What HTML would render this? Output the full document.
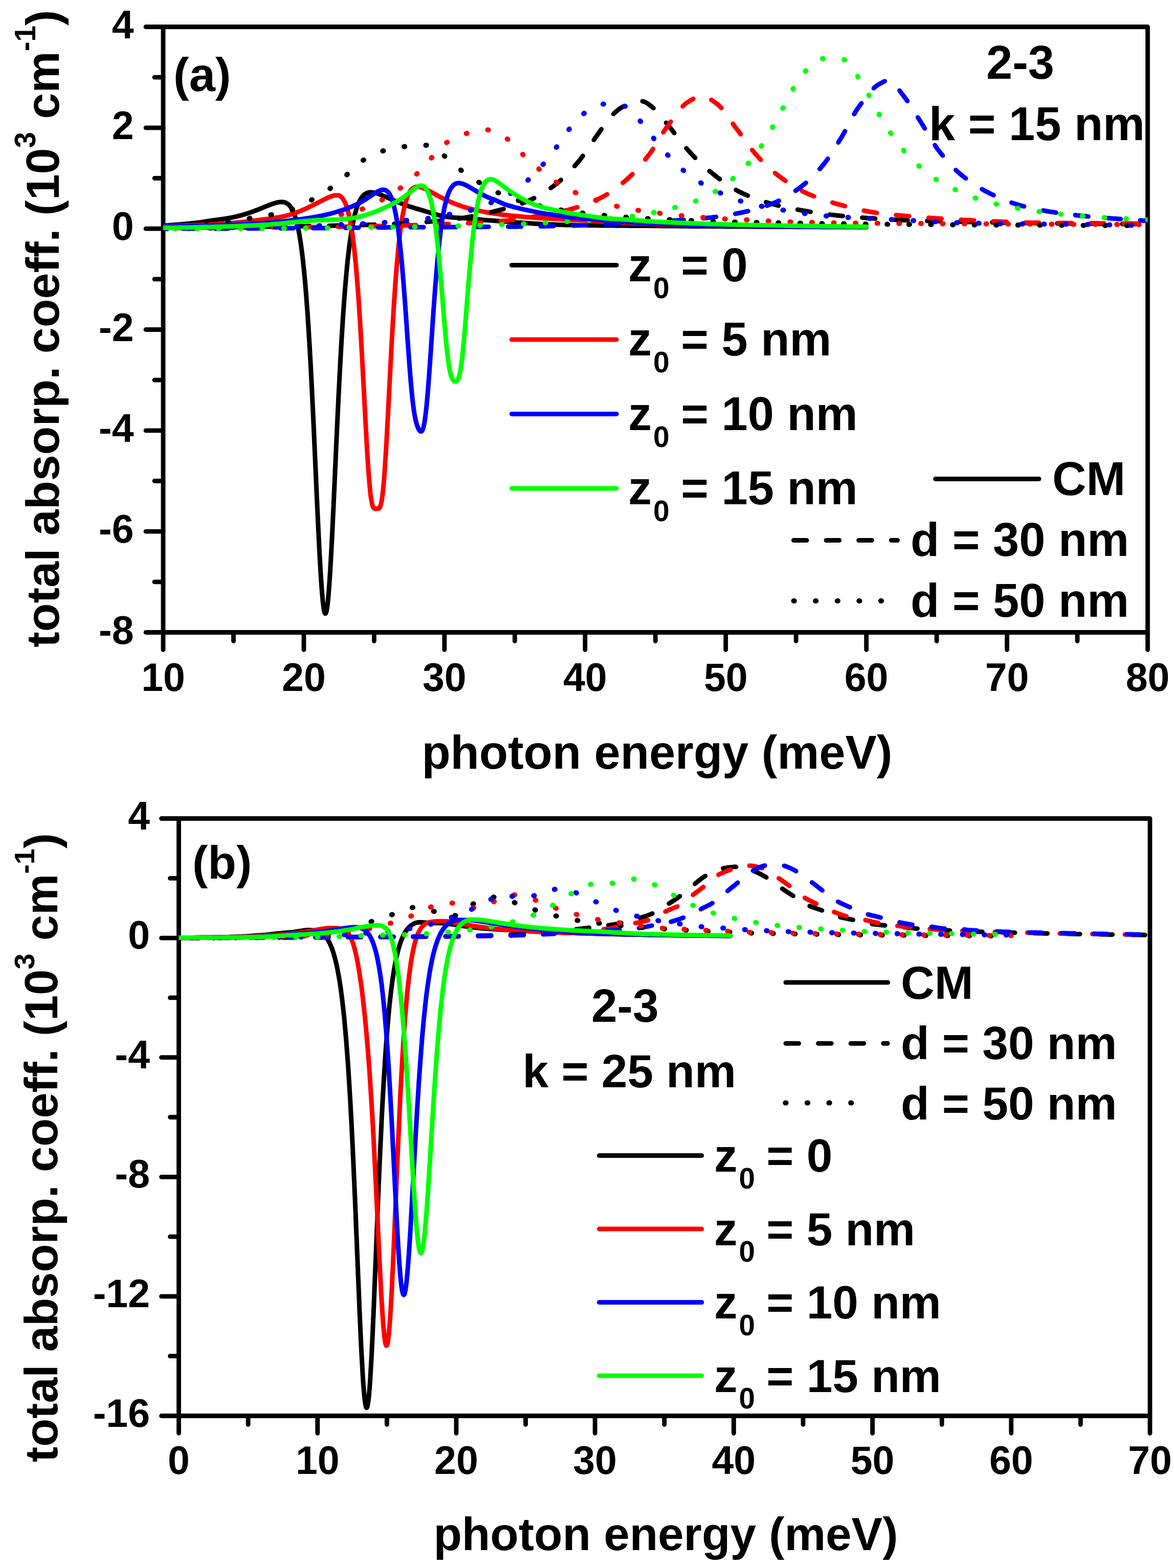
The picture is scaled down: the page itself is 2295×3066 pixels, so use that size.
<!DOCTYPE html><html><head><meta charset="utf-8"><title>absorption</title><style>html,body{margin:0;padding:0;background:#fff;}svg{display:block;}</style></head><body><svg width="2295" height="3066" viewBox="0 0 2295 3066" font-family="'Liberation Sans', Arial, sans-serif" font-weight="bold">
<rect width="2295" height="3066" fill="#fff"/>
<path d="M319.0,1236.5 L319.0,52.5 L2243.5,52.5 L2243.5,1236.5 Z" fill="none" stroke="#000" stroke-width="8.8" stroke-linejoin="round"/>
<path d="M319.0,52.50 L285.0,52.50 M319.0,249.83 L285.0,249.83 M319.0,447.17 L285.0,447.17 M319.0,644.50 L285.0,644.50 M319.0,841.83 L285.0,841.83 M319.0,1039.17 L285.0,1039.17 M319.0,1236.50 L285.0,1236.50 M319.0,151.17 L302.0,151.17 M319.0,348.50 L302.0,348.50 M319.0,545.83 L302.0,545.83 M319.0,743.17 L302.0,743.17 M319.0,940.50 L302.0,940.50 M319.0,1137.83 L302.0,1137.83 M319.00,1236.5 L319.00,1270.5 M593.93,1236.5 L593.93,1270.5 M868.86,1236.5 L868.86,1270.5 M1143.79,1236.5 L1143.79,1270.5 M1418.71,1236.5 L1418.71,1270.5 M1693.64,1236.5 L1693.64,1270.5 M1968.57,1236.5 L1968.57,1270.5 M2243.50,1236.5 L2243.50,1270.5 M456.46,1236.5 L456.46,1253.5 M731.39,1236.5 L731.39,1253.5 M1006.32,1236.5 L1006.32,1253.5 M1281.25,1236.5 L1281.25,1253.5 M1556.18,1236.5 L1556.18,1253.5 M1831.11,1236.5 L1831.11,1253.5 M2106.04,1236.5 L2106.04,1253.5" fill="none" stroke="#000" stroke-width="8.8" stroke-linecap="round"/>
<text x="261.5" y="74.50" font-size="77" text-anchor="end">4</text>
<text x="261.5" y="271.83" font-size="77" text-anchor="end">2</text>
<text x="261.5" y="469.17" font-size="77" text-anchor="end">0</text>
<text x="261.5" y="666.50" font-size="77" text-anchor="end">-2</text>
<text x="261.5" y="863.83" font-size="77" text-anchor="end">-4</text>
<text x="261.5" y="1061.17" font-size="77" text-anchor="end">-6</text>
<text x="261.5" y="1258.50" font-size="77" text-anchor="end">-8</text>
<text x="319.00" y="1350.90" font-size="77" text-anchor="middle">10</text>
<text x="593.93" y="1350.90" font-size="77" text-anchor="middle">20</text>
<text x="868.86" y="1350.90" font-size="77" text-anchor="middle">30</text>
<text x="1143.79" y="1350.90" font-size="77" text-anchor="middle">40</text>
<text x="1418.71" y="1350.90" font-size="77" text-anchor="middle">50</text>
<text x="1693.64" y="1350.90" font-size="77" text-anchor="middle">60</text>
<text x="1968.57" y="1350.90" font-size="77" text-anchor="middle">70</text>
<text x="2243.50" y="1350.90" font-size="77" text-anchor="middle">80</text>
<clipPath id="clipa"><rect x="319.0" y="52.5" width="1924.5" height="1184.0"/></clipPath>
<g clip-path="url(#clipa)">
<path d="M319.0,441.0 L325.9,440.7 L332.7,440.3 L339.6,439.8 L346.5,439.3 L353.4,438.7 L360.2,438.1 L367.1,437.5 L374.0,436.8 L380.9,436.0 L387.7,435.1 L394.6,434.1 L401.5,433.1 L408.4,432.0 L415.2,431.0 L422.1,430.1 L429.0,429.1 L435.8,428.2 L442.7,427.2 L449.6,426.0 L456.5,424.7 L463.3,423.1 L470.2,421.3 L477.1,419.4 L484.0,417.3 L490.8,414.9 L497.7,412.4 L504.6,409.8 L511.4,407.0 L518.3,404.2 L525.2,401.5 L525.7,401.3 L526.8,400.9 L527.9,400.4 L529.0,400.0 L530.1,399.6 L531.2,399.2 L532.1,398.8 L532.3,398.8 L533.4,398.4 L534.5,398.0 L535.6,397.7 L536.7,397.3 L537.8,397.0 L538.9,396.7 L538.9,396.6 L540.0,396.4 L541.1,396.1 L542.2,395.8 L543.3,395.6 L544.4,395.4 L545.5,395.2 L545.8,395.2 L546.6,395.1 L547.7,395.0 L548.8,394.9 L549.9,394.9 L551.0,394.9 L552.1,395.0 L552.7,395.0 L553.2,395.1 L554.3,395.2 L555.4,395.4 L556.5,395.7 L557.6,396.1 L558.7,396.5 L559.6,397.0 L559.8,397.1 L560.9,397.7 L562.0,398.4 L563.1,399.2 L564.2,400.1 L565.3,401.2 L566.4,402.4 L566.4,402.5 L567.5,403.8 L568.6,405.3 L569.7,407.0 L570.8,408.8 L571.9,410.9 L573.0,413.2 L573.3,414.0 L574.1,415.7 L575.2,418.5 L576.3,421.5 L577.4,424.9 L578.5,428.5 L579.5,432.4 L580.2,434.9 L580.6,436.7 L581.7,441.4 L582.8,446.4 L583.9,451.9 L585.0,457.8 L586.1,464.2 L587.1,469.9 L587.2,471.0 L588.3,478.4 L589.4,486.4 L590.5,494.9 L591.6,504.0 L592.7,513.7 L593.8,524.2 L593.9,525.1 L594.9,535.3 L596.0,547.1 L597.1,559.7 L598.2,573.0 L599.3,587.2 L600.4,602.1 L600.8,607.3 L601.5,617.9 L602.6,634.4 L603.7,651.9 L604.8,670.1 L605.9,689.2 L607.0,709.1 L607.7,721.1 L608.1,729.8 L609.2,751.2 L610.3,773.4 L611.4,796.2 L612.5,819.5 L613.6,843.3 L614.5,863.5 L614.7,867.6 L615.8,892.1 L616.9,916.7 L618.0,941.4 L619.1,966.0 L620.2,990.2 L621.3,1014.0 L621.4,1016.0 L622.4,1037.2 L623.5,1059.5 L624.6,1080.8 L625.7,1100.9 L626.8,1119.6 L627.9,1136.8 L628.3,1142.1 L629.0,1152.1 L630.1,1165.6 L631.2,1177.0 L632.3,1186.2 L633.4,1193.1 L634.5,1197.7 L635.2,1199.2 L635.6,1199.8 L636.7,1199.5 L637.8,1196.8 L638.9,1191.7 L640.0,1184.3 L641.1,1174.7 L642.0,1165.0 L642.2,1162.9 L643.3,1149.1 L644.4,1133.5 L645.5,1116.1 L646.6,1097.3 L647.7,1077.1 L648.8,1055.8 L648.9,1054.0 L649.9,1033.5 L651.0,1010.4 L652.1,986.7 L653.2,962.6 L654.3,938.2 L655.4,913.7 L655.8,905.6 L656.5,889.3 L657.6,865.0 L658.7,841.0 L659.8,817.4 L660.9,794.2 L662.0,771.6 L662.7,758.7 L663.1,749.6 L664.2,728.3 L665.3,707.7 L666.4,687.8 L667.5,668.7 L668.6,650.4 L669.5,635.8 L669.7,632.9 L670.8,616.2 L671.9,600.2 L673.0,585.1 L674.1,570.7 L675.2,557.1 L676.3,544.2 L676.4,543.2 L677.4,532.1 L678.5,520.6 L679.6,509.8 L680.7,499.7 L681.8,490.2 L682.9,481.2 L683.3,478.4 L684.0,472.8 L685.1,465.0 L686.2,457.7 L687.3,450.8 L688.4,444.4 L689.5,438.5 L690.2,435.2 L690.6,432.9 L691.7,427.8 L692.8,423.0 L693.9,418.6 L695.0,414.5 L696.1,410.7 L697.0,407.7 L697.2,407.2 L698.3,403.9 L699.4,401.0 L700.5,398.2 L701.6,395.7 L702.7,393.4 L703.8,391.3 L703.9,391.1 L704.9,389.4 L706.0,387.6 L707.1,386.0 L708.2,384.6 L709.3,383.3 L710.4,382.1 L710.8,381.8 L711.5,381.1 L712.6,380.2 L713.7,379.4 L714.8,378.7 L715.9,378.1 L717.0,377.6 L717.6,377.3 L718.1,377.1 L719.2,376.8 L720.3,376.5 L721.4,376.3 L722.5,376.2 L723.6,376.1 L724.5,376.0 L724.7,376.0 L725.8,376.1 L726.9,376.1 L728.0,376.2 L729.1,376.4 L730.2,376.5 L731.3,376.7 L731.4,376.8 L732.4,377.0 L733.5,377.2 L734.6,377.5 L735.7,377.8 L736.8,378.1 L737.9,378.5 L738.3,378.6 L739.0,378.9 L740.1,379.2 L741.2,379.6 L742.3,380.0 L743.4,380.5 L744.5,380.9 L745.1,381.1 L752.0,384.0 L758.9,387.0 L765.8,390.0 L772.6,393.0 L779.5,395.9 L786.4,398.6 L793.3,401.1 L800.1,403.6 L807.0,405.8 L813.9,407.9 L820.7,409.9 L827.6,411.9 L834.5,414.0 L841.4,416.1 L848.2,418.2 L855.1,420.1 L862.0,421.8 L868.9,423.2 L875.7,424.2 L882.6,424.9 L889.5,425.5 L896.4,425.9 L903.2,426.3 L910.1,426.8 L917.0,427.4 L923.8,428.1 L930.7,428.7 L937.6,429.3 L944.5,429.9 L951.3,430.5 L958.2,431.0 L965.1,431.5 L972.0,432.1 L978.8,432.6 L985.7,433.1 L992.6,433.7 L999.4,434.2 L1006.3,434.7 L1013.2,435.2 L1020.1,435.6 L1026.9,436.1 L1033.8,436.5 L1040.7,437.0 L1047.6,437.4 L1054.4,437.8 L1061.3,438.2 L1068.2,438.5 L1075.1,438.8 L1081.9,439.1 L1088.8,439.3 L1095.7,439.5 L1102.5,439.7 L1109.4,439.9 L1116.3,440.1 L1123.2,440.2 L1130.0,440.4 L1136.9,440.5 L1143.8,440.6 L1150.7,440.7 L1157.5,440.8 L1164.4,440.8 L1171.3,440.9 L1178.2,441.0 L1185.0,441.0 L1191.9,441.1 L1198.8,441.1 L1205.6,441.2 L1212.5,441.2 L1219.4,441.3 L1226.3,441.3 L1233.1,441.4 L1240.0,441.4 L1246.9,441.5 L1253.8,441.5 L1260.6,441.6 L1267.5,441.6 L1274.4,441.7 L1281.2,441.7 L1288.1,441.8 L1295.0,441.9 L1301.9,441.9 L1308.7,442.0 L1315.6,442.1 L1322.5,442.1 L1329.4,442.2 L1336.2,442.3 L1343.1,442.3 L1350.0,442.4 L1356.9,442.4 L1363.7,442.5 L1370.6,442.5 L1377.5,442.6 L1384.3,442.6 L1391.2,442.7 L1398.1,442.7 L1405.0,442.8 L1411.8,442.8 L1418.7,442.9 L1425.6,442.9 L1432.5,443.0 L1439.3,443.0 L1446.2,443.1 L1453.1,443.1 L1460.0,443.1 L1466.8,443.2 L1473.7,443.2 L1480.6,443.3 L1487.4,443.3 L1494.3,443.3 L1501.2,443.4 L1508.1,443.4 L1514.9,443.4 L1521.8,443.5 L1528.7,443.5 L1535.6,443.6 L1542.4,443.6 L1549.3,443.6 L1556.2,443.7 L1563.1,443.7 L1569.9,443.7 L1576.8,443.7 L1583.7,443.8 L1590.5,443.8 L1597.4,443.8 L1604.3,443.9 L1611.2,443.9 L1618.0,443.9 L1624.9,444.0 L1631.8,444.0 L1638.7,444.0 L1645.5,444.0 L1652.4,444.1 L1659.3,444.1 L1666.2,444.1 L1673.0,444.1 L1679.9,444.2 L1686.8,444.2 L1693.6,444.2" fill="none" stroke="#000000" stroke-width="9.0" stroke-linejoin="round" stroke-linecap="round" />
<path d="M319.0,442.2 L325.9,442.1 L332.7,441.9 L339.6,441.7 L346.5,441.5 L353.4,441.3 L360.2,441.1 L367.1,440.8 L374.0,440.6 L380.9,440.3 L387.7,440.0 L394.6,439.7 L401.5,439.4 L408.4,439.1 L415.2,438.7 L422.1,438.3 L429.0,437.9 L435.8,437.4 L442.7,436.9 L449.6,436.4 L456.5,435.8 L463.3,435.1 L470.2,434.5 L477.1,433.8 L484.0,433.0 L490.8,432.2 L497.7,431.4 L504.6,430.5 L511.4,429.5 L518.3,428.6 L525.2,427.7 L532.1,426.8 L538.9,425.8 L545.8,424.7 L552.7,423.4 L559.6,421.8 L566.4,419.9 L573.3,417.7 L580.2,415.2 L587.1,412.6 L593.9,409.7 L600.8,406.6 L607.7,403.3 L614.5,399.9 L621.4,396.4 L626.1,394.0 L627.2,393.4 L628.3,392.9 L628.3,392.9 L629.4,392.3 L630.5,391.7 L631.6,391.2 L632.7,390.6 L633.8,390.0 L634.9,389.5 L635.2,389.4 L636.0,388.9 L637.1,388.4 L638.2,387.9 L639.3,387.3 L640.4,386.8 L641.5,386.3 L642.0,386.1 L642.6,385.8 L643.7,385.4 L644.8,384.9 L645.9,384.5 L647.0,384.1 L648.1,383.7 L648.9,383.4 L649.2,383.3 L650.3,383.0 L651.4,382.7 L652.5,382.4 L653.6,382.2 L654.7,382.0 L655.8,381.9 L655.8,381.9 L656.9,381.9 L658.0,381.9 L659.1,381.9 L660.2,382.1 L661.3,382.0 L662.4,382.1 L662.7,382.2 L663.5,382.6 L664.6,383.2 L665.7,383.9 L666.8,384.8 L667.9,385.8 L669.0,387.1 L669.5,387.7 L670.1,388.5 L671.2,390.1 L672.3,391.9 L673.4,394.0 L674.5,396.3 L675.6,398.8 L676.4,400.9 L676.7,401.6 L677.8,404.8 L678.9,408.2 L680.0,412.0 L681.1,416.2 L682.2,420.7 L683.3,425.7 L683.3,425.7 L684.4,431.1 L685.5,436.9 L686.6,443.3 L687.7,450.2 L688.8,457.6 L689.9,465.7 L690.2,467.8 L691.0,474.3 L692.1,483.6 L693.2,493.6 L694.3,504.3 L695.4,515.7 L696.5,527.9 L697.0,534.3 L697.6,540.8 L698.7,554.6 L699.8,569.1 L700.9,584.5 L702.0,600.7 L703.1,617.6 L703.9,630.9 L704.2,635.3 L705.3,653.7 L706.4,672.8 L707.5,692.5 L708.6,712.6 L709.7,733.2 L710.8,754.1 L710.8,754.1 L711.9,775.1 L713.0,796.0 L714.1,816.8 L715.2,837.2 L716.3,857.1 L717.4,876.1 L717.6,880.8 L718.5,894.2 L719.6,911.0 L720.7,926.5 L721.8,940.5 L722.9,952.8 L724.0,963.4 L724.5,968.0 L725.1,972.2 L726.2,979.3 L727.3,984.8 L728.4,988.8 L729.5,991.6 L730.6,993.3 L731.4,994.1 L731.7,994.3 L732.8,994.7 L733.9,994.8 L735.0,994.8 L736.1,994.8 L737.2,994.8 L738.3,994.8 L738.3,994.8 L739.4,994.7 L740.5,994.3 L741.6,993.3 L742.7,991.7 L743.8,989.0 L744.9,985.1 L745.1,983.9 L746.0,979.7 L747.1,972.7 L748.2,964.0 L749.3,953.5 L750.4,941.3 L751.5,927.4 L752.0,919.8 L752.6,911.9 L753.7,895.0 L754.8,876.9 L755.9,857.6 L757.0,837.5 L758.1,816.8 L758.9,800.9 L759.2,795.6 L760.3,774.2 L761.4,752.7 L762.5,731.3 L763.6,710.2 L764.7,689.4 L765.8,669.1 L765.8,669.0 L766.9,649.4 L768.0,630.3 L769.1,612.0 L770.2,594.4 L771.3,577.7 L772.4,561.7 L772.6,557.8 L773.5,546.6 L774.6,532.2 L775.7,518.7 L776.8,506.1 L777.9,494.1 L779.0,483.0 L779.5,477.6 L780.1,472.6 L781.2,462.8 L782.3,453.8 L783.4,445.4 L784.5,437.6 L785.6,430.5 L786.4,425.4 L786.7,423.8 L787.8,417.7 L788.9,412.1 L790.0,406.9 L791.1,402.2 L792.2,397.9 L793.3,393.9 L793.3,393.9 L794.4,390.4 L795.5,387.1 L796.6,384.2 L797.7,381.5 L798.8,379.2 L799.9,377.0 L800.1,376.5 L800.9,375.1 L802.0,373.4 L803.1,372.0 L804.2,370.7 L805.3,369.5 L806.4,368.6 L807.0,368.1 L807.5,367.7 L808.6,367.0 L809.7,366.5 L810.8,366.0 L811.9,365.7 L813.0,365.4 L813.9,365.3 L814.1,365.2 L815.2,365.2 L816.3,365.1 L817.4,365.2 L818.5,365.3 L819.6,365.5 L820.7,365.7 L820.7,365.7 L821.8,366.0 L822.9,366.3 L824.0,366.6 L825.1,367.0 L826.2,367.4 L827.3,367.8 L827.6,367.9 L828.4,368.3 L829.5,368.8 L830.6,369.2 L831.7,369.8 L832.8,370.3 L833.9,370.8 L834.5,371.1 L835.0,371.4 L836.1,372.0 L837.2,372.5 L838.3,373.1 L839.4,373.7 L840.5,374.3 L841.4,374.8 L841.6,374.9 L842.7,375.5 L843.8,376.1 L844.9,376.7 L848.2,378.5 L855.1,382.3 L862.0,385.9 L868.9,389.3 L875.7,392.6 L882.6,395.7 L889.5,398.5 L896.4,401.1 L903.2,403.4 L910.1,405.6 L917.0,407.6 L923.8,409.3 L930.7,410.9 L937.6,412.4 L944.5,413.8 L951.3,415.1 L958.2,416.2 L965.1,417.3 L972.0,418.4 L978.8,419.3 L985.7,420.2 L992.6,421.0 L999.4,421.7 L1006.3,422.3 L1013.2,423.0 L1020.1,423.6 L1026.9,424.2 L1033.8,424.7 L1040.7,425.3 L1047.6,425.8 L1054.4,426.3 L1061.3,426.7 L1068.2,427.1 L1075.1,427.4 L1081.9,427.7 L1088.8,428.1 L1095.7,428.5 L1102.5,428.9 L1109.4,429.3 L1116.3,429.7 L1123.2,430.1 L1130.0,430.5 L1136.9,430.9 L1143.8,431.3 L1150.7,431.8 L1157.5,432.2 L1164.4,432.6 L1171.3,433.0 L1178.2,433.4 L1185.0,433.8 L1191.9,434.2 L1198.8,434.6 L1205.6,435.0 L1212.5,435.3 L1219.4,435.7 L1226.3,436.0 L1233.1,436.4 L1240.0,436.7 L1246.9,437.0 L1253.8,437.3 L1260.6,437.6 L1267.5,437.8 L1274.4,438.1 L1281.2,438.3 L1288.1,438.5 L1295.0,438.7 L1301.9,438.9 L1308.7,439.1 L1315.6,439.3 L1322.5,439.5 L1329.4,439.6 L1336.2,439.8 L1343.1,440.0 L1350.0,440.1 L1356.9,440.3 L1363.7,440.4 L1370.6,440.6 L1377.5,440.7 L1384.3,440.9 L1391.2,441.0 L1398.1,441.1 L1405.0,441.3 L1411.8,441.4 L1418.7,441.5 L1425.6,441.6 L1432.5,441.7 L1439.3,441.8 L1446.2,441.9 L1453.1,442.0 L1460.0,442.1 L1466.8,442.2 L1473.7,442.2 L1480.6,442.3 L1487.4,442.4 L1494.3,442.4 L1501.2,442.5 L1508.1,442.5 L1514.9,442.6 L1521.8,442.7 L1528.7,442.7 L1535.6,442.8 L1542.4,442.8 L1549.3,442.9 L1556.2,442.9 L1563.1,443.0 L1569.9,443.0 L1576.8,443.1 L1583.7,443.1 L1590.5,443.2 L1597.4,443.2 L1604.3,443.2 L1611.2,443.3 L1618.0,443.3 L1624.9,443.4 L1631.8,443.4 L1638.7,443.4 L1645.5,443.5 L1652.4,443.5 L1659.3,443.6 L1666.2,443.6 L1673.0,443.6 L1679.9,443.7 L1686.8,443.7 L1693.6,443.7" fill="none" stroke="#FF0000" stroke-width="9.0" stroke-linejoin="round" stroke-linecap="round" />
<path d="M319.0,445.2 L321.7,445.2 L324.5,445.2 L327.2,445.2 L330.0,445.2 L332.7,445.1 L335.5,445.1 L338.2,445.1 L341.0,445.1 L343.7,445.1 L346.5,445.1 L349.2,445.1 L352.0,445.0 L354.7,445.0 L357.5,445.0 L360.2,445.0 L363.0,445.0 L365.7,444.9 L368.5,444.9 L371.2,444.9 L374.0,444.9 L376.7,444.9 L379.5,444.8 L382.2,444.8 L385.0,444.8 L387.7,444.8 L390.5,444.8 L393.2,444.7 L396.0,444.7 L398.7,444.7 L401.5,444.7 L404.2,444.6 L407.0,444.6 L409.7,444.6 L412.5,444.6 L415.2,444.5 L418.0,444.5 L420.7,444.5 L423.5,444.5 L426.2,444.4 L429.0,444.4 L431.7,444.4 L434.5,444.3 L437.2,444.3 L440.0,444.3 L442.7,444.3 L445.5,444.2 L448.2,444.2 L451.0,444.2 L453.7,444.1 L456.5,444.1 L459.2,444.1 L462.0,444.0 L464.7,444.0 L467.5,444.0 L470.2,443.9 L473.0,443.9 L475.7,443.9 L478.5,443.8 L481.2,443.8 L484.0,443.8 L486.7,443.7 L489.5,443.7 L492.2,443.7 L495.0,443.6 L497.7,443.6 L500.5,443.6 L503.2,443.5 L506.0,443.5 L508.7,443.4 L511.4,443.4 L514.2,443.4 L516.9,443.3 L519.7,443.3 L522.4,443.3 L525.2,443.2 L527.9,443.2 L530.7,443.2 L533.4,443.1 L536.2,443.1 L538.9,443.0 L541.7,443.0 L544.4,443.0 L547.2,442.9 L549.9,442.9 L552.7,442.8 L555.4,442.8 L558.2,442.8 L560.9,442.7 L563.7,442.7 L566.4,442.6 L569.2,442.6 L571.9,442.6 L574.7,442.5 L577.4,442.5 L580.2,442.4 L582.9,442.4 L585.7,442.4 L588.4,442.3 L591.2,442.3 L593.9,442.2 L596.7,442.2 L599.4,442.2 L602.2,442.1 L604.9,442.1 L607.7,442.0 L610.4,442.0 L613.2,441.9 L615.9,441.9 L618.7,441.8 L621.4,441.8 L624.2,441.7 L626.9,441.7 L629.7,441.7 L632.4,441.6 L635.2,441.6 L637.9,441.5 L640.7,441.5 L643.4,441.4 L646.2,441.4 L648.9,441.3 L651.7,441.2 L654.4,441.2 L657.2,441.1 L659.9,441.1 L662.7,441.0 L665.4,441.0 L668.2,440.9 L670.9,440.9 L673.7,440.8 L676.4,440.7 L679.2,440.7 L681.9,440.6 L684.7,440.5 L687.4,440.5 L690.2,440.4 L692.9,440.3 L695.7,440.3 L698.4,440.2 L701.2,440.1 L703.9,440.1 L706.6,440.0 L709.4,439.9 L712.1,439.8 L714.9,439.8 L717.6,439.7 L720.4,439.6 L723.1,439.5 L725.9,439.4 L728.6,439.4 L731.4,439.3 L734.1,439.2 L736.9,439.1 L739.6,439.0 L742.4,438.9 L745.1,438.8 L747.9,438.7 L750.6,438.6 L753.4,438.5 L756.1,438.4 L758.9,438.3 L761.6,438.1 L764.4,438.0 L767.1,437.9 L769.9,437.8 L772.6,437.6 L775.4,437.5 L778.1,437.4 L780.9,437.2 L783.6,437.1 L786.4,436.9 L789.1,436.8 L791.9,436.6 L794.6,436.5 L797.4,436.3 L800.1,436.2 L802.9,436.0 L805.6,435.8 L808.4,435.7 L811.1,435.5 L813.9,435.3 L816.6,435.1 L819.4,435.0 L822.1,434.8 L824.9,434.6 L827.6,434.4 L830.4,434.2 L833.1,434.0 L835.9,433.7 L838.6,433.5 L841.4,433.3 L844.1,433.1 L846.9,432.8 L849.6,432.6 L852.4,432.3 L855.1,432.1 L857.9,431.8 L860.6,431.5 L863.4,431.3 L866.1,431.0 L868.9,430.7 L871.6,430.4 L874.4,430.1 L877.1,429.8 L879.9,429.5 L882.6,429.2 L885.4,428.8 L888.1,428.5 L890.9,428.1 L893.6,427.8 L896.4,427.4 L899.1,427.1 L901.8,426.7 L904.6,426.3 L907.3,425.8 L910.1,425.4 L912.8,424.9 L915.6,424.4 L918.3,423.9 L921.1,423.4 L923.8,422.9 L926.6,422.3 L929.3,421.8 L932.1,421.2 L934.8,420.6 L937.6,420.0 L940.3,419.4 L943.1,418.8 L945.8,418.2 L948.6,417.5 L951.3,416.9 L954.1,416.2 L956.8,415.6 L959.6,414.9 L962.3,414.3 L965.1,413.6 L967.8,412.9 L970.6,412.2 L973.3,411.6 L976.1,410.9 L978.8,410.2 L981.6,409.5 L984.3,408.8 L987.1,408.0 L989.8,407.3 L992.6,406.5 L995.3,405.8 L998.1,405.0 L1000.8,404.2 L1003.6,403.3 L1006.3,402.5 L1009.1,401.6 L1011.8,400.7 L1014.6,399.8 L1017.3,398.8 L1020.1,397.9 L1022.8,396.8 L1025.6,395.8 L1028.3,394.7 L1031.1,393.6 L1033.8,392.5 L1036.6,391.2 L1039.3,389.9 L1042.1,388.6 L1044.8,387.2 L1047.6,385.8 L1050.3,384.3 L1053.1,382.7 L1055.8,381.1 L1058.6,379.5 L1061.3,377.8 L1064.1,376.1 L1066.8,374.3 L1069.6,372.5 L1072.3,370.6 L1075.1,368.7 L1077.8,366.8 L1080.6,364.8 L1083.3,362.8 L1086.1,360.7 L1088.8,358.6 L1091.5,356.3 L1094.3,354.0 L1097.0,351.5 L1099.8,349.0 L1102.5,346.4 L1105.3,343.8 L1108.0,341.0 L1110.8,338.2 L1113.5,335.3 L1116.3,332.4 L1119.0,329.4 L1121.8,326.4 L1124.5,323.3 L1127.3,320.2 L1130.0,317.0 L1132.8,313.6 L1135.5,310.0 L1138.3,306.3 L1141.0,302.5 L1143.8,298.5 L1146.5,294.5 L1149.3,290.5 L1152.0,286.4 L1154.8,282.4 L1157.5,278.3 L1160.3,274.3 L1163.0,270.4 L1165.8,266.6 L1168.5,262.8 L1171.3,258.9 L1174.0,254.9 L1176.8,250.9 L1179.5,246.9 L1182.3,243.0 L1185.0,239.2 L1187.8,235.6 L1190.5,232.1 L1193.3,228.9 L1196.0,226.0 L1198.8,223.3 L1201.5,220.7 L1204.3,218.2 L1207.0,215.9 L1209.8,213.7 L1212.5,211.7 L1215.3,210.0 L1218.0,208.6 L1220.8,207.3 L1223.5,206.1 L1226.3,204.9 L1229.0,203.7 L1231.8,202.6 L1234.5,201.6 L1237.3,200.7 L1240.0,199.8 L1242.8,199.1 L1245.5,198.5 L1248.3,198.1 L1251.0,197.8 L1253.8,197.7 L1256.5,198.0 L1259.3,198.8 L1262.0,200.1 L1264.8,201.6 L1267.5,203.5 L1270.3,205.6 L1273.0,207.7 L1275.8,210.0 L1278.5,212.1 L1281.2,214.5 L1284.0,217.2 L1286.7,220.2 L1289.5,223.4 L1292.2,226.8 L1295.0,230.4 L1297.7,234.0 L1300.5,237.7 L1303.2,241.3 L1306.0,244.8 L1308.7,248.2 L1311.5,251.6 L1314.2,255.1 L1317.0,258.6 L1319.7,262.2 L1322.5,265.7 L1325.2,269.3 L1328.0,272.9 L1330.7,276.4 L1333.5,279.9 L1336.2,283.3 L1339.0,286.7 L1341.7,289.9 L1344.5,293.1 L1347.2,296.1 L1350.0,299.1 L1352.7,302.0 L1355.5,304.9 L1358.2,307.8 L1361.0,310.6 L1363.7,313.4 L1366.5,316.1 L1369.2,318.8 L1372.0,321.4 L1374.7,324.0 L1377.5,326.5 L1380.2,329.0 L1383.0,331.4 L1385.7,333.7 L1388.5,335.9 L1391.2,338.1 L1394.0,340.3 L1396.7,342.4 L1399.5,344.6 L1402.2,346.7 L1405.0,348.8 L1407.7,350.8 L1410.5,352.9 L1413.2,354.9 L1416.0,356.8 L1418.7,358.8 L1421.5,360.6 L1424.2,362.5 L1427.0,364.3 L1429.7,366.0 L1432.5,367.7 L1435.2,369.3 L1438.0,370.9 L1440.7,372.5 L1443.5,374.0 L1446.2,375.4 L1449.0,376.7 L1451.7,378.0 L1454.5,379.3 L1457.2,380.5 L1460.0,381.7 L1462.7,382.9 L1465.5,384.0 L1468.2,385.1 L1471.0,386.2 L1473.7,387.3 L1476.4,388.3 L1479.2,389.3 L1481.9,390.3 L1484.7,391.3 L1487.4,392.2 L1490.2,393.1 L1492.9,394.0 L1495.7,394.8 L1498.4,395.7 L1501.2,396.5 L1503.9,397.3 L1506.7,398.0 L1509.4,398.8 L1512.2,399.5 L1514.9,400.2 L1517.7,400.9 L1520.4,401.6 L1523.2,402.3 L1525.9,402.9 L1528.7,403.6 L1531.4,404.2 L1534.2,404.8 L1536.9,405.4 L1539.7,406.0 L1542.4,406.6 L1545.2,407.1 L1547.9,407.7 L1550.7,408.2 L1553.4,408.8 L1556.2,409.3 L1558.9,409.8 L1561.7,410.3 L1564.4,410.8 L1567.2,411.3 L1569.9,411.8 L1572.7,412.2 L1575.4,412.7 L1578.2,413.1 L1580.9,413.6 L1583.7,414.1 L1586.4,414.5 L1589.2,414.9 L1591.9,415.4 L1594.7,415.8 L1597.4,416.2 L1600.2,416.6 L1602.9,417.0 L1605.7,417.4 L1608.4,417.8 L1611.2,418.2 L1613.9,418.5 L1616.7,418.9 L1619.4,419.2 L1622.2,419.6 L1624.9,419.9 L1627.7,420.3 L1630.4,420.6 L1633.2,420.9 L1635.9,421.2 L1638.7,421.5 L1641.4,421.8 L1644.2,422.0 L1646.9,422.3 L1649.7,422.6 L1652.4,422.8 L1655.2,423.1 L1657.9,423.3 L1660.7,423.6 L1663.4,423.8 L1666.2,424.0 L1668.9,424.3 L1671.6,424.5 L1674.4,424.7 L1677.1,424.9 L1679.9,425.1 L1682.6,425.3 L1685.4,425.5 L1688.1,425.8 L1690.9,426.0 L1693.6,426.2 L1696.4,426.4 L1699.1,426.6 L1701.9,426.8 L1704.6,426.9 L1707.4,427.1 L1710.1,427.3 L1712.9,427.5 L1715.6,427.7 L1718.4,427.9 L1721.1,428.1 L1723.9,428.3 L1726.6,428.5 L1729.4,428.7 L1732.1,428.8 L1734.9,429.0 L1737.6,429.2 L1740.4,429.3 L1743.1,429.5 L1745.9,429.6 L1748.6,429.8 L1751.4,429.9 L1754.1,430.0 L1756.9,430.2 L1759.6,430.3 L1762.4,430.4 L1765.1,430.5 L1767.9,430.6 L1770.6,430.7 L1773.4,430.8 L1776.1,430.9 L1778.9,431.0 L1781.6,431.1 L1784.4,431.2 L1787.1,431.2 L1789.9,431.3 L1792.6,431.4 L1795.4,431.5 L1798.1,431.5 L1800.9,431.6 L1803.6,431.7 L1806.4,431.8 L1809.1,431.8 L1811.9,431.9 L1814.6,432.0 L1817.4,432.0 L1820.1,432.1 L1822.9,432.2 L1825.6,432.2 L1828.4,432.3 L1831.1,432.4 L1833.9,432.4 L1836.6,432.5 L1839.4,432.6 L1842.1,432.6 L1844.9,432.7 L1847.6,432.8 L1850.4,432.8 L1853.1,432.9 L1855.9,433.0 L1858.6,433.0 L1861.3,433.1 L1864.1,433.2 L1866.8,433.2 L1869.6,433.3 L1872.3,433.4 L1875.1,433.4 L1877.8,433.5 L1880.6,433.6 L1883.3,433.6 L1886.1,433.7 L1888.8,433.7 L1891.6,433.8 L1894.3,433.9 L1897.1,433.9 L1899.8,434.0 L1902.6,434.0 L1905.3,434.1 L1908.1,434.2 L1910.8,434.2 L1913.6,434.3 L1916.3,434.3 L1919.1,434.4 L1921.8,434.4 L1924.6,434.5 L1927.3,434.6 L1930.1,434.6 L1932.8,434.7 L1935.6,434.7 L1938.3,434.8 L1941.1,434.8 L1943.8,434.9 L1946.6,434.9 L1949.3,435.0 L1952.1,435.0 L1954.8,435.1 L1957.6,435.1 L1960.3,435.2 L1963.1,435.2 L1965.8,435.3 L1968.6,435.3 L1971.3,435.4 L1974.1,435.4 L1976.8,435.5 L1979.6,435.5 L1982.3,435.6 L1985.1,435.6 L1987.8,435.7 L1990.6,435.7 L1993.3,435.8 L1996.1,435.8 L1998.8,435.8 L2001.6,435.9 L2004.3,435.9 L2007.1,436.0 L2009.8,436.0 L2012.6,436.1 L2015.3,436.1 L2018.1,436.1 L2020.8,436.2 L2023.6,436.2 L2026.3,436.3 L2029.1,436.3 L2031.8,436.4 L2034.6,436.4 L2037.3,436.4 L2040.1,436.5 L2042.8,436.5 L2045.6,436.6 L2048.3,436.6 L2051.1,436.6 L2053.8,436.7 L2056.5,436.7 L2059.3,436.8 L2062.0,436.8 L2064.8,436.8 L2067.5,436.9 L2070.3,436.9 L2073.0,436.9 L2075.8,437.0 L2078.5,437.0 L2081.3,437.0 L2084.0,437.1 L2086.8,437.1 L2089.5,437.1 L2092.3,437.2 L2095.0,437.2 L2097.8,437.2 L2100.5,437.3 L2103.3,437.3 L2106.0,437.3 L2108.8,437.3 L2111.5,437.3 L2114.3,437.4 L2117.0,437.4 L2119.8,437.4 L2122.5,437.5 L2125.3,437.5 L2128.0,437.5 L2130.8,437.5 L2133.5,437.6 L2136.3,437.6 L2139.0,437.6 L2141.8,437.6 L2144.5,437.7 L2147.3,437.7 L2150.0,437.7 L2152.8,437.7 L2155.5,437.7 L2158.3,437.8 L2161.0,437.8 L2163.8,437.8 L2166.5,437.8 L2169.3,437.9 L2172.0,437.9 L2174.8,437.9 L2177.5,437.9 L2180.3,437.9 L2183.0,438.0 L2185.8,438.0 L2188.5,438.0 L2191.3,438.0 L2194.0,438.0 L2196.8,438.0 L2199.5,438.1 L2202.3,438.1 L2205.0,438.1 L2207.8,438.1 L2210.5,438.1 L2213.3,438.1 L2216.0,438.2 L2218.8,438.2 L2221.5,438.2 L2224.3,438.2 L2227.0,438.2 L2229.8,438.2 L2232.5,438.2 L2235.3,438.3 L2238.0,438.3 L2240.8,438.3 L2243.5,438.3" fill="none" stroke="#000000" stroke-width="9.0" stroke-linejoin="round" stroke-linecap="round" stroke-dasharray="25.5 38.1" stroke-dashoffset="57.1"/>
<path d="M319.0,446.2 L321.7,446.2 L324.5,446.2 L327.2,446.2 L330.0,446.2 L332.7,446.1 L335.5,446.1 L338.2,446.1 L341.0,446.1 L343.7,446.1 L346.5,446.1 L349.2,446.1 L352.0,446.1 L354.7,446.1 L357.5,446.1 L360.2,446.0 L363.0,446.0 L365.7,446.0 L368.5,446.0 L371.2,446.0 L374.0,446.0 L376.7,446.0 L379.5,446.0 L382.2,445.9 L385.0,445.9 L387.7,445.9 L390.5,445.9 L393.2,445.9 L396.0,445.9 L398.7,445.8 L401.5,445.8 L404.2,445.8 L407.0,445.8 L409.7,445.8 L412.5,445.8 L415.2,445.7 L418.0,445.7 L420.7,445.7 L423.5,445.7 L426.2,445.7 L429.0,445.7 L431.7,445.6 L434.5,445.6 L437.2,445.6 L440.0,445.6 L442.7,445.6 L445.5,445.5 L448.2,445.5 L451.0,445.5 L453.7,445.5 L456.5,445.4 L459.2,445.4 L462.0,445.4 L464.7,445.4 L467.5,445.4 L470.2,445.3 L473.0,445.3 L475.7,445.3 L478.5,445.3 L481.2,445.3 L484.0,445.2 L486.7,445.2 L489.5,445.2 L492.2,445.2 L495.0,445.1 L497.7,445.1 L500.5,445.1 L503.2,445.1 L506.0,445.0 L508.7,445.0 L511.4,445.0 L514.2,445.0 L516.9,444.9 L519.7,444.9 L522.4,444.9 L525.2,444.9 L527.9,444.8 L530.7,444.8 L533.4,444.8 L536.2,444.8 L538.9,444.7 L541.7,444.7 L544.4,444.7 L547.2,444.7 L549.9,444.6 L552.7,444.6 L555.4,444.6 L558.2,444.6 L560.9,444.5 L563.7,444.5 L566.4,444.5 L569.2,444.5 L571.9,444.4 L574.7,444.4 L577.4,444.4 L580.2,444.3 L582.9,444.3 L585.7,444.3 L588.4,444.3 L591.2,444.2 L593.9,444.2 L596.7,444.2 L599.4,444.1 L602.2,444.1 L604.9,444.1 L607.7,444.1 L610.4,444.0 L613.2,444.0 L615.9,444.0 L618.7,443.9 L621.4,443.9 L624.2,443.9 L626.9,443.8 L629.7,443.8 L632.4,443.8 L635.2,443.7 L637.9,443.7 L640.7,443.7 L643.4,443.6 L646.2,443.6 L648.9,443.6 L651.7,443.5 L654.4,443.5 L657.2,443.5 L659.9,443.4 L662.7,443.4 L665.4,443.3 L668.2,443.3 L670.9,443.3 L673.7,443.2 L676.4,443.2 L679.2,443.1 L681.9,443.1 L684.7,443.1 L687.4,443.0 L690.2,443.0 L692.9,442.9 L695.7,442.9 L698.4,442.8 L701.2,442.8 L703.9,442.7 L706.6,442.7 L709.4,442.6 L712.1,442.6 L714.9,442.5 L717.6,442.5 L720.4,442.4 L723.1,442.4 L725.9,442.3 L728.6,442.3 L731.4,442.2 L734.1,442.2 L736.9,442.1 L739.6,442.1 L742.4,442.0 L745.1,442.0 L747.9,441.9 L750.6,441.8 L753.4,441.8 L756.1,441.7 L758.9,441.7 L761.6,441.6 L764.4,441.5 L767.1,441.5 L769.9,441.4 L772.6,441.3 L775.4,441.3 L778.1,441.2 L780.9,441.1 L783.6,441.0 L786.4,441.0 L789.1,440.9 L791.9,440.8 L794.6,440.7 L797.4,440.7 L800.1,440.6 L802.9,440.5 L805.6,440.4 L808.4,440.3 L811.1,440.3 L813.9,440.2 L816.6,440.1 L819.4,440.0 L822.1,439.9 L824.9,439.8 L827.6,439.7 L830.4,439.6 L833.1,439.6 L835.9,439.5 L838.6,439.4 L841.4,439.3 L844.1,439.2 L846.9,439.1 L849.6,439.0 L852.4,438.9 L855.1,438.8 L857.9,438.7 L860.6,438.6 L863.4,438.5 L866.1,438.4 L868.9,438.3 L871.6,438.2 L874.4,438.1 L877.1,438.0 L879.9,437.9 L882.6,437.8 L885.4,437.6 L888.1,437.5 L890.9,437.4 L893.6,437.3 L896.4,437.2 L899.1,437.1 L901.8,437.0 L904.6,436.8 L907.3,436.7 L910.1,436.6 L912.8,436.5 L915.6,436.3 L918.3,436.2 L921.1,436.0 L923.8,435.9 L926.6,435.8 L929.3,435.6 L932.1,435.5 L934.8,435.3 L937.6,435.2 L940.3,435.0 L943.1,434.8 L945.8,434.7 L948.6,434.5 L951.3,434.3 L954.1,434.2 L956.8,434.0 L959.6,433.8 L962.3,433.6 L965.1,433.4 L967.8,433.2 L970.6,433.0 L973.3,432.8 L976.1,432.6 L978.8,432.4 L981.6,432.1 L984.3,431.9 L987.1,431.6 L989.8,431.4 L992.6,431.1 L995.3,430.7 L998.1,430.4 L1000.8,430.1 L1003.6,429.7 L1006.3,429.4 L1009.1,429.0 L1011.8,428.6 L1014.6,428.2 L1017.3,427.8 L1020.1,427.4 L1022.8,427.0 L1025.6,426.6 L1028.3,426.1 L1031.1,425.7 L1033.8,425.2 L1036.6,424.8 L1039.3,424.3 L1042.1,423.8 L1044.8,423.4 L1047.6,422.9 L1050.3,422.4 L1053.1,422.0 L1055.8,421.5 L1058.6,421.0 L1061.3,420.5 L1064.1,420.0 L1066.8,419.6 L1069.6,419.1 L1072.3,418.6 L1075.1,418.1 L1077.8,417.5 L1080.6,417.0 L1083.3,416.5 L1086.1,415.9 L1088.8,415.4 L1091.5,414.8 L1094.3,414.2 L1097.0,413.6 L1099.8,413.0 L1102.5,412.3 L1105.3,411.7 L1108.0,411.0 L1110.8,410.3 L1113.5,409.6 L1116.3,408.9 L1119.0,408.1 L1121.8,407.3 L1124.5,406.5 L1127.3,405.6 L1130.0,404.8 L1132.8,403.9 L1135.5,403.0 L1138.3,402.0 L1141.0,401.0 L1143.8,400.0 L1146.5,399.0 L1149.3,397.9 L1152.0,396.8 L1154.8,395.7 L1157.5,394.6 L1160.3,393.4 L1163.0,392.2 L1165.8,390.9 L1168.5,389.6 L1171.3,388.3 L1174.0,387.0 L1176.8,385.6 L1179.5,384.1 L1182.3,382.6 L1185.0,381.0 L1187.8,379.3 L1190.5,377.5 L1193.3,375.7 L1196.0,373.9 L1198.8,372.0 L1201.5,370.0 L1204.3,368.0 L1207.0,365.9 L1209.8,363.7 L1212.5,361.6 L1215.3,359.4 L1218.0,357.1 L1220.8,354.8 L1223.5,352.4 L1226.3,350.0 L1229.0,347.5 L1231.8,344.9 L1234.5,342.3 L1237.3,339.5 L1240.0,336.6 L1242.8,333.7 L1245.5,330.7 L1248.3,327.6 L1251.0,324.4 L1253.8,321.2 L1256.5,317.9 L1259.3,314.5 L1262.0,311.1 L1264.8,307.6 L1267.5,304.1 L1270.3,300.4 L1273.0,296.5 L1275.8,292.3 L1278.5,288.0 L1281.2,283.6 L1284.0,279.0 L1286.7,274.5 L1289.5,270.0 L1292.2,265.5 L1295.0,261.1 L1297.7,256.9 L1300.5,252.9 L1303.2,249.1 L1306.0,245.3 L1308.7,241.5 L1311.5,237.6 L1314.2,233.7 L1317.0,229.9 L1319.7,226.1 L1322.5,222.4 L1325.2,218.9 L1328.0,215.4 L1330.7,212.2 L1333.5,209.2 L1336.2,206.4 L1339.0,203.8 L1341.7,201.6 L1344.5,199.7 L1347.2,198.0 L1350.0,196.3 L1352.7,194.6 L1355.5,193.0 L1358.2,191.6 L1361.0,190.3 L1363.7,189.2 L1366.5,188.4 L1369.2,187.9 L1372.0,187.7 L1374.7,187.9 L1377.5,188.5 L1380.2,189.4 L1383.0,190.6 L1385.7,192.1 L1388.5,193.8 L1391.2,195.6 L1394.0,197.5 L1396.7,199.5 L1399.5,201.5 L1402.2,203.5 L1405.0,205.9 L1407.7,208.6 L1410.5,211.6 L1413.2,214.9 L1416.0,218.3 L1418.7,222.0 L1421.5,225.8 L1424.2,229.8 L1427.0,233.7 L1429.7,237.7 L1432.5,241.7 L1435.2,245.5 L1438.0,249.3 L1440.7,252.9 L1443.5,256.5 L1446.2,260.2 L1449.0,264.0 L1451.7,267.8 L1454.5,271.6 L1457.2,275.5 L1460.0,279.3 L1462.7,283.1 L1465.5,286.8 L1468.2,290.4 L1471.0,293.9 L1473.7,297.3 L1476.4,300.6 L1479.2,303.7 L1481.9,306.7 L1484.7,309.7 L1487.4,312.7 L1490.2,315.5 L1492.9,318.4 L1495.7,321.1 L1498.4,323.8 L1501.2,326.4 L1503.9,329.0 L1506.7,331.4 L1509.4,333.8 L1512.2,336.1 L1514.9,338.3 L1517.7,340.4 L1520.4,342.6 L1523.2,344.7 L1525.9,346.7 L1528.7,348.8 L1531.4,350.7 L1534.2,352.7 L1536.9,354.6 L1539.7,356.5 L1542.4,358.4 L1545.2,360.2 L1547.9,362.0 L1550.7,363.7 L1553.4,365.4 L1556.2,367.0 L1558.9,368.6 L1561.7,370.1 L1564.4,371.6 L1567.2,373.1 L1569.9,374.5 L1572.7,375.8 L1575.4,377.1 L1578.2,378.4 L1580.9,379.6 L1583.7,380.8 L1586.4,381.9 L1589.2,383.0 L1591.9,384.1 L1594.7,385.2 L1597.4,386.2 L1600.2,387.3 L1602.9,388.3 L1605.7,389.2 L1608.4,390.2 L1611.2,391.1 L1613.9,392.0 L1616.7,392.9 L1619.4,393.7 L1622.2,394.6 L1624.9,395.4 L1627.7,396.2 L1630.4,397.0 L1633.2,397.8 L1635.9,398.6 L1638.7,399.4 L1641.4,400.2 L1644.2,400.9 L1646.9,401.7 L1649.7,402.4 L1652.4,403.2 L1655.2,403.9 L1657.9,404.6 L1660.7,405.3 L1663.4,406.0 L1666.2,406.7 L1668.9,407.4 L1671.6,408.0 L1674.4,408.7 L1677.1,409.3 L1679.9,409.9 L1682.6,410.5 L1685.4,411.1 L1688.1,411.7 L1690.9,412.2 L1693.6,412.8 L1696.4,413.3 L1699.1,413.8 L1701.9,414.3 L1704.6,414.7 L1707.4,415.2 L1710.1,415.6 L1712.9,416.0 L1715.6,416.4 L1718.4,416.7 L1721.1,417.1 L1723.9,417.5 L1726.6,417.8 L1729.4,418.1 L1732.1,418.4 L1734.9,418.8 L1737.6,419.1 L1740.4,419.3 L1743.1,419.6 L1745.9,419.9 L1748.6,420.2 L1751.4,420.5 L1754.1,420.7 L1756.9,421.0 L1759.6,421.2 L1762.4,421.5 L1765.1,421.8 L1767.9,422.0 L1770.6,422.3 L1773.4,422.5 L1776.1,422.7 L1778.9,423.0 L1781.6,423.2 L1784.4,423.5 L1787.1,423.7 L1789.9,423.9 L1792.6,424.1 L1795.4,424.4 L1798.1,424.6 L1800.9,424.8 L1803.6,425.0 L1806.4,425.2 L1809.1,425.4 L1811.9,425.6 L1814.6,425.8 L1817.4,426.0 L1820.1,426.2 L1822.9,426.4 L1825.6,426.6 L1828.4,426.8 L1831.1,426.9 L1833.9,427.1 L1836.6,427.3 L1839.4,427.5 L1842.1,427.7 L1844.9,427.8 L1847.6,428.0 L1850.4,428.2 L1853.1,428.3 L1855.9,428.5 L1858.6,428.6 L1861.3,428.8 L1864.1,429.0 L1866.8,429.1 L1869.6,429.3 L1872.3,429.4 L1875.1,429.6 L1877.8,429.7 L1880.6,429.9 L1883.3,430.0 L1886.1,430.2 L1888.8,430.3 L1891.6,430.5 L1894.3,430.6 L1897.1,430.7 L1899.8,430.9 L1902.6,431.0 L1905.3,431.1 L1908.1,431.3 L1910.8,431.4 L1913.6,431.5 L1916.3,431.7 L1919.1,431.8 L1921.8,431.9 L1924.6,432.1 L1927.3,432.2 L1930.1,432.3 L1932.8,432.4 L1935.6,432.6 L1938.3,432.7 L1941.1,432.8 L1943.8,432.9 L1946.6,433.0 L1949.3,433.1 L1952.1,433.2 L1954.8,433.3 L1957.6,433.5 L1960.3,433.6 L1963.1,433.6 L1965.8,433.8 L1968.6,433.9 L1971.3,434.0 L1974.1,434.1 L1976.8,434.2 L1979.6,434.3 L1982.3,434.4 L1985.1,434.5 L1987.8,434.6 L1990.6,434.7 L1993.3,434.8 L1996.1,434.8 L1998.8,434.9 L2001.6,435.0 L2004.3,435.1 L2007.1,435.2 L2009.8,435.2 L2012.6,435.3 L2015.3,435.4 L2018.1,435.4 L2020.8,435.5 L2023.6,435.5 L2026.3,435.6 L2029.1,435.6 L2031.8,435.6 L2034.6,435.7 L2037.3,435.7 L2040.1,435.7 L2042.8,435.8 L2045.6,435.8 L2048.3,435.8 L2051.1,435.9 L2053.8,435.9 L2056.5,435.9 L2059.3,435.9 L2062.0,436.0 L2064.8,436.0 L2067.5,436.0 L2070.3,436.0 L2073.0,436.1 L2075.8,436.1 L2078.5,436.1 L2081.3,436.1 L2084.0,436.1 L2086.8,436.2 L2089.5,436.2 L2092.3,436.2 L2095.0,436.2 L2097.8,436.2 L2100.5,436.3 L2103.3,436.3 L2106.0,436.3 L2108.8,436.3 L2111.5,436.4 L2114.3,436.4 L2117.0,436.4 L2119.8,436.4 L2122.5,436.5 L2125.3,436.5 L2128.0,436.5 L2130.8,436.5 L2133.5,436.5 L2136.3,436.6 L2139.0,436.6 L2141.8,436.6 L2144.5,436.6 L2147.3,436.6 L2150.0,436.7 L2152.8,436.7 L2155.5,436.7 L2158.3,436.7 L2161.0,436.7 L2163.8,436.8 L2166.5,436.8 L2169.3,436.8 L2172.0,436.8 L2174.8,436.9 L2177.5,436.9 L2180.3,436.9 L2183.0,436.9 L2185.8,436.9 L2188.5,437.0 L2191.3,437.0 L2194.0,437.0 L2196.8,437.0 L2199.5,437.0 L2202.3,437.0 L2205.0,437.1 L2207.8,437.1 L2210.5,437.1 L2213.3,437.1 L2216.0,437.1 L2218.8,437.2 L2221.5,437.2 L2224.3,437.2 L2227.0,437.2 L2229.8,437.2 L2232.5,437.2 L2235.3,437.3 L2238.0,437.3 L2240.8,437.3 L2243.5,437.3" fill="none" stroke="#FF0000" stroke-width="9.0" stroke-linejoin="round" stroke-linecap="round" stroke-dasharray="25.5 38.1" stroke-dashoffset="39.8"/>
<path d="M319.0,447.2 L321.7,447.2 L324.5,447.2 L327.2,447.2 L330.0,447.2 L332.7,447.2 L335.5,447.2 L338.2,447.2 L341.0,447.2 L343.7,447.1 L346.5,447.1 L349.2,447.1 L352.0,447.1 L354.7,447.1 L357.5,447.1 L360.2,447.1 L363.0,447.1 L365.7,447.1 L368.5,447.1 L371.2,447.1 L374.0,447.1 L376.7,447.1 L379.5,447.1 L382.2,447.1 L385.0,447.1 L387.7,447.1 L390.5,447.1 L393.2,447.1 L396.0,447.0 L398.7,447.0 L401.5,447.0 L404.2,447.0 L407.0,447.0 L409.7,447.0 L412.5,447.0 L415.2,447.0 L418.0,447.0 L420.7,447.0 L423.5,447.0 L426.2,447.0 L429.0,446.9 L431.7,446.9 L434.5,446.9 L437.2,446.9 L440.0,446.9 L442.7,446.9 L445.5,446.9 L448.2,446.9 L451.0,446.9 L453.7,446.9 L456.5,446.9 L459.2,446.8 L462.0,446.8 L464.7,446.8 L467.5,446.8 L470.2,446.8 L473.0,446.8 L475.7,446.8 L478.5,446.8 L481.2,446.7 L484.0,446.7 L486.7,446.7 L489.5,446.7 L492.2,446.7 L495.0,446.7 L497.7,446.7 L500.5,446.7 L503.2,446.6 L506.0,446.6 L508.7,446.6 L511.4,446.6 L514.2,446.6 L516.9,446.6 L519.7,446.6 L522.4,446.5 L525.2,446.5 L527.9,446.5 L530.7,446.5 L533.4,446.5 L536.2,446.5 L538.9,446.5 L541.7,446.5 L544.4,446.4 L547.2,446.4 L549.9,446.4 L552.7,446.4 L555.4,446.4 L558.2,446.4 L560.9,446.4 L563.7,446.3 L566.4,446.3 L569.2,446.3 L571.9,446.3 L574.7,446.3 L577.4,446.3 L580.2,446.2 L582.9,446.2 L585.7,446.2 L588.4,446.2 L591.2,446.2 L593.9,446.2 L596.7,446.2 L599.4,446.2 L602.2,446.1 L604.9,446.1 L607.7,446.1 L610.4,446.1 L613.2,446.1 L615.9,446.0 L618.7,446.0 L621.4,446.0 L624.2,446.0 L626.9,446.0 L629.7,445.9 L632.4,445.9 L635.2,445.9 L637.9,445.9 L640.7,445.8 L643.4,445.8 L646.2,445.8 L648.9,445.8 L651.7,445.7 L654.4,445.7 L657.2,445.7 L659.9,445.6 L662.7,445.6 L665.4,445.6 L668.2,445.6 L670.9,445.5 L673.7,445.5 L676.4,445.5 L679.2,445.4 L681.9,445.4 L684.7,445.4 L687.4,445.4 L690.2,445.3 L692.9,445.3 L695.7,445.3 L698.4,445.2 L701.2,445.2 L703.9,445.2 L706.6,445.2 L709.4,445.1 L712.1,445.1 L714.9,445.1 L717.6,445.0 L720.4,445.0 L723.1,445.0 L725.9,444.9 L728.6,444.9 L731.4,444.9 L734.1,444.9 L736.9,444.8 L739.6,444.8 L742.4,444.8 L745.1,444.7 L747.9,444.7 L750.6,444.7 L753.4,444.7 L756.1,444.7 L758.9,444.6 L761.6,444.6 L764.4,444.6 L767.1,444.6 L769.9,444.5 L772.6,444.5 L775.4,444.5 L778.1,444.5 L780.9,444.4 L783.6,444.4 L786.4,444.4 L789.1,444.4 L791.9,444.4 L794.6,444.3 L797.4,444.3 L800.1,444.3 L802.9,444.3 L805.6,444.3 L808.4,444.3 L811.1,444.2 L813.9,444.2 L816.6,444.2 L819.4,444.2 L822.1,444.2 L824.9,444.2 L827.6,444.2 L830.4,444.1 L833.1,444.1 L835.9,444.1 L838.6,444.1 L841.4,444.1 L844.1,444.1 L846.9,444.1 L849.6,444.1 L852.4,444.0 L855.1,444.0 L857.9,444.0 L860.6,444.0 L863.4,444.0 L866.1,444.0 L868.9,444.0 L871.6,444.0 L874.4,444.0 L877.1,444.0 L879.9,443.9 L882.6,443.9 L885.4,443.9 L888.1,443.9 L890.9,443.9 L893.6,443.9 L896.4,443.9 L899.1,443.9 L901.8,443.8 L904.6,443.8 L907.3,443.8 L910.1,443.8 L912.8,443.8 L915.6,443.8 L918.3,443.8 L921.1,443.8 L923.8,443.8 L926.6,443.7 L929.3,443.7 L932.1,443.7 L934.8,443.7 L937.6,443.7 L940.3,443.7 L943.1,443.7 L945.8,443.6 L948.6,443.6 L951.3,443.6 L954.1,443.6 L956.8,443.6 L959.6,443.6 L962.3,443.5 L965.1,443.5 L967.8,443.5 L970.6,443.5 L973.3,443.5 L976.1,443.5 L978.8,443.4 L981.6,443.4 L984.3,443.4 L987.1,443.4 L989.8,443.4 L992.6,443.3 L995.3,443.3 L998.1,443.3 L1000.8,443.3 L1003.6,443.2 L1006.3,443.2 L1009.1,443.2 L1011.8,443.2 L1014.6,443.1 L1017.3,443.1 L1020.1,443.1 L1022.8,443.0 L1025.6,443.0 L1028.3,443.0 L1031.1,442.9 L1033.8,442.9 L1036.6,442.9 L1039.3,442.8 L1042.1,442.8 L1044.8,442.7 L1047.6,442.7 L1050.3,442.6 L1053.1,442.6 L1055.8,442.5 L1058.6,442.5 L1061.3,442.5 L1064.1,442.4 L1066.8,442.3 L1069.6,442.3 L1072.3,442.2 L1075.1,442.2 L1077.8,442.1 L1080.6,442.1 L1083.3,442.0 L1086.1,441.9 L1088.8,441.9 L1091.5,441.8 L1094.3,441.7 L1097.0,441.7 L1099.8,441.6 L1102.5,441.6 L1105.3,441.5 L1108.0,441.4 L1110.8,441.3 L1113.5,441.3 L1116.3,441.2 L1119.0,441.1 L1121.8,441.1 L1124.5,441.0 L1127.3,440.9 L1130.0,440.8 L1132.8,440.8 L1135.5,440.7 L1138.3,440.6 L1141.0,440.5 L1143.8,440.5 L1146.5,440.4 L1149.3,440.3 L1152.0,440.2 L1154.8,440.1 L1157.5,440.0 L1160.3,439.9 L1163.0,439.8 L1165.8,439.7 L1168.5,439.6 L1171.3,439.5 L1174.0,439.4 L1176.8,439.3 L1179.5,439.1 L1182.3,439.0 L1185.0,438.9 L1187.8,438.8 L1190.5,438.6 L1193.3,438.5 L1196.0,438.4 L1198.8,438.2 L1201.5,438.1 L1204.3,438.0 L1207.0,437.8 L1209.8,437.7 L1212.5,437.6 L1215.3,437.4 L1218.0,437.3 L1220.8,437.1 L1223.5,437.0 L1226.3,436.8 L1229.0,436.7 L1231.8,436.5 L1234.5,436.4 L1237.3,436.2 L1240.0,436.1 L1242.8,435.9 L1245.5,435.8 L1248.3,435.6 L1251.0,435.5 L1253.8,435.3 L1256.5,435.2 L1259.3,435.0 L1262.0,434.9 L1264.8,434.7 L1267.5,434.6 L1270.3,434.4 L1273.0,434.2 L1275.8,434.1 L1278.5,433.9 L1281.2,433.7 L1284.0,433.6 L1286.7,433.4 L1289.5,433.2 L1292.2,433.1 L1295.0,432.9 L1297.7,432.7 L1300.5,432.5 L1303.2,432.3 L1306.0,432.1 L1308.7,432.0 L1311.5,431.8 L1314.2,431.6 L1317.0,431.4 L1319.7,431.2 L1322.5,431.0 L1325.2,430.8 L1328.0,430.6 L1330.7,430.4 L1333.5,430.2 L1336.2,430.0 L1339.0,429.8 L1341.7,429.6 L1344.5,429.4 L1347.2,429.1 L1350.0,428.9 L1352.7,428.7 L1355.5,428.5 L1358.2,428.3 L1361.0,428.0 L1363.7,427.8 L1366.5,427.6 L1369.2,427.3 L1372.0,427.1 L1374.7,426.8 L1377.5,426.5 L1380.2,426.2 L1383.0,426.0 L1385.7,425.7 L1388.5,425.4 L1391.2,425.1 L1394.0,424.7 L1396.7,424.4 L1399.5,424.1 L1402.2,423.7 L1405.0,423.3 L1407.7,423.0 L1410.5,422.6 L1413.2,422.1 L1416.0,421.7 L1418.7,421.3 L1421.5,420.9 L1424.2,420.4 L1427.0,419.9 L1429.7,419.5 L1432.5,419.0 L1435.2,418.5 L1438.0,417.9 L1440.7,417.4 L1443.5,416.9 L1446.2,416.3 L1449.0,415.8 L1451.7,415.2 L1454.5,414.6 L1457.2,414.0 L1460.0,413.4 L1462.7,412.7 L1465.5,412.1 L1468.2,411.4 L1471.0,410.7 L1473.7,410.0 L1476.4,409.2 L1479.2,408.4 L1481.9,407.7 L1484.7,406.8 L1487.4,406.0 L1490.2,405.1 L1492.9,404.2 L1495.7,403.3 L1498.4,402.3 L1501.2,401.4 L1503.9,400.4 L1506.7,399.3 L1509.4,398.3 L1512.2,397.2 L1514.9,396.0 L1517.7,394.9 L1520.4,393.6 L1523.2,392.3 L1525.9,390.9 L1528.7,389.5 L1531.4,388.0 L1534.2,386.4 L1536.9,384.8 L1539.7,383.2 L1542.4,381.5 L1545.2,379.7 L1547.9,377.9 L1550.7,376.1 L1553.4,374.2 L1556.2,372.3 L1558.9,370.3 L1561.7,368.3 L1564.4,366.3 L1567.2,364.2 L1569.9,362.1 L1572.7,359.8 L1575.4,357.5 L1578.2,355.1 L1580.9,352.6 L1583.7,350.0 L1586.4,347.4 L1589.2,344.6 L1591.9,341.8 L1594.7,338.9 L1597.4,335.9 L1600.2,332.9 L1602.9,329.8 L1605.7,326.6 L1608.4,323.3 L1611.2,320.0 L1613.9,316.4 L1616.7,312.7 L1619.4,308.8 L1622.2,304.8 L1624.9,300.7 L1627.7,296.4 L1630.4,292.1 L1633.2,287.7 L1635.9,283.3 L1638.7,278.8 L1641.4,274.3 L1644.2,269.8 L1646.9,265.3 L1649.7,260.5 L1652.4,255.5 L1655.2,250.4 L1657.9,245.1 L1660.7,239.9 L1663.4,234.7 L1666.2,229.5 L1668.9,224.6 L1671.6,219.9 L1674.4,215.5 L1677.1,211.5 L1679.9,207.6 L1682.6,203.7 L1685.4,199.9 L1688.1,196.1 L1690.9,192.4 L1693.6,188.8 L1696.4,185.3 L1699.1,181.9 L1701.9,178.8 L1704.6,175.8 L1707.4,173.0 L1710.1,170.5 L1712.9,168.3 L1715.6,166.3 L1718.4,164.7 L1721.1,163.1 L1723.9,161.6 L1726.6,160.2 L1729.4,158.9 L1732.1,158.0 L1734.9,157.3 L1737.6,157.1 L1740.4,157.6 L1743.1,159.0 L1745.9,161.1 L1748.6,163.9 L1751.4,167.2 L1754.1,170.8 L1756.9,174.7 L1759.6,178.6 L1762.4,182.4 L1765.1,186.0 L1767.9,189.5 L1770.6,193.1 L1773.4,197.0 L1776.1,201.0 L1778.9,205.1 L1781.6,209.4 L1784.4,213.7 L1787.1,218.1 L1789.9,222.5 L1792.6,226.9 L1795.4,231.3 L1798.1,235.7 L1800.9,240.0 L1803.6,244.3 L1806.4,248.8 L1809.1,253.4 L1811.9,258.0 L1814.6,262.6 L1817.4,267.3 L1820.1,271.9 L1822.9,276.4 L1825.6,280.7 L1828.4,285.0 L1831.1,289.0 L1833.9,292.8 L1836.6,296.4 L1839.4,299.9 L1842.1,303.3 L1844.9,306.7 L1847.6,310.0 L1850.4,313.2 L1853.1,316.3 L1855.9,319.4 L1858.6,322.4 L1861.3,325.3 L1864.1,328.1 L1866.8,330.8 L1869.6,333.5 L1872.3,336.0 L1875.1,338.5 L1877.8,340.8 L1880.6,343.1 L1883.3,345.3 L1886.1,347.4 L1888.8,349.5 L1891.6,351.6 L1894.3,353.6 L1897.1,355.5 L1899.8,357.4 L1902.6,359.3 L1905.3,361.1 L1908.1,362.9 L1910.8,364.7 L1913.6,366.3 L1916.3,368.0 L1919.1,369.6 L1921.8,371.2 L1924.6,372.7 L1927.3,374.2 L1930.1,375.6 L1932.8,377.0 L1935.6,378.4 L1938.3,379.7 L1941.1,381.1 L1943.8,382.4 L1946.6,383.6 L1949.3,384.9 L1952.1,386.1 L1954.8,387.3 L1957.6,388.5 L1960.3,389.6 L1963.1,390.8 L1965.8,391.9 L1968.6,392.9 L1971.3,394.0 L1974.1,395.0 L1976.8,396.0 L1979.6,397.0 L1982.3,397.9 L1985.1,398.8 L1987.8,399.7 L1990.6,400.5 L1993.3,401.3 L1996.1,402.1 L1998.8,402.8 L2001.6,403.5 L2004.3,404.2 L2007.1,404.9 L2009.8,405.5 L2012.6,406.2 L2015.3,406.8 L2018.1,407.4 L2020.8,408.0 L2023.6,408.5 L2026.3,409.1 L2029.1,409.7 L2031.8,410.2 L2034.6,410.7 L2037.3,411.2 L2040.1,411.7 L2042.8,412.2 L2045.6,412.7 L2048.3,413.2 L2051.1,413.6 L2053.8,414.1 L2056.5,414.5 L2059.3,414.9 L2062.0,415.3 L2064.8,415.8 L2067.5,416.2 L2070.3,416.6 L2073.0,416.9 L2075.8,417.3 L2078.5,417.7 L2081.3,418.1 L2084.0,418.4 L2086.8,418.8 L2089.5,419.1 L2092.3,419.5 L2095.0,419.8 L2097.8,420.1 L2100.5,420.4 L2103.3,420.7 L2106.0,421.1 L2108.8,421.4 L2111.5,421.7 L2114.3,421.9 L2117.0,422.2 L2119.8,422.5 L2122.5,422.8 L2125.3,423.1 L2128.0,423.3 L2130.8,423.6 L2133.5,423.8 L2136.3,424.1 L2139.0,424.3 L2141.8,424.6 L2144.5,424.8 L2147.3,425.0 L2150.0,425.3 L2152.8,425.5 L2155.5,425.7 L2158.3,425.9 L2161.0,426.2 L2163.8,426.4 L2166.5,426.6 L2169.3,426.8 L2172.0,427.0 L2174.8,427.2 L2177.5,427.4 L2180.3,427.6 L2183.0,427.8 L2185.8,428.0 L2188.5,428.2 L2191.3,428.4 L2194.0,428.6 L2196.8,428.8 L2199.5,429.0 L2202.3,429.2 L2205.0,429.4 L2207.8,429.6 L2210.5,429.8 L2213.3,430.0 L2216.0,430.1 L2218.8,430.3 L2221.5,430.5 L2224.3,430.7 L2227.0,430.9 L2229.8,431.0 L2232.5,431.2 L2235.3,431.4 L2238.0,431.5 L2240.8,431.7 L2243.5,431.9" fill="none" stroke="#0000FF" stroke-width="9.0" stroke-linejoin="round" stroke-linecap="round" stroke-dasharray="25.5 38.1" stroke-dashoffset="25.1"/>
<path d="M319.0,444.2 L321.7,444.2 L324.5,444.1 L327.2,444.1 L330.0,444.0 L332.7,444.0 L335.5,443.9 L338.2,443.8 L341.0,443.7 L343.7,443.6 L346.5,443.5 L349.2,443.4 L352.0,443.3 L354.7,443.2 L357.5,443.0 L360.2,442.9 L363.0,442.8 L365.7,442.6 L368.5,442.5 L371.2,442.4 L374.0,442.2 L376.7,442.1 L379.5,441.9 L382.2,441.7 L385.0,441.6 L387.7,441.4 L390.5,441.2 L393.2,440.9 L396.0,440.7 L398.7,440.5 L401.5,440.2 L404.2,440.0 L407.0,439.7 L409.7,439.4 L412.5,439.1 L415.2,438.9 L418.0,438.6 L420.7,438.2 L423.5,437.9 L426.2,437.6 L429.0,437.3 L431.7,437.0 L434.5,436.6 L437.2,436.2 L440.0,435.8 L442.7,435.3 L445.5,434.9 L448.2,434.4 L451.0,433.9 L453.7,433.4 L456.5,432.9 L459.2,432.3 L462.0,431.8 L464.7,431.3 L467.5,430.7 L470.2,430.2 L473.0,429.7 L475.7,429.2 L478.5,428.6 L481.2,428.2 L484.0,427.7 L486.7,427.2 L489.5,426.7 L492.2,426.3 L495.0,425.9 L497.7,425.4 L500.5,425.0 L503.2,424.6 L506.0,424.1 L508.7,423.7 L511.4,423.3 L514.2,422.8 L516.9,422.4 L519.7,421.9 L522.4,421.4 L525.2,420.9 L527.9,420.4 L530.7,419.8 L533.4,419.3 L536.2,418.7 L538.9,418.2 L541.7,417.6 L544.4,417.0 L547.2,416.4 L549.9,415.8 L552.7,415.1 L555.4,414.4 L558.2,413.7 L560.9,413.0 L563.7,412.2 L566.4,411.3 L569.2,410.4 L571.9,409.4 L574.7,408.4 L577.4,407.2 L580.2,406.0 L582.9,404.7 L585.7,403.4 L588.4,402.0 L591.2,400.6 L593.9,399.1 L596.7,397.7 L599.4,396.2 L602.2,394.7 L604.9,393.2 L607.7,391.7 L610.4,390.2 L613.2,388.7 L615.9,387.2 L618.7,385.6 L621.4,384.0 L624.2,382.4 L626.9,380.7 L629.7,379.0 L632.4,377.3 L635.2,375.5 L637.9,373.7 L640.7,371.8 L643.4,369.9 L646.2,367.9 L648.9,365.9 L651.7,363.8 L654.4,361.6 L657.2,359.3 L659.9,357.0 L662.7,354.7 L665.4,352.4 L668.2,350.1 L670.9,347.7 L673.7,345.4 L676.4,343.1 L679.2,340.6 L681.9,338.0 L684.7,335.4 L687.4,332.8 L690.2,330.1 L692.9,327.5 L695.7,324.9 L698.4,322.4 L701.2,320.0 L703.9,317.7 L706.6,315.6 L709.4,313.7 L712.1,312.0 L714.9,310.4 L717.6,308.8 L720.4,307.3 L723.1,305.8 L725.9,304.4 L728.6,303.1 L731.4,301.8 L734.1,300.6 L736.9,299.4 L739.6,298.3 L742.4,297.2 L745.1,296.2 L747.9,295.3 L750.6,294.5 L753.4,293.7 L756.1,293.0 L758.9,292.3 L761.6,291.7 L764.4,291.0 L767.1,290.4 L769.9,289.9 L772.6,289.3 L775.4,288.8 L778.1,288.3 L780.9,287.9 L783.6,287.5 L786.4,287.1 L789.1,286.8 L791.9,286.5 L794.6,286.3 L797.4,286.1 L800.1,285.8 L802.9,285.6 L805.6,285.4 L808.4,285.2 L811.1,285.0 L813.9,284.8 L816.6,284.6 L819.4,284.5 L822.1,284.3 L824.9,284.2 L827.6,284.2 L830.4,284.1 L833.1,284.1 L835.9,284.1 L838.6,284.6 L841.4,285.4 L844.1,286.6 L846.9,288.1 L849.6,289.9 L852.4,291.8 L855.1,294.0 L857.9,296.2 L860.6,298.5 L863.4,300.8 L866.1,303.0 L868.9,305.2 L871.6,307.3 L874.4,309.4 L877.1,311.6 L879.9,314.0 L882.6,316.4 L885.4,318.9 L888.1,321.4 L890.9,323.9 L893.6,326.4 L896.4,328.8 L899.1,331.1 L901.8,333.3 L904.6,335.3 L907.3,337.4 L910.1,339.4 L912.8,341.3 L915.6,343.2 L918.3,345.1 L921.1,347.0 L923.8,348.8 L926.6,350.5 L929.3,352.3 L932.1,354.0 L934.8,355.7 L937.6,357.3 L940.3,358.9 L943.1,360.6 L945.8,362.2 L948.6,363.8 L951.3,365.3 L954.1,366.9 L956.8,368.4 L959.6,369.9 L962.3,371.3 L965.1,372.7 L967.8,374.1 L970.6,375.4 L973.3,376.7 L976.1,377.9 L978.8,379.1 L981.6,380.3 L984.3,381.4 L987.1,382.5 L989.8,383.6 L992.6,384.7 L995.3,385.7 L998.1,386.7 L1000.8,387.7 L1003.6,388.7 L1006.3,389.6 L1009.1,390.5 L1011.8,391.4 L1014.6,392.3 L1017.3,393.1 L1020.1,393.9 L1022.8,394.7 L1025.6,395.4 L1028.3,396.2 L1031.1,396.9 L1033.8,397.6 L1036.6,398.3 L1039.3,399.0 L1042.1,399.7 L1044.8,400.3 L1047.6,401.0 L1050.3,401.6 L1053.1,402.2 L1055.8,402.8 L1058.6,403.4 L1061.3,404.0 L1064.1,404.6 L1066.8,405.1 L1069.6,405.7 L1072.3,406.2 L1075.1,406.7 L1077.8,407.2 L1080.6,407.7 L1083.3,408.2 L1086.1,408.7 L1088.8,409.2 L1091.5,409.7 L1094.3,410.1 L1097.0,410.6 L1099.8,411.0 L1102.5,411.5 L1105.3,411.9 L1108.0,412.3 L1110.8,412.8 L1113.5,413.2 L1116.3,413.6 L1119.0,414.0 L1121.8,414.4 L1124.5,414.8 L1127.3,415.1 L1130.0,415.5 L1132.8,415.9 L1135.5,416.2 L1138.3,416.6 L1141.0,416.9 L1143.8,417.2 L1146.5,417.6 L1149.3,417.9 L1152.0,418.2 L1154.8,418.5 L1157.5,418.8 L1160.3,419.1 L1163.0,419.3 L1165.8,419.6 L1168.5,419.9 L1171.3,420.1 L1174.0,420.4 L1176.8,420.7 L1179.5,420.9 L1182.3,421.2 L1185.0,421.4 L1187.8,421.7 L1190.5,421.9 L1193.3,422.2 L1196.0,422.4 L1198.8,422.6 L1201.5,422.9 L1204.3,423.1 L1207.0,423.3 L1209.8,423.5 L1212.5,423.8 L1215.3,424.0 L1218.0,424.2 L1220.8,424.4 L1223.5,424.6 L1226.3,424.8 L1229.0,425.0 L1231.8,425.2 L1234.5,425.4 L1237.3,425.6 L1240.0,425.8 L1242.8,426.0 L1245.5,426.2 L1248.3,426.4 L1251.0,426.6 L1253.8,426.8 L1256.5,427.0 L1259.3,427.2 L1262.0,427.3 L1264.8,427.5 L1267.5,427.6 L1270.3,427.8 L1273.0,427.9 L1275.8,428.1 L1278.5,428.2 L1281.2,428.3 L1284.0,428.4 L1286.7,428.6 L1289.5,428.7 L1292.2,428.8 L1295.0,428.9 L1297.7,429.0 L1300.5,429.1 L1303.2,429.2 L1306.0,429.3 L1308.7,429.5 L1311.5,429.6 L1314.2,429.7 L1317.0,429.8 L1319.7,429.9 L1322.5,430.0 L1325.2,430.2 L1328.0,430.3 L1330.7,430.4 L1333.5,430.5 L1336.2,430.6 L1339.0,430.7 L1341.7,430.8 L1344.5,430.9 L1347.2,431.1 L1350.0,431.2 L1352.7,431.3 L1355.5,431.4 L1358.2,431.5 L1361.0,431.7 L1363.7,431.8 L1366.5,431.9 L1369.2,432.1 L1372.0,432.2 L1374.7,432.3 L1377.5,432.5 L1380.2,432.6 L1383.0,432.7 L1385.7,432.8 L1388.5,432.9 L1391.2,433.1 L1394.0,433.2 L1396.7,433.2 L1399.5,433.3 L1402.2,433.4 L1405.0,433.5 L1407.7,433.6 L1410.5,433.6 L1413.2,433.7 L1416.0,433.7 L1418.7,433.8 L1421.5,433.9 L1424.2,433.9 L1427.0,434.0 L1429.7,434.0 L1432.5,434.1 L1435.2,434.2 L1438.0,434.2 L1440.7,434.3 L1443.5,434.3 L1446.2,434.4 L1449.0,434.4 L1451.7,434.5 L1454.5,434.5 L1457.2,434.6 L1460.0,434.6 L1462.7,434.7 L1465.5,434.7 L1468.2,434.8 L1471.0,434.8 L1473.7,434.9 L1476.4,434.9 L1479.2,435.0 L1481.9,435.0 L1484.7,435.1 L1487.4,435.1 L1490.2,435.2 L1492.9,435.2 L1495.7,435.3 L1498.4,435.3 L1501.2,435.3 L1503.9,435.4 L1506.7,435.4 L1509.4,435.5 L1512.2,435.5 L1514.9,435.6 L1517.7,435.6 L1520.4,435.7 L1523.2,435.7 L1525.9,435.7 L1528.7,435.8 L1531.4,435.8 L1534.2,435.9 L1536.9,435.9 L1539.7,436.0 L1542.4,436.0 L1545.2,436.1 L1547.9,436.2 L1550.7,436.2 L1553.4,436.3 L1556.2,436.3 L1558.9,436.4 L1561.7,436.4 L1564.4,436.5 L1567.2,436.5 L1569.9,436.6 L1572.7,436.6 L1575.4,436.6 L1578.2,436.7 L1580.9,436.7 L1583.7,436.8 L1586.4,436.8 L1589.2,436.9 L1591.9,436.9 L1594.7,437.0 L1597.4,437.0 L1600.2,437.1 L1602.9,437.1 L1605.7,437.1 L1608.4,437.2 L1611.2,437.2 L1613.9,437.3 L1616.7,437.3 L1619.4,437.3 L1622.2,437.3 L1624.9,437.4 L1627.7,437.4 L1630.4,437.4 L1633.2,437.4 L1635.9,437.5 L1638.7,437.5 L1641.4,437.5 L1644.2,437.5 L1646.9,437.6 L1649.7,437.6 L1652.4,437.6 L1655.2,437.6 L1657.9,437.7 L1660.7,437.7 L1663.4,437.7 L1666.2,437.7 L1668.9,437.8 L1671.6,437.8 L1674.4,437.8 L1677.1,437.9 L1679.9,437.9 L1682.6,437.9 L1685.4,437.9 L1688.1,438.0 L1690.9,438.0 L1693.6,438.0 L1696.4,438.0 L1699.1,438.1 L1701.9,438.1 L1704.6,438.1 L1707.4,438.2 L1710.1,438.2 L1712.9,438.2 L1715.6,438.2 L1718.4,438.3 L1721.1,438.3 L1723.9,438.3 L1726.6,438.4 L1729.4,438.4 L1732.1,438.4 L1734.9,438.4 L1737.6,438.5 L1740.4,438.5 L1743.1,438.5 L1745.9,438.5 L1748.6,438.6 L1751.4,438.6 L1754.1,438.6 L1756.9,438.7 L1759.6,438.7 L1762.4,438.7 L1765.1,438.7 L1767.9,438.8 L1770.6,438.8 L1773.4,438.8 L1776.1,438.8 L1778.9,438.9 L1781.6,438.9 L1784.4,438.9 L1787.1,438.9 L1789.9,439.0 L1792.6,439.0 L1795.4,439.0 L1798.1,439.0 L1800.9,439.0 L1803.6,439.1 L1806.4,439.1 L1809.1,439.1 L1811.9,439.1 L1814.6,439.2 L1817.4,439.2 L1820.1,439.2 L1822.9,439.2 L1825.6,439.2 L1828.4,439.3 L1831.1,439.3 L1833.9,439.3 L1836.6,439.3 L1839.4,439.3 L1842.1,439.3 L1844.9,439.4 L1847.6,439.4 L1850.4,439.4 L1853.1,439.4 L1855.9,439.4 L1858.6,439.4 L1861.3,439.5 L1864.1,439.5 L1866.8,439.5 L1869.6,439.5 L1872.3,439.5 L1875.1,439.5 L1877.8,439.6 L1880.6,439.6 L1883.3,439.6 L1886.1,439.6 L1888.8,439.6 L1891.6,439.6 L1894.3,439.6 L1897.1,439.7 L1899.8,439.7 L1902.6,439.7 L1905.3,439.7 L1908.1,439.7 L1910.8,439.7 L1913.6,439.7 L1916.3,439.8 L1919.1,439.8 L1921.8,439.8 L1924.6,439.8 L1927.3,439.8 L1930.1,439.8 L1932.8,439.8 L1935.6,439.9 L1938.3,439.9 L1941.1,439.9 L1943.8,439.9 L1946.6,439.9 L1949.3,439.9 L1952.1,439.9 L1954.8,439.9 L1957.6,440.0 L1960.3,440.0 L1963.1,440.0 L1965.8,440.0 L1968.6,440.0 L1971.3,440.0 L1974.1,440.0 L1976.8,440.0 L1979.6,440.1 L1982.3,440.1 L1985.1,440.1 L1987.8,440.1 L1990.6,440.1 L1993.3,440.1 L1996.1,440.1 L1998.8,440.1 L2001.6,440.2 L2004.3,440.2 L2007.1,440.2 L2009.8,440.2 L2012.6,440.2 L2015.3,440.2 L2018.1,440.2 L2020.8,440.3 L2023.6,440.3 L2026.3,440.3 L2029.1,440.3 L2031.8,440.3 L2034.6,440.3 L2037.3,440.3 L2040.1,440.3 L2042.8,440.3 L2045.6,440.4 L2048.3,440.4 L2051.1,440.4 L2053.8,440.4 L2056.5,440.4 L2059.3,440.4 L2062.0,440.4 L2064.8,440.5 L2067.5,440.5 L2070.3,440.5 L2073.0,440.5 L2075.8,440.5 L2078.5,440.5 L2081.3,440.5 L2084.0,440.5 L2086.8,440.6 L2089.5,440.6 L2092.3,440.6 L2095.0,440.6 L2097.8,440.6 L2100.5,440.6 L2103.3,440.6 L2106.0,440.6 L2108.8,440.7 L2111.5,440.7 L2114.3,440.7 L2117.0,440.7 L2119.8,440.7 L2122.5,440.7 L2125.3,440.7 L2128.0,440.7 L2130.8,440.8 L2133.5,440.8 L2136.3,440.8 L2139.0,440.8 L2141.8,440.8 L2144.5,440.8 L2147.3,440.8 L2150.0,440.8 L2152.8,440.9 L2155.5,440.9 L2158.3,440.9 L2161.0,440.9 L2163.8,440.9 L2166.5,440.9 L2169.3,440.9 L2172.0,440.9 L2174.8,441.0 L2177.5,441.0 L2180.3,441.0 L2183.0,441.0 L2185.8,441.0 L2188.5,441.0 L2191.3,441.0 L2194.0,441.0 L2196.8,441.0 L2199.5,441.1 L2202.3,441.1 L2205.0,441.1 L2207.8,441.1 L2210.5,441.1 L2213.3,441.1 L2216.0,441.1 L2218.8,441.1 L2221.5,441.2 L2224.3,441.2 L2227.0,441.2 L2229.8,441.2 L2232.5,441.2 L2235.3,441.2 L2238.0,441.2 L2240.8,441.2 L2243.5,441.2" fill="none" stroke="#000000" stroke-width="10" stroke-linejoin="round" stroke-linecap="round" stroke-dasharray="1.2 41.4" stroke-dashoffset="0.8"/>
<path d="M319.0,445.2 L321.7,445.1 L324.5,445.1 L327.2,445.0 L330.0,445.0 L332.7,444.9 L335.5,444.9 L338.2,444.8 L341.0,444.7 L343.7,444.7 L346.5,444.6 L349.2,444.6 L352.0,444.5 L354.7,444.4 L357.5,444.4 L360.2,444.3 L363.0,444.2 L365.7,444.1 L368.5,444.1 L371.2,444.0 L374.0,443.9 L376.7,443.9 L379.5,443.8 L382.2,443.7 L385.0,443.6 L387.7,443.5 L390.5,443.5 L393.2,443.4 L396.0,443.3 L398.7,443.2 L401.5,443.1 L404.2,443.0 L407.0,443.0 L409.7,442.9 L412.5,442.8 L415.2,442.7 L418.0,442.6 L420.7,442.5 L423.5,442.4 L426.2,442.3 L429.0,442.2 L431.7,442.1 L434.5,442.0 L437.2,442.0 L440.0,441.9 L442.7,441.8 L445.5,441.7 L448.2,441.6 L451.0,441.5 L453.7,441.4 L456.5,441.3 L459.2,441.2 L462.0,441.1 L464.7,441.0 L467.5,440.9 L470.2,440.8 L473.0,440.7 L475.7,440.6 L478.5,440.4 L481.2,440.3 L484.0,440.2 L486.7,440.1 L489.5,440.0 L492.2,439.9 L495.0,439.7 L497.7,439.6 L500.5,439.5 L503.2,439.3 L506.0,439.2 L508.7,439.1 L511.4,438.9 L514.2,438.8 L516.9,438.6 L519.7,438.5 L522.4,438.3 L525.2,438.2 L527.9,438.0 L530.7,437.8 L533.4,437.7 L536.2,437.5 L538.9,437.3 L541.7,437.1 L544.4,436.9 L547.2,436.7 L549.9,436.5 L552.7,436.2 L555.4,436.0 L558.2,435.7 L560.9,435.4 L563.7,435.1 L566.4,434.9 L569.2,434.5 L571.9,434.2 L574.7,433.9 L577.4,433.6 L580.2,433.2 L582.9,432.9 L585.7,432.5 L588.4,432.2 L591.2,431.8 L593.9,431.4 L596.7,431.1 L599.4,430.7 L602.2,430.3 L604.9,429.9 L607.7,429.5 L610.4,429.1 L613.2,428.7 L615.9,428.3 L618.7,427.8 L621.4,427.4 L624.2,427.0 L626.9,426.6 L629.7,426.2 L632.4,425.7 L635.2,425.3 L637.9,424.8 L640.7,424.3 L643.4,423.9 L646.2,423.4 L648.9,422.9 L651.7,422.4 L654.4,421.9 L657.2,421.4 L659.9,420.8 L662.7,420.3 L665.4,419.7 L668.2,419.1 L670.9,418.5 L673.7,417.9 L676.4,417.3 L679.2,416.7 L681.9,416.0 L684.7,415.4 L687.4,414.7 L690.2,414.0 L692.9,413.2 L695.7,412.5 L698.4,411.7 L701.2,411.0 L703.9,410.1 L706.6,409.3 L709.4,408.3 L712.1,407.3 L714.9,406.2 L717.6,405.1 L720.4,404.0 L723.1,402.7 L725.9,401.5 L728.6,400.2 L731.4,398.9 L734.1,397.5 L736.9,396.2 L739.6,394.8 L742.4,393.4 L745.1,391.9 L747.9,390.4 L750.6,388.9 L753.4,387.3 L756.1,385.6 L758.9,383.9 L761.6,382.2 L764.4,380.4 L767.1,378.6 L769.9,376.8 L772.6,374.9 L775.4,373.0 L778.1,371.1 L780.9,369.1 L783.6,367.1 L786.4,365.0 L789.1,362.9 L791.9,360.7 L794.6,358.4 L797.4,356.2 L800.1,353.8 L802.9,351.4 L805.6,349.0 L808.4,346.5 L811.1,343.9 L813.9,341.1 L816.6,338.3 L819.4,335.4 L822.1,332.4 L824.9,329.4 L827.6,326.4 L830.4,323.4 L833.1,320.3 L835.9,317.3 L838.6,314.3 L841.4,311.2 L844.1,307.9 L846.9,304.6 L849.6,301.2 L852.4,297.9 L855.1,294.6 L857.9,291.5 L860.6,288.6 L863.4,286.0 L866.1,283.6 L868.9,281.6 L871.6,279.8 L874.4,278.0 L877.1,276.3 L879.9,274.6 L882.6,273.0 L885.4,271.5 L888.1,270.0 L890.9,268.7 L893.6,267.4 L896.4,266.2 L899.1,265.0 L901.8,264.0 L904.6,263.0 L907.3,262.2 L910.1,261.4 L912.8,260.7 L915.6,260.0 L918.3,259.3 L921.1,258.7 L923.8,258.0 L926.6,257.4 L929.3,256.8 L932.1,256.2 L934.8,255.7 L937.6,255.3 L940.3,254.9 L943.1,254.6 L945.8,254.3 L948.6,254.1 L951.3,254.0 L954.1,254.0 L956.8,254.2 L959.6,254.7 L962.3,255.5 L965.1,256.5 L967.8,257.6 L970.6,258.9 L973.3,260.4 L976.1,261.9 L978.8,263.5 L981.6,265.2 L984.3,266.8 L987.1,268.5 L989.8,270.3 L992.6,272.4 L995.3,274.8 L998.1,277.5 L1000.8,280.3 L1003.6,283.2 L1006.3,286.1 L1009.1,289.1 L1011.8,292.0 L1014.6,294.8 L1017.3,297.5 L1020.1,300.1 L1022.8,302.7 L1025.6,305.3 L1028.3,307.9 L1031.1,310.4 L1033.8,313.0 L1036.6,315.5 L1039.3,318.1 L1042.1,320.5 L1044.8,323.0 L1047.6,325.4 L1050.3,327.7 L1053.1,330.1 L1055.8,332.4 L1058.6,334.7 L1061.3,337.0 L1064.1,339.3 L1066.8,341.5 L1069.6,343.7 L1072.3,345.9 L1075.1,348.0 L1077.8,350.0 L1080.6,351.9 L1083.3,353.7 L1086.1,355.5 L1088.8,357.3 L1091.5,359.0 L1094.3,360.7 L1097.0,362.3 L1099.8,363.9 L1102.5,365.5 L1105.3,367.0 L1108.0,368.5 L1110.8,370.0 L1113.5,371.4 L1116.3,372.7 L1119.0,374.0 L1121.8,375.2 L1124.5,376.4 L1127.3,377.6 L1130.0,378.7 L1132.8,379.9 L1135.5,381.0 L1138.3,382.1 L1141.0,383.1 L1143.8,384.2 L1146.5,385.2 L1149.3,386.2 L1152.0,387.2 L1154.8,388.2 L1157.5,389.2 L1160.3,390.1 L1163.0,391.1 L1165.8,392.0 L1168.5,392.9 L1171.3,393.8 L1174.0,394.6 L1176.8,395.5 L1179.5,396.3 L1182.3,397.1 L1185.0,397.9 L1187.8,398.7 L1190.5,399.4 L1193.3,400.2 L1196.0,400.9 L1198.8,401.6 L1201.5,402.3 L1204.3,403.0 L1207.0,403.6 L1209.8,404.2 L1212.5,404.9 L1215.3,405.5 L1218.0,406.1 L1220.8,406.6 L1223.5,407.2 L1226.3,407.7 L1229.0,408.2 L1231.8,408.7 L1234.5,409.2 L1237.3,409.7 L1240.0,410.2 L1242.8,410.7 L1245.5,411.1 L1248.3,411.5 L1251.0,412.0 L1253.8,412.4 L1256.5,412.8 L1259.3,413.2 L1262.0,413.5 L1264.8,413.9 L1267.5,414.3 L1270.3,414.6 L1273.0,415.0 L1275.8,415.3 L1278.5,415.7 L1281.2,416.0 L1284.0,416.3 L1286.7,416.7 L1289.5,417.0 L1292.2,417.3 L1295.0,417.7 L1297.7,418.0 L1300.5,418.3 L1303.2,418.6 L1306.0,419.0 L1308.7,419.3 L1311.5,419.6 L1314.2,419.9 L1317.0,420.2 L1319.7,420.5 L1322.5,420.8 L1325.2,421.1 L1328.0,421.3 L1330.7,421.6 L1333.5,421.9 L1336.2,422.1 L1339.0,422.4 L1341.7,422.6 L1344.5,422.9 L1347.2,423.1 L1350.0,423.3 L1352.7,423.6 L1355.5,423.8 L1358.2,424.0 L1361.0,424.2 L1363.7,424.4 L1366.5,424.6 L1369.2,424.8 L1372.0,425.1 L1374.7,425.3 L1377.5,425.5 L1380.2,425.7 L1383.0,425.9 L1385.7,426.1 L1388.5,426.3 L1391.2,426.5 L1394.0,426.7 L1396.7,426.9 L1399.5,427.1 L1402.2,427.2 L1405.0,427.4 L1407.7,427.6 L1410.5,427.7 L1413.2,427.9 L1416.0,428.1 L1418.7,428.2 L1421.5,428.3 L1424.2,428.4 L1427.0,428.5 L1429.7,428.7 L1432.5,428.8 L1435.2,428.9 L1438.0,429.0 L1440.7,429.1 L1443.5,429.2 L1446.2,429.3 L1449.0,429.4 L1451.7,429.5 L1454.5,429.6 L1457.2,429.7 L1460.0,429.8 L1462.7,429.9 L1465.5,430.1 L1468.2,430.2 L1471.0,430.4 L1473.7,430.5 L1476.4,430.7 L1479.2,430.9 L1481.9,431.0 L1484.7,431.2 L1487.4,431.4 L1490.2,431.5 L1492.9,431.7 L1495.7,431.8 L1498.4,432.0 L1501.2,432.1 L1503.9,432.2 L1506.7,432.4 L1509.4,432.5 L1512.2,432.6 L1514.9,432.8 L1517.7,432.9 L1520.4,433.0 L1523.2,433.1 L1525.9,433.3 L1528.7,433.4 L1531.4,433.5 L1534.2,433.6 L1536.9,433.7 L1539.7,433.8 L1542.4,433.9 L1545.2,434.0 L1547.9,434.1 L1550.7,434.2 L1553.4,434.2 L1556.2,434.3 L1558.9,434.4 L1561.7,434.5 L1564.4,434.5 L1567.2,434.6 L1569.9,434.7 L1572.7,434.7 L1575.4,434.8 L1578.2,434.9 L1580.9,434.9 L1583.7,435.0 L1586.4,435.0 L1589.2,435.1 L1591.9,435.1 L1594.7,435.2 L1597.4,435.2 L1600.2,435.3 L1602.9,435.3 L1605.7,435.4 L1608.4,435.4 L1611.2,435.5 L1613.9,435.5 L1616.7,435.5 L1619.4,435.6 L1622.2,435.6 L1624.9,435.7 L1627.7,435.7 L1630.4,435.7 L1633.2,435.8 L1635.9,435.8 L1638.7,435.8 L1641.4,435.9 L1644.2,435.9 L1646.9,435.9 L1649.7,436.0 L1652.4,436.0 L1655.2,436.0 L1657.9,436.1 L1660.7,436.1 L1663.4,436.1 L1666.2,436.2 L1668.9,436.2 L1671.6,436.2 L1674.4,436.2 L1677.1,436.3 L1679.9,436.3 L1682.6,436.3 L1685.4,436.3 L1688.1,436.4 L1690.9,436.4 L1693.6,436.4 L1696.4,436.4 L1699.1,436.5 L1701.9,436.5 L1704.6,436.5 L1707.4,436.5 L1710.1,436.5 L1712.9,436.6 L1715.6,436.6 L1718.4,436.6 L1721.1,436.6 L1723.9,436.6 L1726.6,436.7 L1729.4,436.7 L1732.1,436.7 L1734.9,436.7 L1737.6,436.7 L1740.4,436.8 L1743.1,436.8 L1745.9,436.8 L1748.6,436.8 L1751.4,436.8 L1754.1,436.8 L1756.9,436.9 L1759.6,436.9 L1762.4,436.9 L1765.1,436.9 L1767.9,436.9 L1770.6,436.9 L1773.4,437.0 L1776.1,437.0 L1778.9,437.0 L1781.6,437.0 L1784.4,437.0 L1787.1,437.0 L1789.9,437.1 L1792.6,437.1 L1795.4,437.1 L1798.1,437.1 L1800.9,437.1 L1803.6,437.1 L1806.4,437.2 L1809.1,437.2 L1811.9,437.2 L1814.6,437.2 L1817.4,437.2 L1820.1,437.2 L1822.9,437.3 L1825.6,437.3 L1828.4,437.3 L1831.1,437.3 L1833.9,437.3 L1836.6,437.3 L1839.4,437.3 L1842.1,437.4 L1844.9,437.4 L1847.6,437.4 L1850.4,437.4 L1853.1,437.4 L1855.9,437.4 L1858.6,437.5 L1861.3,437.5 L1864.1,437.5 L1866.8,437.5 L1869.6,437.5 L1872.3,437.5 L1875.1,437.5 L1877.8,437.6 L1880.6,437.6 L1883.3,437.6 L1886.1,437.6 L1888.8,437.6 L1891.6,437.6 L1894.3,437.6 L1897.1,437.7 L1899.8,437.7 L1902.6,437.7 L1905.3,437.7 L1908.1,437.7 L1910.8,437.7 L1913.6,437.8 L1916.3,437.8 L1919.1,437.8 L1921.8,437.8 L1924.6,437.8 L1927.3,437.8 L1930.1,437.8 L1932.8,437.8 L1935.6,437.9 L1938.3,437.9 L1941.1,437.9 L1943.8,437.9 L1946.6,437.9 L1949.3,437.9 L1952.1,437.9 L1954.8,438.0 L1957.6,438.0 L1960.3,438.0 L1963.1,438.0 L1965.8,438.0 L1968.6,438.0 L1971.3,438.0 L1974.1,438.0 L1976.8,438.1 L1979.6,438.1 L1982.3,438.1 L1985.1,438.1 L1987.8,438.1 L1990.6,438.1 L1993.3,438.1 L1996.1,438.2 L1998.8,438.2 L2001.6,438.2 L2004.3,438.2 L2007.1,438.2 L2009.8,438.2 L2012.6,438.2 L2015.3,438.2 L2018.1,438.3 L2020.8,438.3 L2023.6,438.3 L2026.3,438.3 L2029.1,438.3 L2031.8,438.3 L2034.6,438.3 L2037.3,438.4 L2040.1,438.4 L2042.8,438.4 L2045.6,438.4 L2048.3,438.4 L2051.1,438.4 L2053.8,438.4 L2056.5,438.4 L2059.3,438.5 L2062.0,438.5 L2064.8,438.5 L2067.5,438.5 L2070.3,438.5 L2073.0,438.5 L2075.8,438.5 L2078.5,438.5 L2081.3,438.6 L2084.0,438.6 L2086.8,438.6 L2089.5,438.6 L2092.3,438.6 L2095.0,438.6 L2097.8,438.6 L2100.5,438.7 L2103.3,438.7 L2106.0,438.7 L2108.8,438.7 L2111.5,438.7 L2114.3,438.7 L2117.0,438.7 L2119.8,438.7 L2122.5,438.8 L2125.3,438.8 L2128.0,438.8 L2130.8,438.8 L2133.5,438.8 L2136.3,438.8 L2139.0,438.8 L2141.8,438.8 L2144.5,438.8 L2147.3,438.9 L2150.0,438.9 L2152.8,438.9 L2155.5,438.9 L2158.3,438.9 L2161.0,438.9 L2163.8,438.9 L2166.5,438.9 L2169.3,439.0 L2172.0,439.0 L2174.8,439.0 L2177.5,439.0 L2180.3,439.0 L2183.0,439.0 L2185.8,439.0 L2188.5,439.0 L2191.3,439.1 L2194.0,439.1 L2196.8,439.1 L2199.5,439.1 L2202.3,439.1 L2205.0,439.1 L2207.8,439.1 L2210.5,439.1 L2213.3,439.1 L2216.0,439.2 L2218.8,439.2 L2221.5,439.2 L2224.3,439.2 L2227.0,439.2 L2229.8,439.2 L2232.5,439.2 L2235.3,439.2 L2238.0,439.3 L2240.8,439.3 L2243.5,439.3" fill="none" stroke="#FF0000" stroke-width="10" stroke-linejoin="round" stroke-linecap="round" stroke-dasharray="1.2 41.4" stroke-dashoffset="34.3"/>
<path d="M319.0,447.2 L321.7,447.1 L324.5,447.1 L327.2,447.1 L330.0,447.0 L332.7,447.0 L335.5,447.0 L338.2,446.9 L341.0,446.9 L343.7,446.9 L346.5,446.9 L349.2,446.8 L352.0,446.8 L354.7,446.7 L357.5,446.7 L360.2,446.7 L363.0,446.6 L365.7,446.6 L368.5,446.6 L371.2,446.5 L374.0,446.5 L376.7,446.4 L379.5,446.4 L382.2,446.4 L385.0,446.3 L387.7,446.3 L390.5,446.2 L393.2,446.2 L396.0,446.2 L398.7,446.1 L401.5,446.1 L404.2,446.0 L407.0,446.0 L409.7,446.0 L412.5,445.9 L415.2,445.9 L418.0,445.8 L420.7,445.8 L423.5,445.7 L426.2,445.7 L429.0,445.7 L431.7,445.6 L434.5,445.6 L437.2,445.5 L440.0,445.5 L442.7,445.4 L445.5,445.4 L448.2,445.3 L451.0,445.3 L453.7,445.2 L456.5,445.2 L459.2,445.1 L462.0,445.1 L464.7,445.1 L467.5,445.0 L470.2,445.0 L473.0,444.9 L475.7,444.9 L478.5,444.8 L481.2,444.8 L484.0,444.7 L486.7,444.7 L489.5,444.6 L492.2,444.6 L495.0,444.5 L497.7,444.5 L500.5,444.4 L503.2,444.4 L506.0,444.3 L508.7,444.2 L511.4,444.2 L514.2,444.1 L516.9,444.1 L519.7,444.0 L522.4,444.0 L525.2,443.9 L527.9,443.9 L530.7,443.8 L533.4,443.7 L536.2,443.7 L538.9,443.6 L541.7,443.6 L544.4,443.5 L547.2,443.4 L549.9,443.4 L552.7,443.3 L555.4,443.2 L558.2,443.2 L560.9,443.1 L563.7,443.0 L566.4,443.0 L569.2,442.9 L571.9,442.8 L574.7,442.8 L577.4,442.7 L580.2,442.6 L582.9,442.5 L585.7,442.5 L588.4,442.4 L591.2,442.3 L593.9,442.2 L596.7,442.2 L599.4,442.1 L602.2,442.0 L604.9,441.9 L607.7,441.8 L610.4,441.7 L613.2,441.6 L615.9,441.5 L618.7,441.4 L621.4,441.3 L624.2,441.2 L626.9,441.1 L629.7,441.0 L632.4,440.9 L635.2,440.8 L637.9,440.6 L640.7,440.5 L643.4,440.4 L646.2,440.3 L648.9,440.2 L651.7,440.0 L654.4,439.9 L657.2,439.8 L659.9,439.7 L662.7,439.5 L665.4,439.4 L668.2,439.3 L670.9,439.2 L673.7,439.0 L676.4,438.9 L679.2,438.8 L681.9,438.7 L684.7,438.5 L687.4,438.4 L690.2,438.3 L692.9,438.1 L695.7,438.0 L698.4,437.9 L701.2,437.8 L703.9,437.6 L706.6,437.5 L709.4,437.4 L712.1,437.3 L714.9,437.2 L717.6,437.0 L720.4,436.9 L723.1,436.8 L725.9,436.6 L728.6,436.5 L731.4,436.4 L734.1,436.2 L736.9,436.1 L739.6,435.9 L742.4,435.8 L745.1,435.6 L747.9,435.4 L750.6,435.2 L753.4,434.9 L756.1,434.7 L758.9,434.4 L761.6,434.2 L764.4,433.9 L767.1,433.6 L769.9,433.3 L772.6,433.0 L775.4,432.7 L778.1,432.4 L780.9,432.1 L783.6,431.9 L786.4,431.6 L789.1,431.4 L791.9,431.2 L794.6,430.9 L797.4,430.7 L800.1,430.5 L802.9,430.3 L805.6,430.1 L808.4,429.9 L811.1,429.7 L813.9,429.5 L816.6,429.3 L819.4,429.0 L822.1,428.8 L824.9,428.5 L827.6,428.2 L830.4,427.9 L833.1,427.6 L835.9,427.2 L838.6,426.8 L841.4,426.3 L844.1,425.8 L846.9,425.3 L849.6,424.8 L852.4,424.3 L855.1,423.7 L857.9,423.2 L860.6,422.6 L863.4,422.0 L866.1,421.5 L868.9,421.0 L871.6,420.4 L874.4,419.9 L877.1,419.5 L879.9,419.0 L882.6,418.5 L885.4,418.1 L888.1,417.6 L890.9,417.2 L893.6,416.7 L896.4,416.2 L899.1,415.8 L901.8,415.3 L904.6,414.7 L907.3,414.2 L910.1,413.6 L912.8,413.0 L915.6,412.4 L918.3,411.7 L921.1,410.9 L923.8,410.1 L926.6,409.2 L929.3,408.2 L932.1,407.3 L934.8,406.2 L937.6,405.2 L940.3,404.1 L943.1,403.0 L945.8,401.9 L948.6,400.8 L951.3,399.7 L954.1,398.6 L956.8,397.5 L959.6,396.4 L962.3,395.3 L965.1,394.2 L967.8,393.1 L970.6,392.0 L973.3,390.8 L976.1,389.6 L978.8,388.4 L981.6,387.1 L984.3,385.8 L987.1,384.5 L989.8,383.0 L992.6,381.6 L995.3,380.0 L998.1,378.3 L1000.8,376.6 L1003.6,374.8 L1006.3,372.9 L1009.1,370.9 L1011.8,368.9 L1014.6,366.8 L1017.3,364.6 L1020.1,362.4 L1022.8,360.2 L1025.6,357.9 L1028.3,355.6 L1031.1,353.1 L1033.8,350.6 L1036.6,348.0 L1039.3,345.3 L1042.1,342.5 L1044.8,339.7 L1047.6,336.8 L1050.3,333.9 L1053.1,330.9 L1055.8,327.9 L1058.6,324.9 L1061.3,321.7 L1064.1,318.5 L1066.8,315.1 L1069.6,311.7 L1072.3,308.3 L1075.1,304.7 L1077.8,301.2 L1080.6,297.6 L1083.3,293.9 L1086.1,290.3 L1088.8,286.5 L1091.5,282.6 L1094.3,278.6 L1097.0,274.5 L1099.8,270.4 L1102.5,266.3 L1105.3,262.4 L1108.0,258.6 L1110.8,255.1 L1113.5,251.6 L1116.3,248.1 L1119.0,244.6 L1121.8,241.2 L1124.5,237.8 L1127.3,234.6 L1130.0,231.6 L1132.8,228.9 L1135.5,226.4 L1138.3,224.2 L1141.0,222.2 L1143.8,220.3 L1146.5,218.4 L1149.3,216.5 L1152.0,214.7 L1154.8,212.9 L1157.5,211.3 L1160.3,209.7 L1163.0,208.3 L1165.8,207.0 L1168.5,205.9 L1171.3,204.9 L1174.0,204.2 L1176.8,203.7 L1179.5,203.5 L1182.3,203.5 L1185.0,203.5 L1187.8,203.6 L1190.5,203.7 L1193.3,203.9 L1196.0,204.1 L1198.8,204.3 L1201.5,204.6 L1204.3,204.9 L1207.0,205.3 L1209.8,205.7 L1212.5,206.1 L1215.3,206.5 L1218.0,207.0 L1220.8,207.5 L1223.5,208.3 L1226.3,209.8 L1229.0,211.7 L1231.8,214.0 L1234.5,216.7 L1237.3,219.7 L1240.0,222.9 L1242.8,226.2 L1245.5,229.5 L1248.3,232.9 L1251.0,236.1 L1253.8,239.1 L1256.5,242.4 L1259.3,245.8 L1262.0,249.4 L1264.8,253.0 L1267.5,256.7 L1270.3,260.5 L1273.0,264.2 L1275.8,267.9 L1278.5,271.4 L1281.2,274.8 L1284.0,278.2 L1286.7,281.5 L1289.5,284.9 L1292.2,288.2 L1295.0,291.4 L1297.7,294.7 L1300.5,297.8 L1303.2,300.9 L1306.0,303.9 L1308.7,306.9 L1311.5,309.8 L1314.2,312.6 L1317.0,315.4 L1319.7,318.2 L1322.5,320.9 L1325.2,323.5 L1328.0,326.1 L1330.7,328.6 L1333.5,331.1 L1336.2,333.4 L1339.0,335.7 L1341.7,337.9 L1344.5,340.0 L1347.2,342.1 L1350.0,344.1 L1352.7,346.2 L1355.5,348.1 L1358.2,350.0 L1361.0,351.9 L1363.7,353.7 L1366.5,355.5 L1369.2,357.2 L1372.0,358.9 L1374.7,360.5 L1377.5,362.1 L1380.2,363.6 L1383.0,365.1 L1385.7,366.5 L1388.5,368.0 L1391.2,369.4 L1394.0,370.7 L1396.7,372.0 L1399.5,373.3 L1402.2,374.6 L1405.0,375.9 L1407.7,377.1 L1410.5,378.3 L1413.2,379.5 L1416.0,380.6 L1418.7,381.8 L1421.5,382.9 L1424.2,384.0 L1427.0,385.1 L1429.7,386.3 L1432.5,387.4 L1435.2,388.5 L1438.0,389.5 L1440.7,390.6 L1443.5,391.6 L1446.2,392.6 L1449.0,393.5 L1451.7,394.4 L1454.5,395.2 L1457.2,396.0 L1460.0,396.8 L1462.7,397.5 L1465.5,398.2 L1468.2,398.9 L1471.0,399.5 L1473.7,400.2 L1476.4,400.8 L1479.2,401.4 L1481.9,402.0 L1484.7,402.5 L1487.4,403.1 L1490.2,403.6 L1492.9,404.2 L1495.7,404.7 L1498.4,405.2 L1501.2,405.7 L1503.9,406.2 L1506.7,406.7 L1509.4,407.2 L1512.2,407.7 L1514.9,408.1 L1517.7,408.6 L1520.4,409.1 L1523.2,409.5 L1525.9,409.9 L1528.7,410.4 L1531.4,410.8 L1534.2,411.3 L1536.9,411.7 L1539.7,412.2 L1542.4,412.6 L1545.2,413.0 L1547.9,413.5 L1550.7,413.9 L1553.4,414.4 L1556.2,414.8 L1558.9,415.2 L1561.7,415.7 L1564.4,416.1 L1567.2,416.5 L1569.9,416.9 L1572.7,417.3 L1575.4,417.7 L1578.2,418.1 L1580.9,418.4 L1583.7,418.8 L1586.4,419.1 L1589.2,419.4 L1591.9,419.8 L1594.7,420.1 L1597.4,420.4 L1600.2,420.7 L1602.9,421.0 L1605.7,421.3 L1608.4,421.5 L1611.2,421.8 L1613.9,422.1 L1616.7,422.3 L1619.4,422.6 L1622.2,422.8 L1624.9,423.1 L1627.7,423.3 L1630.4,423.5 L1633.2,423.7 L1635.9,423.9 L1638.7,424.0 L1641.4,424.2 L1644.2,424.4 L1646.9,424.5 L1649.7,424.7 L1652.4,424.8 L1655.2,425.0 L1657.9,425.1 L1660.7,425.3 L1663.4,425.4 L1666.2,425.5 L1668.9,425.7 L1671.6,425.8 L1674.4,426.0 L1677.1,426.1 L1679.9,426.2 L1682.6,426.3 L1685.4,426.4 L1688.1,426.6 L1690.9,426.7 L1693.6,426.8 L1696.4,426.9 L1699.1,427.0 L1701.9,427.1 L1704.6,427.2 L1707.4,427.4 L1710.1,427.5 L1712.9,427.6 L1715.6,427.7 L1718.4,427.9 L1721.1,428.0 L1723.9,428.2 L1726.6,428.3 L1729.4,428.5 L1732.1,428.6 L1734.9,428.8 L1737.6,428.9 L1740.4,429.1 L1743.1,429.2 L1745.9,429.4 L1748.6,429.6 L1751.4,429.7 L1754.1,429.9 L1756.9,430.0 L1759.6,430.1 L1762.4,430.3 L1765.1,430.4 L1767.9,430.5 L1770.6,430.7 L1773.4,430.8 L1776.1,430.9 L1778.9,431.0 L1781.6,431.2 L1784.4,431.3 L1787.1,431.4 L1789.9,431.5 L1792.6,431.7 L1795.4,431.8 L1798.1,431.9 L1800.9,432.0 L1803.6,432.2 L1806.4,432.3 L1809.1,432.5 L1811.9,432.6 L1814.6,432.8 L1817.4,432.9 L1820.1,433.1 L1822.9,433.2 L1825.6,433.4 L1828.4,433.5 L1831.1,433.7 L1833.9,433.8 L1836.6,434.0 L1839.4,434.1 L1842.1,434.2 L1844.9,434.4 L1847.6,434.5 L1850.4,434.6 L1853.1,434.7 L1855.9,434.8 L1858.6,434.9 L1861.3,435.1 L1864.1,435.2 L1866.8,435.3 L1869.6,435.4 L1872.3,435.5 L1875.1,435.6 L1877.8,435.6 L1880.6,435.7 L1883.3,435.8 L1886.1,435.9 L1888.8,436.0 L1891.6,436.0 L1894.3,436.1 L1897.1,436.2 L1899.8,436.3 L1902.6,436.3 L1905.3,436.4 L1908.1,436.5 L1910.8,436.6 L1913.6,436.6 L1916.3,436.7 L1919.1,436.7 L1921.8,436.8 L1924.6,436.9 L1927.3,436.9 L1930.1,437.0 L1932.8,437.1 L1935.6,437.1 L1938.3,437.2 L1941.1,437.2 L1943.8,437.3 L1946.6,437.3 L1949.3,437.4 L1952.1,437.4 L1954.8,437.5 L1957.6,437.5 L1960.3,437.5 L1963.1,437.6 L1965.8,437.6 L1968.6,437.7 L1971.3,437.7 L1974.1,437.7 L1976.8,437.7 L1979.6,437.8 L1982.3,437.8 L1985.1,437.8 L1987.8,437.8 L1990.6,437.9 L1993.3,437.9 L1996.1,437.9 L1998.8,437.9 L2001.6,437.9 L2004.3,438.0 L2007.1,438.0 L2009.8,438.0 L2012.6,438.0 L2015.3,438.0 L2018.1,438.0 L2020.8,438.0 L2023.6,438.1 L2026.3,438.1 L2029.1,438.1 L2031.8,438.1 L2034.6,438.1 L2037.3,438.1 L2040.1,438.2 L2042.8,438.2 L2045.6,438.2 L2048.3,438.2 L2051.1,438.2 L2053.8,438.3 L2056.5,438.3 L2059.3,438.3 L2062.0,438.3 L2064.8,438.4 L2067.5,438.4 L2070.3,438.4 L2073.0,438.4 L2075.8,438.5 L2078.5,438.5 L2081.3,438.5 L2084.0,438.5 L2086.8,438.6 L2089.5,438.6 L2092.3,438.6 L2095.0,438.7 L2097.8,438.7 L2100.5,438.7 L2103.3,438.8 L2106.0,438.8 L2108.8,438.8 L2111.5,438.9 L2114.3,438.9 L2117.0,438.9 L2119.8,439.0 L2122.5,439.0 L2125.3,439.0 L2128.0,439.1 L2130.8,439.1 L2133.5,439.1 L2136.3,439.2 L2139.0,439.2 L2141.8,439.3 L2144.5,439.3 L2147.3,439.3 L2150.0,439.4 L2152.8,439.4 L2155.5,439.5 L2158.3,439.5 L2161.0,439.6 L2163.8,439.6 L2166.5,439.7 L2169.3,439.7 L2172.0,439.8 L2174.8,439.9 L2177.5,439.9 L2180.3,440.0 L2183.0,440.0 L2185.8,440.1 L2188.5,440.1 L2191.3,440.2 L2194.0,440.3 L2196.8,440.3 L2199.5,440.4 L2202.3,440.4 L2205.0,440.5 L2207.8,440.5 L2210.5,440.6 L2213.3,440.6 L2216.0,440.7 L2218.8,440.7 L2221.5,440.8 L2224.3,440.8 L2227.0,440.9 L2229.8,440.9 L2232.5,440.9 L2235.3,441.0 L2238.0,441.0 L2240.8,441.0 L2243.5,441.0" fill="none" stroke="#0000FF" stroke-width="10" stroke-linejoin="round" stroke-linecap="round" stroke-dasharray="1.2 41.4" stroke-dashoffset="36.0"/>
<path d="M319.0,447.2 L321.7,447.2 L324.5,447.2 L327.2,447.2 L330.0,447.2 L332.7,447.2 L335.5,447.2 L338.2,447.2 L341.0,447.2 L343.7,447.2 L346.5,447.2 L349.2,447.1 L352.0,447.1 L354.7,447.1 L357.5,447.1 L360.2,447.1 L363.0,447.1 L365.7,447.1 L368.5,447.1 L371.2,447.1 L374.0,447.1 L376.7,447.1 L379.5,447.1 L382.2,447.1 L385.0,447.1 L387.7,447.1 L390.5,447.1 L393.2,447.1 L396.0,447.1 L398.7,447.1 L401.5,447.1 L404.2,447.0 L407.0,447.0 L409.7,447.0 L412.5,447.0 L415.2,447.0 L418.0,447.0 L420.7,447.0 L423.5,447.0 L426.2,447.0 L429.0,447.0 L431.7,447.0 L434.5,447.0 L437.2,446.9 L440.0,446.9 L442.7,446.9 L445.5,446.9 L448.2,446.9 L451.0,446.9 L453.7,446.9 L456.5,446.9 L459.2,446.9 L462.0,446.9 L464.7,446.9 L467.5,446.8 L470.2,446.8 L473.0,446.8 L475.7,446.8 L478.5,446.8 L481.2,446.8 L484.0,446.8 L486.7,446.8 L489.5,446.7 L492.2,446.7 L495.0,446.7 L497.7,446.7 L500.5,446.7 L503.2,446.7 L506.0,446.7 L508.7,446.7 L511.4,446.6 L514.2,446.6 L516.9,446.6 L519.7,446.6 L522.4,446.6 L525.2,446.6 L527.9,446.6 L530.7,446.5 L533.4,446.5 L536.2,446.5 L538.9,446.5 L541.7,446.5 L544.4,446.5 L547.2,446.5 L549.9,446.4 L552.7,446.4 L555.4,446.4 L558.2,446.4 L560.9,446.4 L563.7,446.4 L566.4,446.3 L569.2,446.3 L571.9,446.3 L574.7,446.3 L577.4,446.3 L580.2,446.3 L582.9,446.2 L585.7,446.2 L588.4,446.2 L591.2,446.2 L593.9,446.2 L596.7,446.2 L599.4,446.1 L602.2,446.1 L604.9,446.1 L607.7,446.1 L610.4,446.0 L613.2,446.0 L615.9,446.0 L618.7,446.0 L621.4,445.9 L624.2,445.9 L626.9,445.9 L629.7,445.8 L632.4,445.8 L635.2,445.7 L637.9,445.7 L640.7,445.7 L643.4,445.6 L646.2,445.6 L648.9,445.5 L651.7,445.5 L654.4,445.4 L657.2,445.4 L659.9,445.4 L662.7,445.3 L665.4,445.3 L668.2,445.2 L670.9,445.2 L673.7,445.1 L676.4,445.1 L679.2,445.0 L681.9,445.0 L684.7,445.0 L687.4,444.9 L690.2,444.9 L692.9,444.8 L695.7,444.8 L698.4,444.7 L701.2,444.7 L703.9,444.7 L706.6,444.6 L709.4,444.6 L712.1,444.5 L714.9,444.5 L717.6,444.5 L720.4,444.4 L723.1,444.4 L725.9,444.4 L728.6,444.3 L731.4,444.3 L734.1,444.3 L736.9,444.2 L739.6,444.2 L742.4,444.2 L745.1,444.1 L747.9,444.1 L750.6,444.1 L753.4,444.0 L756.1,444.0 L758.9,444.0 L761.6,444.0 L764.4,443.9 L767.1,443.9 L769.9,443.9 L772.6,443.9 L775.4,443.8 L778.1,443.8 L780.9,443.8 L783.6,443.7 L786.4,443.7 L789.1,443.7 L791.9,443.7 L794.6,443.6 L797.4,443.6 L800.1,443.6 L802.9,443.5 L805.6,443.5 L808.4,443.5 L811.1,443.4 L813.9,443.4 L816.6,443.4 L819.4,443.3 L822.1,443.3 L824.9,443.3 L827.6,443.2 L830.4,443.2 L833.1,443.2 L835.9,443.1 L838.6,443.1 L841.4,443.0 L844.1,443.0 L846.9,443.0 L849.6,442.9 L852.4,442.9 L855.1,442.8 L857.9,442.7 L860.6,442.7 L863.4,442.6 L866.1,442.6 L868.9,442.5 L871.6,442.4 L874.4,442.4 L877.1,442.3 L879.9,442.2 L882.6,442.1 L885.4,442.1 L888.1,442.0 L890.9,441.9 L893.6,441.8 L896.4,441.7 L899.1,441.7 L901.8,441.6 L904.6,441.5 L907.3,441.4 L910.1,441.3 L912.8,441.2 L915.6,441.1 L918.3,441.0 L921.1,441.0 L923.8,440.9 L926.6,440.8 L929.3,440.7 L932.1,440.6 L934.8,440.5 L937.6,440.5 L940.3,440.4 L943.1,440.3 L945.8,440.2 L948.6,440.1 L951.3,440.0 L954.1,440.0 L956.8,439.9 L959.6,439.8 L962.3,439.7 L965.1,439.6 L967.8,439.5 L970.6,439.4 L973.3,439.4 L976.1,439.3 L978.8,439.2 L981.6,439.1 L984.3,439.0 L987.1,438.9 L989.8,438.8 L992.6,438.7 L995.3,438.6 L998.1,438.5 L1000.8,438.4 L1003.6,438.3 L1006.3,438.2 L1009.1,438.1 L1011.8,438.0 L1014.6,437.9 L1017.3,437.8 L1020.1,437.7 L1022.8,437.6 L1025.6,437.5 L1028.3,437.3 L1031.1,437.2 L1033.8,437.1 L1036.6,437.0 L1039.3,436.9 L1042.1,436.7 L1044.8,436.6 L1047.6,436.5 L1050.3,436.3 L1053.1,436.2 L1055.8,436.0 L1058.6,435.9 L1061.3,435.8 L1064.1,435.6 L1066.8,435.5 L1069.6,435.3 L1072.3,435.2 L1075.1,435.0 L1077.8,434.9 L1080.6,434.7 L1083.3,434.6 L1086.1,434.4 L1088.8,434.3 L1091.5,434.1 L1094.3,434.0 L1097.0,433.8 L1099.8,433.7 L1102.5,433.5 L1105.3,433.4 L1108.0,433.2 L1110.8,433.0 L1113.5,432.9 L1116.3,432.8 L1119.0,432.6 L1121.8,432.5 L1124.5,432.3 L1127.3,432.1 L1130.0,432.0 L1132.8,431.8 L1135.5,431.7 L1138.3,431.5 L1141.0,431.4 L1143.8,431.2 L1146.5,431.0 L1149.3,430.9 L1152.0,430.7 L1154.8,430.5 L1157.5,430.4 L1160.3,430.2 L1163.0,430.0 L1165.8,429.8 L1168.5,429.6 L1171.3,429.4 L1174.0,429.2 L1176.8,429.0 L1179.5,428.8 L1182.3,428.6 L1185.0,428.4 L1187.8,428.1 L1190.5,427.9 L1193.3,427.7 L1196.0,427.4 L1198.8,427.2 L1201.5,426.9 L1204.3,426.7 L1207.0,426.4 L1209.8,426.2 L1212.5,425.9 L1215.3,425.6 L1218.0,425.3 L1220.8,425.0 L1223.5,424.7 L1226.3,424.4 L1229.0,424.0 L1231.8,423.7 L1234.5,423.3 L1237.3,423.0 L1240.0,422.6 L1242.8,422.1 L1245.5,421.7 L1248.3,421.2 L1251.0,420.7 L1253.8,420.2 L1256.5,419.7 L1259.3,419.2 L1262.0,418.6 L1264.8,418.1 L1267.5,417.5 L1270.3,416.9 L1273.0,416.4 L1275.8,415.8 L1278.5,415.3 L1281.2,414.7 L1284.0,414.1 L1286.7,413.5 L1289.5,412.9 L1292.2,412.3 L1295.0,411.7 L1297.7,411.1 L1300.5,410.4 L1303.2,409.8 L1306.0,409.1 L1308.7,408.4 L1311.5,407.8 L1314.2,407.1 L1317.0,406.4 L1319.7,405.6 L1322.5,404.9 L1325.2,404.2 L1328.0,403.4 L1330.7,402.7 L1333.5,401.9 L1336.2,401.1 L1339.0,400.3 L1341.7,399.5 L1344.5,398.6 L1347.2,397.7 L1350.0,396.8 L1352.7,395.9 L1355.5,394.9 L1358.2,393.8 L1361.0,392.8 L1363.7,391.6 L1366.5,390.5 L1369.2,389.3 L1372.0,388.1 L1374.7,386.8 L1377.5,385.5 L1380.2,384.1 L1383.0,382.7 L1385.7,381.3 L1388.5,379.8 L1391.2,378.3 L1394.0,376.8 L1396.7,375.2 L1399.5,373.5 L1402.2,371.8 L1405.0,370.0 L1407.7,368.1 L1410.5,366.2 L1413.2,364.2 L1416.0,362.2 L1418.7,360.2 L1421.5,358.1 L1424.2,355.9 L1427.0,353.8 L1429.7,351.6 L1432.5,349.3 L1435.2,347.0 L1438.0,344.6 L1440.7,342.1 L1443.5,339.6 L1446.2,337.0 L1449.0,334.4 L1451.7,331.6 L1454.5,328.8 L1457.2,325.9 L1460.0,322.9 L1462.7,319.8 L1465.5,316.6 L1468.2,313.3 L1471.0,309.8 L1473.7,306.3 L1476.4,302.7 L1479.2,299.0 L1481.9,295.2 L1484.7,291.3 L1487.4,287.2 L1490.2,283.0 L1492.9,278.5 L1495.7,274.0 L1498.4,269.3 L1501.2,264.5 L1503.9,259.7 L1506.7,254.9 L1509.4,250.1 L1512.2,245.2 L1514.9,240.3 L1517.7,235.2 L1520.4,230.2 L1523.2,225.1 L1525.9,219.9 L1528.7,214.8 L1531.4,209.6 L1534.2,204.2 L1536.9,198.8 L1539.7,193.4 L1542.4,188.1 L1545.2,183.0 L1547.9,178.1 L1550.7,173.3 L1553.4,168.5 L1556.2,163.8 L1558.9,159.2 L1561.7,154.8 L1564.4,150.6 L1567.2,146.9 L1569.9,143.7 L1572.7,140.7 L1575.4,137.7 L1578.2,134.7 L1580.9,131.8 L1583.7,128.9 L1586.4,126.2 L1589.2,123.6 L1591.9,121.3 L1594.7,119.2 L1597.4,117.5 L1600.2,116.1 L1602.9,115.1 L1605.7,114.5 L1608.4,114.4 L1611.2,114.4 L1613.9,114.4 L1616.7,114.4 L1619.4,114.5 L1622.2,114.5 L1624.9,114.6 L1627.7,114.7 L1630.4,114.7 L1633.2,114.8 L1635.9,114.9 L1638.7,115.1 L1641.4,115.2 L1644.2,115.3 L1646.9,115.5 L1649.7,116.3 L1652.4,117.8 L1655.2,120.0 L1657.9,122.9 L1660.7,126.1 L1663.4,129.8 L1666.2,133.7 L1668.9,137.8 L1671.6,141.9 L1674.4,146.0 L1677.1,149.9 L1679.9,153.8 L1682.6,158.0 L1685.4,162.5 L1688.1,167.2 L1690.9,172.1 L1693.6,177.0 L1696.4,182.0 L1699.1,187.0 L1701.9,192.0 L1704.6,197.2 L1707.4,202.6 L1710.1,208.0 L1712.9,213.3 L1715.6,218.6 L1718.4,223.6 L1721.1,228.4 L1723.9,233.1 L1726.6,237.7 L1729.4,242.2 L1732.1,246.6 L1734.9,250.9 L1737.6,255.1 L1740.4,259.2 L1743.1,263.2 L1745.9,267.1 L1748.6,270.9 L1751.4,274.7 L1754.1,278.4 L1756.9,282.1 L1759.6,285.6 L1762.4,289.0 L1765.1,292.3 L1767.9,295.5 L1770.6,298.7 L1773.4,301.7 L1776.1,304.7 L1778.9,307.6 L1781.6,310.5 L1784.4,313.3 L1787.1,316.0 L1789.9,318.6 L1792.6,321.2 L1795.4,323.7 L1798.1,326.2 L1800.9,328.6 L1803.6,330.9 L1806.4,333.2 L1809.1,335.5 L1811.9,337.7 L1814.6,339.9 L1817.4,342.0 L1820.1,344.1 L1822.9,346.1 L1825.6,348.0 L1828.4,349.9 L1831.1,351.7 L1833.9,353.4 L1836.6,355.1 L1839.4,356.6 L1842.1,358.2 L1844.9,359.7 L1847.6,361.1 L1850.4,362.6 L1853.1,364.0 L1855.9,365.3 L1858.6,366.6 L1861.3,367.9 L1864.1,369.2 L1866.8,370.5 L1869.6,371.7 L1872.3,373.0 L1875.1,374.2 L1877.8,375.4 L1880.6,376.7 L1883.3,377.9 L1886.1,379.1 L1888.8,380.3 L1891.6,381.4 L1894.3,382.6 L1897.1,383.7 L1899.8,384.8 L1902.6,385.9 L1905.3,386.9 L1908.1,387.9 L1910.8,388.8 L1913.6,389.7 L1916.3,390.6 L1919.1,391.4 L1921.8,392.2 L1924.6,393.0 L1927.3,393.8 L1930.1,394.6 L1932.8,395.3 L1935.6,396.1 L1938.3,396.8 L1941.1,397.5 L1943.8,398.1 L1946.6,398.8 L1949.3,399.4 L1952.1,400.1 L1954.8,400.7 L1957.6,401.3 L1960.3,401.9 L1963.1,402.4 L1965.8,403.0 L1968.6,403.5 L1971.3,404.0 L1974.1,404.6 L1976.8,405.1 L1979.6,405.6 L1982.3,406.1 L1985.1,406.5 L1987.8,407.0 L1990.6,407.5 L1993.3,407.9 L1996.1,408.4 L1998.8,408.8 L2001.6,409.3 L2004.3,409.7 L2007.1,410.1 L2009.8,410.6 L2012.6,411.0 L2015.3,411.4 L2018.1,411.8 L2020.8,412.2 L2023.6,412.6 L2026.3,413.0 L2029.1,413.4 L2031.8,413.7 L2034.6,414.1 L2037.3,414.5 L2040.1,414.8 L2042.8,415.2 L2045.6,415.5 L2048.3,415.9 L2051.1,416.2 L2053.8,416.6 L2056.5,416.9 L2059.3,417.2 L2062.0,417.5 L2064.8,417.8 L2067.5,418.1 L2070.3,418.4 L2073.0,418.7 L2075.8,419.0 L2078.5,419.3 L2081.3,419.6 L2084.0,419.8 L2086.8,420.1 L2089.5,420.3 L2092.3,420.6 L2095.0,420.8 L2097.8,421.0 L2100.5,421.2 L2103.3,421.5 L2106.0,421.7 L2108.8,421.9 L2111.5,422.1 L2114.3,422.3 L2117.0,422.5 L2119.8,422.7 L2122.5,422.9 L2125.3,423.1 L2128.0,423.3 L2130.8,423.5 L2133.5,423.7 L2136.3,423.9 L2139.0,424.1 L2141.8,424.3 L2144.5,424.5 L2147.3,424.7 L2150.0,424.8 L2152.8,425.0 L2155.5,425.2 L2158.3,425.4 L2161.0,425.5 L2163.8,425.7 L2166.5,425.9 L2169.3,426.0 L2172.0,426.2 L2174.8,426.3 L2177.5,426.5 L2180.3,426.7 L2183.0,426.8 L2185.8,426.9 L2188.5,427.1 L2191.3,427.2 L2194.0,427.4 L2196.8,427.5 L2199.5,427.6 L2202.3,427.8 L2205.0,427.9 L2207.8,428.0 L2210.5,428.1 L2213.3,428.3 L2216.0,428.4 L2218.8,428.5 L2221.5,428.6 L2224.3,428.7 L2227.0,428.8 L2229.8,428.9 L2232.5,429.0 L2235.3,429.1 L2238.0,429.2 L2240.8,429.3 L2243.5,429.4" fill="none" stroke="#00FF00" stroke-width="10" stroke-linejoin="round" stroke-linecap="round" stroke-dasharray="1.2 41.4" stroke-dashoffset="19.9"/>
<path d="M319.0,443.2 L325.9,443.1 L332.7,443.0 L339.6,442.8 L346.5,442.7 L353.4,442.5 L360.2,442.4 L367.1,442.2 L374.0,442.0 L380.9,441.9 L387.7,441.7 L394.6,441.5 L401.5,441.3 L408.4,441.1 L415.2,440.8 L422.1,440.6 L429.0,440.4 L435.8,440.1 L442.7,439.9 L449.6,439.6 L456.5,439.3 L463.3,439.0 L470.2,438.7 L477.1,438.3 L484.0,438.0 L490.8,437.6 L497.7,437.2 L504.6,436.8 L511.4,436.4 L518.3,435.9 L525.2,435.4 L532.1,434.8 L538.9,434.2 L545.8,433.6 L552.7,432.9 L559.6,432.1 L566.4,431.3 L573.3,430.5 L580.2,429.7 L587.1,428.7 L593.9,427.8 L600.8,426.7 L607.7,425.6 L614.5,424.5 L621.4,423.2 L628.3,421.9 L635.2,420.4 L642.0,418.8 L648.9,417.0 L655.8,415.0 L662.7,412.9 L669.5,410.7 L676.4,408.3 L683.3,405.7 L690.2,402.9 L697.0,399.7 L703.9,396.2 L708.4,393.6 L709.5,393.0 L710.6,392.3 L710.8,392.2 L711.7,391.6 L712.8,391.0 L713.9,390.3 L715.0,389.6 L716.1,388.9 L717.2,388.2 L717.6,387.9 L718.3,387.5 L719.4,386.7 L720.5,386.0 L721.6,385.3 L722.7,384.5 L723.8,383.8 L724.5,383.3 L724.9,383.0 L726.0,382.3 L727.1,381.5 L728.2,380.8 L729.3,380.0 L730.4,379.3 L731.4,378.7 L731.5,378.6 L732.6,377.9 L733.7,377.2 L734.8,376.5 L735.9,375.9 L737.0,375.2 L738.1,374.6 L738.3,374.5 L739.2,374.0 L740.3,373.5 L741.4,373.0 L742.5,372.5 L743.6,372.1 L744.7,371.8 L745.1,371.7 L745.8,371.5 L746.9,371.3 L748.0,371.1 L749.1,371.1 L750.2,371.1 L751.3,371.3 L752.0,371.4 L752.4,371.5 L753.5,371.9 L754.6,372.4 L755.7,373.0 L756.8,373.9 L757.9,374.9 L758.9,375.9 L759.0,376.1 L760.1,377.5 L761.2,379.1 L762.3,381.0 L763.4,383.1 L764.5,385.5 L765.6,388.2 L765.8,388.6 L766.7,391.2 L767.8,394.6 L768.9,398.3 L770.0,402.4 L771.1,406.9 L772.2,411.9 L772.6,414.0 L773.3,417.3 L774.4,423.1 L775.5,429.5 L776.6,436.4 L777.7,443.9 L778.8,451.9 L779.5,457.5 L779.9,460.6 L781.0,469.8 L782.1,479.7 L783.2,490.1 L784.3,501.3 L785.4,513.0 L786.4,524.1 L786.5,525.4 L787.6,538.3 L788.7,551.9 L789.8,566.0 L790.9,580.5 L792.0,595.5 L793.1,610.8 L793.3,613.1 L794.2,626.4 L795.3,642.2 L796.4,657.9 L797.5,673.6 L798.6,689.0 L799.7,704.1 L800.1,709.9 L800.8,718.6 L801.9,732.6 L803.0,745.8 L804.1,758.2 L805.2,769.7 L806.3,780.2 L807.0,786.5 L807.4,789.7 L808.5,798.2 L809.6,805.8 L810.7,812.4 L811.8,818.1 L812.9,823.0 L813.9,826.8 L814.0,827.2 L815.1,830.9 L816.2,834.0 L817.3,836.7 L818.4,839.0 L819.5,840.9 L820.6,842.4 L820.7,842.6 L821.7,843.4 L822.8,843.8 L823.9,843.6 L825.0,842.5 L826.1,840.6 L827.2,837.6 L827.6,836.1 L828.3,833.5 L829.4,828.1 L830.5,821.5 L831.6,813.6 L832.7,804.4 L833.8,794.1 L834.5,786.7 L834.9,782.5 L836.0,770.0 L837.1,756.5 L838.2,742.2 L839.3,727.2 L840.4,711.7 L841.4,697.4 L841.5,695.8 L842.6,679.6 L843.7,663.3 L844.8,646.9 L845.9,630.7 L847.0,614.7 L848.1,599.0 L848.2,596.7 L849.2,583.7 L850.3,568.9 L851.4,554.7 L852.5,540.9 L853.6,527.8 L854.7,515.3 L855.1,510.4 L855.8,503.3 L856.9,492.0 L858.0,481.3 L859.1,471.2 L860.2,461.7 L861.3,452.8 L862.0,447.3 L862.4,444.5 L863.5,436.7 L864.6,429.4 L865.7,422.6 L866.8,416.4 L867.9,410.5 L868.9,405.7 L869.0,405.1 L870.1,400.2 L871.2,395.6 L872.3,391.4 L873.4,387.5 L874.5,384.0 L875.6,380.8 L875.7,380.3 L876.7,377.9 L877.8,375.2 L878.9,372.8 L880.0,370.7 L881.1,368.7 L882.2,367.0 L882.6,366.3 L883.3,365.4 L884.4,364.1 L885.5,362.9 L886.6,361.9 L887.7,361.0 L888.8,360.2 L889.5,359.8 L889.9,359.6 L891.0,359.1 L892.1,358.7 L893.2,358.4 L894.3,358.2 L895.4,358.1 L896.4,358.0 L896.5,358.0 L897.6,358.1 L898.7,358.1 L899.8,358.3 L900.9,358.5 L902.0,358.8 L903.1,359.1 L903.2,359.1 L904.2,359.4 L905.3,359.8 L906.4,360.2 L907.5,360.7 L908.6,361.1 L909.7,361.6 L910.1,361.8 L910.8,362.2 L911.9,362.7 L913.0,363.3 L914.1,363.9 L915.2,364.4 L916.3,365.0 L917.0,365.4 L917.4,365.7 L918.5,366.3 L919.6,366.9 L920.7,367.6 L921.8,368.2 L922.9,368.8 L923.8,369.4 L924.0,369.5 L925.1,370.1 L926.2,370.8 L927.3,371.5 L930.7,373.5 L937.6,377.5 L944.5,381.2 L951.3,384.7 L958.2,387.4 L965.1,389.9 L972.0,392.9 L978.8,396.2 L985.7,399.2 L992.6,401.5 L999.4,403.4 L1006.3,405.3 L1013.2,407.0 L1020.1,408.7 L1026.9,410.2 L1033.8,411.6 L1040.7,412.9 L1047.6,414.4 L1054.4,415.8 L1061.3,417.0 L1068.2,418.1 L1075.1,419.0 L1081.9,420.0 L1088.8,421.1 L1095.7,422.1 L1102.5,423.3 L1109.4,424.4 L1116.3,425.2 L1123.2,425.8 L1130.0,426.4 L1136.9,427.0 L1143.8,427.7 L1150.7,428.2 L1157.5,428.8 L1164.4,429.4 L1171.3,430.0 L1178.2,430.6 L1185.0,431.1 L1191.9,431.7 L1198.8,432.2 L1205.6,432.7 L1212.5,433.2 L1219.4,433.7 L1226.3,434.2 L1233.1,434.7 L1240.0,435.1 L1246.9,435.6 L1253.8,436.0 L1260.6,436.3 L1267.5,436.7 L1274.4,437.0 L1281.2,437.3 L1288.1,437.6 L1295.0,437.8 L1301.9,438.1 L1308.7,438.3 L1315.6,438.6 L1322.5,438.8 L1329.4,439.0 L1336.2,439.2 L1343.1,439.4 L1350.0,439.6 L1356.9,439.8 L1363.7,440.0 L1370.6,440.2 L1377.5,440.4 L1384.3,440.6 L1391.2,440.7 L1398.1,440.9 L1405.0,441.0 L1411.8,441.2 L1418.7,441.3 L1425.6,441.5 L1432.5,441.6 L1439.3,441.7 L1446.2,441.8 L1453.1,441.9 L1460.0,442.0 L1466.8,442.1 L1473.7,442.2 L1480.6,442.3 L1487.4,442.4 L1494.3,442.5 L1501.2,442.6 L1508.1,442.7 L1514.9,442.7 L1521.8,442.8 L1528.7,442.9 L1535.6,442.9 L1542.4,443.0 L1549.3,443.1 L1556.2,443.1 L1563.1,443.2 L1569.9,443.2 L1576.8,443.3 L1583.7,443.3 L1590.5,443.4 L1597.4,443.4 L1604.3,443.5 L1611.2,443.5 L1618.0,443.5 L1624.9,443.6 L1631.8,443.6 L1638.7,443.6 L1645.5,443.6 L1652.4,443.7 L1659.3,443.7 L1666.2,443.7 L1673.0,443.7 L1679.9,443.7 L1686.8,443.7 L1693.6,443.7" fill="none" stroke="#0000FF" stroke-width="9.0" stroke-linejoin="round" stroke-linecap="round" />
<path d="M319.0,445.5 L325.9,445.4 L332.7,445.4 L339.6,445.3 L346.5,445.2 L353.4,445.1 L360.2,445.0 L367.1,444.9 L374.0,444.7 L380.9,444.6 L387.7,444.5 L394.6,444.3 L401.5,444.1 L408.4,444.0 L415.2,443.8 L422.1,443.6 L429.0,443.3 L435.8,443.1 L442.7,442.9 L449.6,442.7 L456.5,442.4 L463.3,442.1 L470.2,441.9 L477.1,441.6 L484.0,441.3 L490.8,441.0 L497.7,440.7 L504.6,440.3 L511.4,440.0 L518.3,439.6 L525.2,439.2 L532.1,438.6 L538.9,438.0 L545.8,437.4 L552.7,436.7 L559.6,436.0 L566.4,435.3 L573.3,434.6 L580.2,433.9 L587.1,433.3 L593.9,432.6 L600.8,432.0 L607.7,431.5 L614.5,431.0 L621.4,430.6 L628.3,430.4 L635.2,430.2 L642.0,430.0 L648.9,429.8 L655.8,429.5 L662.7,429.2 L669.5,428.7 L676.4,428.1 L683.3,427.4 L690.2,426.3 L697.0,425.0 L703.9,423.5 L710.8,421.6 L717.6,419.6 L724.5,417.3 L731.4,414.9 L738.3,412.2 L745.1,409.2 L752.0,406.0 L758.9,402.8 L765.8,399.5 L772.6,395.8 L778.3,392.5 L779.4,391.8 L779.5,391.8 L780.5,391.2 L781.6,390.5 L782.7,389.7 L783.8,389.0 L784.9,388.3 L786.0,387.5 L786.4,387.2 L787.1,386.8 L788.2,386.0 L789.3,385.2 L790.4,384.4 L791.5,383.6 L792.6,382.8 L793.3,382.2 L793.7,381.9 L794.8,381.1 L795.9,380.2 L797.0,379.3 L798.1,378.5 L799.2,377.6 L800.1,376.8 L800.3,376.7 L801.4,375.8 L802.5,374.9 L803.6,374.0 L804.7,373.1 L805.8,372.2 L806.9,371.3 L807.0,371.2 L808.0,370.4 L809.1,369.6 L810.2,368.7 L811.3,368.0 L812.4,367.2 L813.5,366.5 L813.9,366.2 L814.6,365.8 L815.7,365.2 L816.8,364.6 L817.9,364.1 L819.0,363.7 L820.1,363.4 L820.7,363.2 L821.2,363.1 L822.3,363.0 L823.4,363.0 L824.5,363.0 L825.6,363.3 L826.7,363.6 L827.6,364.1 L827.8,364.1 L828.9,364.8 L830.0,365.7 L831.1,366.8 L832.2,368.1 L833.3,369.6 L834.4,371.3 L834.5,371.5 L835.5,373.3 L836.6,375.6 L837.7,378.2 L838.8,381.1 L839.9,384.3 L841.0,387.9 L841.4,389.3 L842.1,391.8 L843.2,396.2 L844.3,401.0 L845.4,406.2 L846.5,411.9 L847.6,418.1 L848.2,422.2 L848.6,424.8 L849.7,432.0 L850.8,439.7 L851.9,448.0 L853.0,456.9 L854.1,466.3 L855.1,474.9 L855.2,476.2 L856.3,486.7 L857.4,497.7 L858.5,509.3 L859.6,521.3 L860.7,533.7 L861.8,546.5 L862.0,548.0 L862.9,559.6 L864.0,572.9 L865.1,586.4 L866.2,599.9 L867.3,613.4 L868.4,626.8 L868.9,631.6 L869.5,639.8 L870.6,652.4 L871.7,664.5 L872.8,675.7 L873.9,686.2 L875.0,695.8 L875.7,701.3 L876.1,704.5 L877.2,712.3 L878.3,719.1 L879.4,724.9 L880.5,729.9 L881.6,734.0 L882.6,737.0 L882.7,737.4 L883.8,740.1 L884.9,742.2 L886.0,743.8 L887.1,745.0 L888.2,745.7 L889.3,746.1 L889.5,746.1 L890.4,746.1 L891.5,745.9 L892.6,745.4 L893.7,744.4 L894.8,742.8 L895.9,740.5 L896.4,739.5 L897.0,737.5 L898.1,733.5 L899.2,728.6 L900.3,722.6 L901.4,715.6 L902.5,707.5 L903.2,702.1 L903.6,698.5 L904.7,688.3 L905.8,677.3 L906.9,665.4 L908.0,652.7 L909.1,639.3 L910.1,627.4 L910.2,625.6 L911.3,611.6 L912.4,597.6 L913.5,583.7 L914.6,569.8 L915.7,556.2 L916.8,542.9 L917.0,541.4 L917.9,530.0 L919.0,517.4 L920.1,505.3 L921.2,493.7 L922.3,482.7 L923.4,472.1 L923.8,468.4 L924.5,462.1 L925.6,452.6 L926.7,443.7 L927.8,435.3 L928.9,427.4 L930.0,420.1 L930.7,415.8 L931.1,413.2 L932.2,406.8 L933.3,400.9 L934.4,395.5 L935.5,390.4 L936.6,385.8 L937.6,382.1 L937.7,381.6 L938.8,377.7 L939.9,374.1 L941.0,370.9 L942.1,368.0 L943.2,365.4 L944.3,363.0 L944.5,362.7 L945.4,360.9 L946.5,359.0 L947.6,357.4 L948.7,356.0 L949.8,354.8 L950.9,353.7 L951.3,353.4 L952.0,352.8 L953.1,352.1 L954.2,351.6 L955.3,351.2 L956.4,350.9 L957.5,350.7 L958.2,350.6 L958.6,350.6 L959.7,350.6 L960.8,350.7 L961.9,350.9 L963.0,351.1 L964.1,351.4 L965.1,351.8 L965.2,351.8 L966.3,352.3 L967.4,352.8 L968.5,353.4 L969.6,354.0 L970.7,354.7 L971.8,355.3 L972.0,355.4 L972.9,356.1 L974.0,356.8 L975.1,357.6 L976.2,358.3 L977.3,359.1 L978.4,359.9 L978.8,360.3 L979.5,360.8 L980.6,361.6 L981.7,362.4 L982.8,363.3 L983.9,364.1 L985.0,364.9 L985.7,365.5 L986.1,365.8 L987.2,366.6 L988.3,367.4 L989.4,368.2 L990.5,369.1 L991.6,369.9 L992.6,370.5 L992.7,370.6 L993.8,371.4 L994.9,372.2 L996.0,373.0 L997.1,373.7 L999.4,375.3 L1006.3,379.8 L1013.2,384.0 L1020.1,388.0 L1026.9,391.7 L1033.8,395.2 L1040.7,398.4 L1047.6,401.2 L1054.4,403.5 L1061.3,405.5 L1068.2,407.3 L1075.1,408.9 L1081.9,410.4 L1088.8,411.9 L1095.7,413.3 L1102.5,414.8 L1109.4,416.1 L1116.3,417.3 L1123.2,418.3 L1130.0,419.3 L1136.9,420.3 L1143.8,421.4 L1150.7,422.4 L1157.5,423.4 L1164.4,424.4 L1171.3,425.4 L1178.2,426.3 L1185.0,427.1 L1191.9,427.6 L1198.8,428.0 L1205.6,428.3 L1212.5,428.5 L1219.4,428.9 L1226.3,429.3 L1233.1,429.9 L1240.0,430.4 L1246.9,430.9 L1253.8,431.5 L1260.6,432.0 L1267.5,432.5 L1274.4,432.9 L1281.2,433.4 L1288.1,433.7 L1295.0,434.1 L1301.9,434.4 L1308.7,434.8 L1315.6,435.1 L1322.5,435.4 L1329.4,435.7 L1336.2,436.0 L1343.1,436.3 L1350.0,436.5 L1356.9,436.8 L1363.7,437.0 L1370.6,437.3 L1377.5,437.5 L1384.3,437.7 L1391.2,437.9 L1398.1,438.1 L1405.0,438.3 L1411.8,438.5 L1418.7,438.7 L1425.6,438.9 L1432.5,439.1 L1439.3,439.2 L1446.2,439.4 L1453.1,439.6 L1460.0,439.7 L1466.8,439.9 L1473.7,440.0 L1480.6,440.2 L1487.4,440.3 L1494.3,440.4 L1501.2,440.6 L1508.1,440.7 L1514.9,440.8 L1521.8,441.0 L1528.7,441.1 L1535.6,441.2 L1542.4,441.3 L1549.3,441.4 L1556.2,441.5 L1563.1,441.6 L1569.9,441.7 L1576.8,441.8 L1583.7,441.9 L1590.5,442.0 L1597.4,442.1 L1604.3,442.2 L1611.2,442.3 L1618.0,442.4 L1624.9,442.5 L1631.8,442.6 L1638.7,442.6 L1645.5,442.7 L1652.4,442.8 L1659.3,442.9 L1666.2,442.9 L1673.0,443.0 L1679.9,443.1 L1686.8,443.1 L1693.6,443.2" fill="none" stroke="#00FF00" stroke-width="9.0" stroke-linejoin="round" stroke-linecap="round" />
</g>
<text transform="translate(115,1265.7) rotate(-90)" font-size="91.5" style="white-space:pre">total absorp. coeff. (10<tspan font-size="56.7" dy="-46.3">3</tspan><tspan dy="46.3"> cm</tspan><tspan font-size="56.7" dy="-46.3">-1</tspan><tspan dy="46.3">)</tspan></text>
<text x="1284.4" y="1502.5" font-size="92" text-anchor="middle">photon energy (meV)</text>
<text x="339" y="177.7" font-size="92">(a)</text>
<text x="1928" y="154.4" font-size="92">2-3</text>
<text x="1816" y="273.6" font-size="92" style="white-space:pre">k = 15 nm</text>
<path d="M1000.3,518.4 L1205.2,518.4" fill="none" stroke="#000000" stroke-width="9.0" stroke-linecap="round" />
<text x="1228" y="549.9" font-size="92" style="white-space:pre">z<tspan font-size="57" dx="3" dy="32.6">0</tspan><tspan dx="-3" dy="-32.6"> = 0</tspan></text>
<path d="M1000.3,663.9 L1205.2,663.9" fill="none" stroke="#FF0000" stroke-width="9.0" stroke-linecap="round" />
<text x="1228" y="695.4" font-size="92" style="white-space:pre">z<tspan font-size="57" dx="3" dy="32.6">0</tspan><tspan dx="-3" dy="-32.6"> = 5 nm</tspan></text>
<path d="M1000.3,809.4 L1205.2,809.4" fill="none" stroke="#0000FF" stroke-width="9.0" stroke-linecap="round" />
<text x="1228" y="840.9" font-size="92" style="white-space:pre">z<tspan font-size="57" dx="3" dy="32.6">0</tspan><tspan dx="-3" dy="-32.6"> = 10 nm</tspan></text>
<path d="M1000.3,954.9 L1205.2,954.9" fill="none" stroke="#00FF00" stroke-width="9.0" stroke-linecap="round" />
<text x="1228" y="986.4" font-size="92" style="white-space:pre">z<tspan font-size="57" dx="3" dy="32.6">0</tspan><tspan dx="-3" dy="-32.6"> = 15 nm</tspan></text>
<path d="M1828.7,936.5 L2031,936.5" fill="none" stroke="#000" stroke-width="9.0" stroke-linecap="round" />
<text x="2057" y="968" font-size="92">CM</text>
<path d="M1551.5,1056.5 L1754.4,1056.5" fill="none" stroke="#000" stroke-width="9.0" stroke-linecap="round" stroke-dasharray="25.5 38.1"/>
<text x="1780" y="1086.5" font-size="92" style="white-space:pre">d = 30 nm</text>
<path d="M1551.5,1175 L1723,1175" fill="none" stroke="#000" stroke-width="10" stroke-linecap="round" stroke-dasharray="1.2 41.4"/>
<text x="1780" y="1206.1" font-size="92" style="white-space:pre">d = 50 nm</text>
<path d="M349.5,2768.5 L349.5,1600.5 L2248.0,1600.5 L2248.0,2768.5 Z" fill="none" stroke="#000" stroke-width="8.8" stroke-linejoin="round"/>
<path d="M349.5,1600.50 L315.5,1600.50 M349.5,1834.10 L315.5,1834.10 M349.5,2067.70 L315.5,2067.70 M349.5,2301.30 L315.5,2301.30 M349.5,2534.90 L315.5,2534.90 M349.5,2768.50 L315.5,2768.50 M349.5,1717.30 L332.5,1717.30 M349.5,1950.90 L332.5,1950.90 M349.5,2184.50 L332.5,2184.50 M349.5,2418.10 L332.5,2418.10 M349.5,2651.70 L332.5,2651.70 M349.50,2768.5 L349.50,2802.5 M620.71,2768.5 L620.71,2802.5 M891.93,2768.5 L891.93,2802.5 M1163.14,2768.5 L1163.14,2802.5 M1434.36,2768.5 L1434.36,2802.5 M1705.57,2768.5 L1705.57,2802.5 M1976.79,2768.5 L1976.79,2802.5 M2248.00,2768.5 L2248.00,2802.5 M485.11,2768.5 L485.11,2785.5 M756.32,2768.5 L756.32,2785.5 M1027.54,2768.5 L1027.54,2785.5 M1298.75,2768.5 L1298.75,2785.5 M1569.96,2768.5 L1569.96,2785.5 M1841.18,2768.5 L1841.18,2785.5 M2112.39,2768.5 L2112.39,2785.5" fill="none" stroke="#000" stroke-width="8.8" stroke-linecap="round"/>
<text x="293" y="1621.50" font-size="77" text-anchor="end">4</text>
<text x="293" y="1855.10" font-size="77" text-anchor="end">0</text>
<text x="293" y="2088.70" font-size="77" text-anchor="end">-4</text>
<text x="293" y="2322.30" font-size="77" text-anchor="end">-8</text>
<text x="293" y="2555.90" font-size="77" text-anchor="end">-12</text>
<text x="293" y="2789.50" font-size="77" text-anchor="end">-16</text>
<text x="349.50" y="2881.70" font-size="77" text-anchor="middle">0</text>
<text x="620.71" y="2881.70" font-size="77" text-anchor="middle">10</text>
<text x="891.93" y="2881.70" font-size="77" text-anchor="middle">20</text>
<text x="1163.14" y="2881.70" font-size="77" text-anchor="middle">30</text>
<text x="1434.36" y="2881.70" font-size="77" text-anchor="middle">40</text>
<text x="1705.57" y="2881.70" font-size="77" text-anchor="middle">50</text>
<text x="1976.79" y="2881.70" font-size="77" text-anchor="middle">60</text>
<text x="2248.00" y="2881.70" font-size="77" text-anchor="middle">70</text>
<clipPath id="clipb"><rect x="349.5" y="1600.5" width="1898.5" height="1168.0"/></clipPath>
<g clip-path="url(#clipb)">
<path d="M350.0,1834.0 L356.8,1833.9 L363.6,1833.8 L370.4,1833.7 L377.2,1833.5 L383.9,1833.3 L390.7,1833.2 L397.5,1833.0 L404.3,1832.9 L411.1,1832.9 L417.8,1832.9 L424.6,1832.8 L431.4,1832.7 L438.2,1832.6 L445.0,1832.4 L451.7,1832.1 L458.5,1831.9 L465.3,1831.6 L472.1,1831.3 L478.9,1830.9 L485.6,1830.5 L492.4,1830.1 L499.2,1829.6 L506.0,1829.1 L512.8,1828.6 L519.6,1828.0 L526.3,1827.2 L533.1,1826.4 L539.9,1825.6 L546.7,1825.0 L553.5,1824.3 L560.2,1823.7 L567.0,1823.1 L573.8,1822.4 L580.6,1821.5 L587.4,1820.4 L594.1,1819.3 L600.9,1818.6 L607.7,1818.7 L608.3,1818.7 L609.4,1818.8 L610.4,1818.9 L611.5,1819.0 L612.6,1819.2 L613.7,1819.3 L614.5,1819.4 L614.8,1819.5 L615.9,1819.7 L616.9,1819.9 L618.0,1820.2 L619.1,1820.5 L620.2,1820.8 L621.3,1821.2 L621.3,1821.2 L622.4,1821.6 L623.5,1822.1 L624.5,1822.6 L625.6,1823.1 L626.7,1823.7 L627.8,1824.3 L628.0,1824.5 L628.9,1825.0 L630.0,1825.8 L631.0,1826.6 L632.1,1827.5 L633.2,1828.5 L634.3,1829.5 L634.8,1830.0 L635.4,1830.6 L636.5,1831.8 L637.6,1833.1 L638.6,1834.5 L639.7,1836.0 L640.8,1837.6 L641.6,1838.9 L641.9,1839.4 L643.0,1841.3 L644.1,1843.4 L645.2,1845.7 L646.2,1848.1 L647.3,1850.6 L648.4,1853.3 L648.4,1853.4 L649.5,1856.3 L650.6,1859.4 L651.7,1862.8 L652.7,1866.3 L653.8,1870.1 L654.9,1874.2 L655.2,1875.1 L656.0,1878.4 L657.1,1883.0 L658.2,1887.8 L659.3,1893.0 L660.3,1898.4 L661.4,1904.2 L661.9,1907.1 L662.5,1910.4 L663.6,1916.9 L664.7,1923.8 L665.8,1931.1 L666.8,1938.9 L667.9,1947.1 L668.7,1953.4 L669.0,1955.8 L670.1,1965.1 L671.2,1974.8 L672.3,1985.2 L673.4,1996.1 L674.4,2007.6 L675.5,2019.6 L675.5,2019.8 L676.6,2032.7 L677.7,2046.3 L678.8,2060.6 L679.9,2075.6 L681.0,2091.4 L682.0,2108.1 L682.3,2112.0 L683.1,2125.6 L684.2,2143.9 L685.3,2163.0 L686.4,2183.0 L687.5,2203.9 L688.5,2225.6 L689.1,2236.4 L689.6,2248.1 L690.7,2271.4 L691.8,2295.5 L692.9,2320.2 L694.0,2345.5 L695.1,2371.4 L695.8,2390.6 L696.1,2397.7 L697.2,2424.3 L698.3,2451.1 L699.4,2477.9 L700.5,2504.5 L701.6,2530.9 L702.6,2556.3 L702.6,2556.7 L703.7,2581.9 L704.8,2606.1 L705.9,2629.2 L707.0,2650.9 L708.1,2671.0 L709.2,2689.3 L709.4,2693.3 L710.2,2705.6 L711.3,2719.8 L712.4,2731.6 L713.5,2740.9 L714.6,2747.5 L715.7,2751.5 L716.2,2752.4 L716.8,2752.7 L717.8,2751.2 L718.9,2746.9 L720.0,2739.8 L721.1,2730.2 L722.2,2718.0 L723.0,2707.6 L723.3,2703.4 L724.3,2686.7 L725.4,2667.9 L726.5,2647.3 L727.6,2625.1 L728.7,2601.6 L729.7,2577.3 L729.8,2576.8 L730.9,2551.2 L731.9,2524.8 L733.0,2497.9 L734.1,2470.7 L735.2,2443.3 L736.3,2416.0 L736.5,2409.6 L737.4,2388.8 L738.4,2361.9 L739.5,2335.5 L740.6,2309.6 L741.7,2284.3 L742.8,2259.7 L743.3,2248.2 L743.9,2235.9 L745.0,2212.9 L746.0,2190.7 L747.1,2169.3 L748.2,2148.8 L749.3,2129.2 L750.1,2115.4 L750.4,2110.5 L751.5,2092.6 L752.6,2075.6 L753.6,2059.4 L754.7,2044.0 L755.8,2029.5 L756.9,2015.9 L756.9,2015.6 L758.0,2002.6 L759.1,1990.2 L760.1,1978.5 L761.2,1967.4 L762.3,1957.0 L763.4,1947.2 L763.6,1945.0 L764.5,1937.9 L765.6,1929.2 L766.7,1920.9 L767.7,1913.2 L768.8,1905.9 L769.9,1899.0 L770.4,1895.9 L771.0,1892.6 L772.1,1886.5 L773.2,1880.8 L774.2,1875.5 L775.3,1870.5 L776.4,1865.8 L777.2,1862.5 L777.5,1861.3 L778.6,1857.2 L779.7,1853.3 L780.8,1849.6 L781.8,1846.2 L782.9,1843.0 L784.0,1840.0 L784.0,1840.0 L785.1,1837.2 L786.2,1834.5 L787.3,1832.0 L788.4,1829.7 L789.4,1827.6 L790.5,1825.5 L790.8,1825.1 L791.6,1823.6 L792.7,1821.9 L793.8,1820.2 L794.9,1818.7 L795.9,1817.2 L797.0,1815.9 L797.5,1815.3 L798.1,1814.7 L799.2,1813.5 L800.3,1812.4 L801.4,1811.4 L802.5,1810.5 L803.5,1809.6 L804.3,1809.1 L804.6,1808.8 L805.7,1808.1 L806.8,1807.4 L807.9,1806.8 L809.0,1806.2 L810.0,1805.7 L811.1,1805.3 L811.1,1805.2 L812.2,1804.8 L813.3,1804.5 L814.4,1804.2 L815.5,1803.9 L816.6,1803.7 L817.6,1803.6 L817.9,1803.5 L818.7,1803.5 L819.8,1803.4 L820.9,1803.3 L822.0,1803.3 L823.1,1803.3 L824.2,1803.4 L824.7,1803.4 L825.2,1803.4 L831.4,1804.0 L838.2,1804.7 L845.0,1805.0 L851.8,1805.0 L858.6,1804.8 L865.3,1805.0 L872.1,1805.8 L878.9,1806.8 L885.7,1807.8 L892.5,1808.8 L899.3,1809.8 L906.0,1810.8 L912.8,1811.7 L919.6,1812.6 L926.4,1813.4 L933.2,1814.2 L939.9,1814.9 L946.7,1815.6 L953.5,1816.1 L960.3,1816.6 L967.1,1817.1 L973.8,1817.5 L980.6,1817.9 L987.4,1818.3 L994.2,1818.6 L1001.0,1819.0 L1007.7,1819.3 L1014.5,1819.7 L1021.3,1820.0 L1028.1,1820.4 L1034.9,1820.8 L1041.6,1821.2 L1048.4,1821.5 L1055.2,1821.8 L1062.0,1822.2 L1068.8,1822.5 L1075.5,1822.7 L1082.3,1823.0 L1089.1,1823.3 L1095.9,1823.6 L1102.7,1823.8 L1109.4,1824.0 L1116.2,1824.3 L1123.0,1824.5 L1129.8,1824.7 L1136.6,1824.9 L1143.3,1825.1 L1150.1,1825.3 L1156.9,1825.5 L1163.7,1825.7 L1170.5,1825.9 L1177.2,1826.0 L1184.0,1826.2 L1190.8,1826.4 L1197.6,1826.5 L1204.4,1826.7 L1211.1,1826.8 L1217.9,1826.9 L1224.7,1827.1 L1231.5,1827.2 L1238.3,1827.3 L1245.0,1827.5 L1251.8,1827.6 L1258.6,1827.7 L1265.4,1827.8 L1272.2,1827.9 L1279.0,1828.0 L1285.7,1828.1 L1292.5,1828.3 L1299.3,1828.4 L1306.1,1828.5 L1312.9,1828.6 L1319.6,1828.7 L1326.4,1828.7 L1333.2,1828.8 L1340.0,1828.9 L1346.8,1829.0 L1353.5,1829.1 L1360.3,1829.2 L1367.1,1829.3 L1373.9,1829.3 L1380.7,1829.4 L1387.4,1829.5 L1394.2,1829.6 L1401.0,1829.7 L1407.8,1829.7 L1414.6,1829.8 L1421.3,1829.9 L1428.1,1829.9" fill="none" stroke="#000000" stroke-width="9.0" stroke-linejoin="round" stroke-linecap="round" />
<path d="M350.0,1834.0 L356.8,1833.9 L363.6,1833.8 L370.4,1833.6 L377.2,1833.5 L383.9,1833.3 L390.7,1833.2 L397.5,1833.0 L404.3,1832.9 L411.1,1832.9 L417.8,1832.8 L424.6,1832.7 L431.4,1832.7 L438.2,1832.5 L445.0,1832.4 L451.7,1832.3 L458.5,1832.1 L465.3,1831.9 L472.1,1831.7 L478.9,1831.5 L485.6,1831.3 L492.4,1831.0 L499.2,1830.7 L506.0,1830.4 L512.8,1830.0 L519.6,1829.6 L526.3,1829.2 L533.1,1828.8 L539.9,1828.3 L546.7,1827.7 L553.5,1827.2 L560.2,1826.6 L567.0,1825.9 L573.8,1825.2 L580.6,1824.4 L587.4,1823.5 L594.1,1822.4 L600.9,1821.3 L607.7,1820.1 L614.5,1818.9 L621.3,1817.7 L628.0,1816.5 L634.8,1815.5 L641.6,1814.8 L648.4,1814.5 L648.9,1814.4 L650.0,1814.5 L651.1,1814.5 L652.1,1814.5 L653.2,1814.6 L654.3,1814.7 L655.2,1814.7 L655.4,1814.7 L656.5,1814.8 L657.6,1814.9 L658.7,1815.0 L659.7,1815.1 L660.8,1815.2 L661.9,1815.4 L661.9,1815.4 L663.0,1815.5 L664.1,1815.7 L665.2,1816.0 L666.3,1816.2 L667.3,1816.6 L668.4,1816.9 L668.7,1817.0 L669.5,1817.3 L670.6,1817.8 L671.7,1818.3 L672.8,1819.0 L673.8,1819.6 L674.9,1820.4 L675.5,1820.8 L676.0,1821.3 L677.1,1822.2 L678.2,1823.3 L679.3,1824.4 L680.4,1825.7 L681.4,1827.1 L682.3,1828.2 L682.5,1828.6 L683.6,1830.3 L684.7,1832.1 L685.8,1834.1 L686.9,1836.3 L687.9,1838.8 L689.0,1841.6 L689.1,1841.6 L690.1,1844.7 L691.2,1848.1 L692.3,1851.8 L693.4,1855.8 L694.5,1860.1 L695.5,1864.7 L695.8,1865.9 L696.6,1869.6 L697.7,1874.8 L698.8,1880.3 L699.9,1886.2 L701.0,1892.3 L702.1,1898.8 L702.6,1902.3 L703.1,1905.7 L704.2,1912.9 L705.3,1920.4 L706.4,1928.3 L707.5,1936.6 L708.6,1945.3 L709.4,1952.3 L709.6,1954.5 L710.7,1964.0 L711.8,1973.9 L712.9,1984.4 L714.0,1995.2 L715.1,2006.6 L716.2,2018.4 L716.2,2018.6 L717.2,2030.8 L718.3,2043.7 L719.4,2057.1 L720.5,2071.0 L721.6,2085.6 L722.7,2100.9 L723.0,2105.0 L723.7,2116.8 L724.8,2133.4 L725.9,2150.7 L727.0,2168.7 L728.1,2187.4 L729.2,2206.8 L729.7,2217.0 L730.3,2226.8 L731.3,2247.4 L732.4,2268.6 L733.5,2290.3 L734.6,2312.5 L735.7,2335.1 L736.5,2352.5 L736.8,2357.9 L737.9,2380.8 L738.9,2403.8 L740.0,2426.6 L741.1,2449.2 L742.2,2471.3 L743.3,2492.7 L743.3,2493.0 L744.4,2513.3 L745.4,2532.9 L746.5,2551.3 L747.6,2568.2 L748.7,2583.4 L749.8,2596.9 L750.1,2600.1 L750.9,2608.3 L752.0,2617.6 L753.0,2624.5 L754.1,2629.1 L755.2,2631.2 L756.3,2630.7 L756.9,2629.5 L757.4,2627.6 L758.5,2622.0 L759.5,2613.8 L760.6,2603.1 L761.7,2590.1 L762.8,2574.8 L763.6,2561.8 L763.9,2557.6 L765.0,2538.5 L766.1,2517.8 L767.1,2495.7 L768.2,2472.3 L769.3,2448.0 L770.4,2422.9 L770.4,2422.6 L771.5,2397.3 L772.6,2371.3 L773.7,2345.2 L774.7,2319.1 L775.8,2293.2 L776.9,2267.6 L777.2,2261.0 L778.0,2242.5 L779.1,2218.0 L780.2,2194.1 L781.2,2170.9 L782.3,2148.6 L783.4,2127.1 L784.0,2116.4 L784.5,2106.5 L785.6,2086.7 L786.7,2068.0 L787.8,2050.1 L788.8,2033.1 L789.9,2017.1 L790.8,2005.4 L791.0,2001.9 L792.1,1987.5 L793.2,1974.0 L794.3,1961.3 L795.3,1949.4 L796.4,1938.2 L797.5,1927.7 L797.5,1927.5 L798.6,1917.9 L799.7,1908.7 L800.8,1900.1 L801.9,1892.2 L802.9,1884.7 L804.0,1877.8 L804.3,1876.1 L805.1,1871.4 L806.2,1865.4 L807.3,1859.9 L808.4,1854.8 L809.5,1850.1 L810.5,1845.7 L811.1,1843.6 L811.6,1841.7 L812.7,1837.9 L813.8,1834.5 L814.9,1831.3 L816.0,1828.4 L817.0,1825.8 L817.9,1823.9 L818.1,1823.4 L819.2,1821.1 L820.3,1819.1 L821.4,1817.2 L822.5,1815.6 L823.6,1814.0 L824.6,1812.6 L824.7,1812.6 L825.7,1811.4 L826.8,1810.2 L827.9,1809.2 L829.0,1808.3 L830.1,1807.5 L831.1,1806.7 L831.4,1806.6 L832.2,1806.1 L833.3,1805.5 L834.4,1805.0 L835.5,1804.5 L836.6,1804.2 L837.7,1803.8 L838.2,1803.6 L838.7,1803.5 L839.8,1803.2 L840.9,1803.0 L842.0,1802.8 L843.1,1802.6 L844.2,1802.5 L845.0,1802.4 L845.3,1802.3 L846.3,1802.2 L847.4,1802.1 L848.5,1802.0 L849.6,1801.9 L850.7,1801.8 L851.8,1801.7 L851.8,1801.7 L852.8,1801.6 L853.9,1801.6 L855.0,1801.5 L856.1,1801.4 L857.2,1801.4 L858.3,1801.4 L858.6,1801.4 L859.4,1801.3 L860.4,1801.3 L861.5,1801.3 L862.6,1801.3 L863.7,1801.4 L864.8,1801.4 L865.3,1801.4 L865.9,1801.4 L872.1,1801.5 L878.9,1802.1 L885.7,1803.3 L892.5,1804.6 L899.3,1805.9 L906.0,1807.2 L912.8,1808.4 L919.6,1809.5 L926.4,1810.6 L933.2,1811.7 L939.9,1812.6 L946.7,1813.5 L953.5,1814.4 L960.3,1815.1 L967.1,1815.9 L973.8,1816.6 L980.6,1817.2 L987.4,1817.8 L994.2,1818.4 L1001.0,1818.9 L1007.7,1819.4 L1014.5,1819.8 L1021.3,1820.3 L1028.1,1820.7 L1034.9,1821.0 L1041.6,1821.4 L1048.4,1821.7 L1055.2,1822.1 L1062.0,1822.4 L1068.8,1822.7 L1075.5,1822.9 L1082.3,1823.2 L1089.1,1823.5 L1095.9,1823.7 L1102.7,1823.9 L1109.4,1824.2 L1116.2,1824.4 L1123.0,1824.6 L1129.8,1824.8 L1136.6,1825.0 L1143.3,1825.2 L1150.1,1825.4 L1156.9,1825.5 L1163.7,1825.7 L1170.5,1825.9 L1177.2,1826.0 L1184.0,1826.2 L1190.8,1826.3 L1197.6,1826.5 L1204.4,1826.6 L1211.1,1826.8 L1217.9,1826.9 L1224.7,1827.0 L1231.5,1827.1 L1238.3,1827.3 L1245.0,1827.4 L1251.8,1827.5 L1258.6,1827.6 L1265.4,1827.7 L1272.2,1827.8 L1279.0,1827.9 L1285.7,1828.0 L1292.5,1828.1 L1299.3,1828.2 L1306.1,1828.3 L1312.9,1828.4 L1319.6,1828.5 L1326.4,1828.6 L1333.2,1828.6 L1340.0,1828.7 L1346.8,1828.8 L1353.5,1828.9 L1360.3,1829.0 L1367.1,1829.1 L1373.9,1829.2 L1380.7,1829.3 L1387.4,1829.4 L1394.2,1829.4 L1401.0,1829.5 L1407.8,1829.6 L1414.6,1829.7 L1421.3,1829.8 L1428.1,1829.9" fill="none" stroke="#FF0000" stroke-width="9.0" stroke-linejoin="round" stroke-linecap="round" />
<path d="M349.5,1834.1 L352.2,1834.1 L354.9,1834.1 L357.6,1834.1 L360.3,1834.1 L363.1,1834.1 L365.8,1834.1 L368.5,1834.1 L371.2,1834.0 L373.9,1834.0 L376.6,1834.0 L379.3,1834.0 L382.0,1834.0 L384.8,1834.0 L387.5,1834.0 L390.2,1834.0 L392.9,1834.0 L395.6,1834.0 L398.3,1834.0 L401.0,1834.0 L403.7,1834.0 L406.5,1833.9 L409.2,1833.9 L411.9,1833.9 L414.6,1833.9 L417.3,1833.9 L420.0,1833.9 L422.7,1833.9 L425.4,1833.9 L428.2,1833.9 L430.9,1833.9 L433.6,1833.8 L436.3,1833.8 L439.0,1833.8 L441.7,1833.8 L444.4,1833.8 L447.1,1833.8 L449.8,1833.8 L452.6,1833.8 L455.3,1833.8 L458.0,1833.8 L460.7,1833.7 L463.4,1833.7 L466.1,1833.7 L468.8,1833.7 L471.5,1833.7 L474.3,1833.7 L477.0,1833.7 L479.7,1833.7 L482.4,1833.7 L485.1,1833.6 L487.8,1833.6 L490.5,1833.6 L493.2,1833.6 L496.0,1833.6 L498.7,1833.6 L501.4,1833.6 L504.1,1833.6 L506.8,1833.5 L509.5,1833.5 L512.2,1833.5 L514.9,1833.5 L517.7,1833.5 L520.4,1833.5 L523.1,1833.5 L525.8,1833.4 L528.5,1833.4 L531.2,1833.4 L533.9,1833.4 L536.6,1833.4 L539.4,1833.4 L542.1,1833.4 L544.8,1833.3 L547.5,1833.3 L550.2,1833.3 L552.9,1833.3 L555.6,1833.3 L558.3,1833.3 L561.0,1833.3 L563.8,1833.2 L566.5,1833.2 L569.2,1833.2 L571.9,1833.2 L574.6,1833.2 L577.3,1833.2 L580.0,1833.2 L582.7,1833.1 L585.5,1833.1 L588.2,1833.1 L590.9,1833.1 L593.6,1833.1 L596.3,1833.1 L599.0,1833.1 L601.7,1833.0 L604.4,1833.0 L607.2,1833.0 L609.9,1833.0 L612.6,1833.0 L615.3,1833.0 L618.0,1832.9 L620.7,1832.9 L623.4,1832.9 L626.1,1832.9 L628.9,1832.9 L631.6,1832.9 L634.3,1832.9 L637.0,1832.8 L639.7,1832.8 L642.4,1832.8 L645.1,1832.8 L647.8,1832.8 L650.5,1832.8 L653.3,1832.7 L656.0,1832.7 L658.7,1832.7 L661.4,1832.7 L664.1,1832.7 L666.8,1832.7 L669.5,1832.6 L672.2,1832.6 L675.0,1832.6 L677.7,1832.6 L680.4,1832.6 L683.1,1832.6 L685.8,1832.5 L688.5,1832.5 L691.2,1832.5 L693.9,1832.5 L696.7,1832.5 L699.4,1832.5 L702.1,1832.4 L704.8,1832.4 L707.5,1832.4 L710.2,1832.4 L712.9,1832.4 L715.6,1832.4 L718.4,1832.3 L721.1,1832.3 L723.8,1832.3 L726.5,1832.3 L729.2,1832.3 L731.9,1832.2 L734.6,1832.2 L737.3,1832.2 L740.0,1832.2 L742.8,1832.2 L745.5,1832.1 L748.2,1832.1 L750.9,1832.1 L753.6,1832.1 L756.3,1832.1 L759.0,1832.0 L761.7,1832.0 L764.5,1832.0 L767.2,1832.0 L769.9,1831.9 L772.6,1831.9 L775.3,1831.9 L778.0,1831.9 L780.7,1831.9 L783.4,1831.8 L786.2,1831.8 L788.9,1831.8 L791.6,1831.8 L794.3,1831.7 L797.0,1831.7 L799.7,1831.7 L802.4,1831.7 L805.1,1831.6 L807.9,1831.6 L810.6,1831.6 L813.3,1831.5 L816.0,1831.5 L818.7,1831.5 L821.4,1831.5 L824.1,1831.4 L826.8,1831.4 L829.5,1831.4 L832.3,1831.3 L835.0,1831.3 L837.7,1831.3 L840.4,1831.3 L843.1,1831.2 L845.8,1831.2 L848.5,1831.2 L851.2,1831.1 L854.0,1831.1 L856.7,1831.1 L859.4,1831.0 L862.1,1831.0 L864.8,1831.0 L867.5,1830.9 L870.2,1830.9 L872.9,1830.9 L875.7,1830.8 L878.4,1830.8 L881.1,1830.7 L883.8,1830.7 L886.5,1830.7 L889.2,1830.6 L891.9,1830.6 L894.6,1830.6 L897.4,1830.5 L900.1,1830.5 L902.8,1830.4 L905.5,1830.4 L908.2,1830.3 L910.9,1830.3 L913.6,1830.2 L916.3,1830.2 L919.0,1830.1 L921.8,1830.1 L924.5,1830.0 L927.2,1830.0 L929.9,1829.9 L932.6,1829.8 L935.3,1829.8 L938.0,1829.7 L940.7,1829.6 L943.5,1829.6 L946.2,1829.5 L948.9,1829.4 L951.6,1829.3 L954.3,1829.3 L957.0,1829.2 L959.7,1829.1 L962.4,1829.0 L965.2,1828.9 L967.9,1828.9 L970.6,1828.8 L973.3,1828.7 L976.0,1828.6 L978.7,1828.5 L981.4,1828.4 L984.1,1828.3 L986.9,1828.2 L989.6,1828.1 L992.3,1828.0 L995.0,1827.9 L997.7,1827.8 L1000.4,1827.7 L1003.1,1827.6 L1005.8,1827.5 L1008.6,1827.4 L1011.3,1827.2 L1014.0,1827.1 L1016.7,1827.0 L1019.4,1826.9 L1022.1,1826.8 L1024.8,1826.6 L1027.5,1826.5 L1030.2,1826.4 L1033.0,1826.2 L1035.7,1826.1 L1038.4,1825.9 L1041.1,1825.7 L1043.8,1825.5 L1046.5,1825.3 L1049.2,1825.1 L1051.9,1824.9 L1054.7,1824.7 L1057.4,1824.4 L1060.1,1824.2 L1062.8,1823.9 L1065.5,1823.7 L1068.2,1823.4 L1070.9,1823.1 L1073.6,1822.8 L1076.4,1822.6 L1079.1,1822.3 L1081.8,1822.0" fill="none" stroke="#000000" stroke-width="9.0" stroke-linejoin="round" stroke-linecap="round" stroke-dasharray="25.5 38.1" stroke-dashoffset="50.8"/>
<path d="M1081.8,1822.0 L1084.5,1821.7 L1087.2,1821.4 L1089.9,1821.1 L1092.6,1820.8 L1095.3,1820.5 L1098.1,1820.2 L1100.8,1819.9 L1103.5,1819.6 L1106.2,1819.3 L1108.9,1819.0 L1111.6,1818.7 L1114.3,1818.4 L1117.0,1818.1 L1119.7,1817.8 L1122.5,1817.5 L1125.2,1817.2 L1127.9,1816.9 L1130.6,1816.6 L1133.3,1816.3 L1136.0,1815.9 L1138.7,1815.6 L1141.4,1815.3 L1144.2,1815.0 L1146.9,1814.6 L1149.6,1814.3 L1152.3,1814.0 L1155.0,1813.6 L1157.7,1813.3 L1160.4,1813.0 L1163.1,1812.6 L1165.9,1812.3 L1168.6,1812.0 L1171.3,1811.6 L1174.0,1811.3 L1176.7,1811.0 L1179.4,1810.6 L1182.1,1810.3 L1184.8,1809.9 L1187.6,1809.5 L1190.3,1809.1 L1193.0,1808.7 L1195.7,1808.3 L1198.4,1807.8 L1201.1,1807.3 L1203.8,1806.8 L1206.5,1806.3 L1209.2,1805.7 L1212.0,1805.2 L1214.7,1804.5 L1217.4,1803.9 L1220.1,1803.2 L1222.8,1802.6 L1225.5,1801.9 L1228.2,1801.2 L1230.9,1800.4 L1233.7,1799.7 L1236.4,1798.9 L1239.1,1798.2 L1241.8,1797.4 L1244.5,1796.6 L1247.2,1795.8 L1249.9,1795.1 L1252.6,1794.3 L1255.4,1793.5 L1258.1,1792.6 L1260.8,1791.8 L1263.5,1790.9 L1266.2,1789.9 L1268.9,1788.9 L1271.6,1787.9 L1274.3,1786.7 L1277.1,1785.5 L1279.8,1784.1 L1282.5,1782.6 L1285.2,1781.0 L1287.9,1779.3 L1290.6,1777.6 L1293.3,1775.8 L1296.0,1774.1 L1298.8,1772.4 L1301.5,1770.7 L1304.2,1769.0 L1306.9,1767.3 L1309.6,1765.6 L1312.3,1763.9 L1315.0,1762.2 L1317.7,1760.4 L1320.4,1758.5 L1323.2,1756.7 L1325.9,1754.7 L1328.6,1752.6 L1331.3,1750.5 L1334.0,1748.3 L1336.7,1746.1 L1339.4,1743.8 L1342.1,1741.5 L1344.9,1739.2 L1347.6,1737.0 L1350.3,1734.8 L1353.0,1732.7 L1355.7,1730.5 L1358.4,1728.2 L1361.1,1726.0 L1363.8,1723.8 L1366.6,1721.6 L1369.3,1719.4 L1372.0,1717.4 L1374.7,1715.5 L1377.4,1713.7 L1380.1,1712.2 L1382.8,1710.6 L1385.5,1709.1 L1388.3,1707.6 L1391.0,1706.2 L1393.7,1704.8 L1396.4,1703.5 L1399.1,1702.3 L1401.8,1701.2 L1404.5,1700.2 L1407.2,1699.4 L1409.9,1698.7 L1412.7,1698.2 L1415.4,1697.7 L1418.1,1697.2 L1420.8,1696.8 L1423.5,1696.4 L1426.2,1696.0 L1428.9,1695.7 L1431.6,1695.4 L1434.4,1695.1 L1437.1,1695.0 L1439.8,1694.9 L1442.5,1694.8 L1445.2,1694.9 L1447.9,1695.2 L1450.6,1695.7 L1453.3,1696.3 L1456.1,1697.0 L1458.8,1697.9 L1461.5,1698.8 L1464.2,1699.8 L1466.9,1700.8 L1469.6,1701.8 L1472.3,1702.9 L1475.0,1703.9 L1477.8,1704.9 L1480.5,1706.1 L1483.2,1707.4 L1485.9,1708.7 L1488.6,1710.2 L1491.3,1711.7 L1494.0,1713.2 L1496.7,1714.8 L1499.4,1716.5 L1502.2,1718.2 L1504.9,1720.1 L1507.6,1722.1 L1510.3,1724.1 L1513.0,1726.2 L1515.7,1728.2 L1518.4,1730.2 L1521.1,1732.2 L1523.9,1734.0 L1526.6,1735.9 L1529.3,1737.7 L1532.0,1739.6 L1534.7,1741.4 L1537.4,1743.2 L1540.1,1745.0 L1542.8,1746.8 L1545.6,1748.6 L1548.3,1750.3 L1551.0,1752.2 L1553.7,1754.0 L1556.4,1756.0 L1559.1,1757.9 L1561.8,1759.8 L1564.5,1761.7 L1567.3,1763.5 L1570.0,1765.2 L1572.7,1766.8 L1575.4,1768.3 L1578.1,1769.6 L1580.8,1770.8 L1583.5,1771.9 L1586.2,1773.0 L1588.9,1774.0 L1591.7,1774.9 L1594.4,1775.9 L1597.1,1776.8 L1599.8,1777.7 L1602.5,1778.6 L1605.2,1779.6 L1607.9,1780.6 L1610.6,1781.7 L1613.4,1782.8 L1616.1,1783.9 L1618.8,1785.0 L1621.5,1786.2 L1624.2,1787.3 L1626.9,1788.3 L1629.6,1789.3 L1632.3,1790.3 L1635.1,1791.2 L1637.8,1792.0 L1640.5,1792.7 L1643.2,1793.4 L1645.9,1794.1 L1648.6,1794.7 L1651.3,1795.3 L1654.0,1795.9 L1656.8,1796.4 L1659.5,1797.0 L1662.2,1797.6 L1664.9,1798.1 L1667.6,1798.7 L1670.3,1799.3 L1673.0,1799.9 L1675.7,1800.6 L1678.5,1801.2 L1681.2,1801.9 L1683.9,1802.5 L1686.6,1803.2 L1689.3,1803.8 L1692.0,1804.4 L1694.7,1805.0 L1697.4,1805.5 L1700.1,1805.9 L1702.9,1806.4 L1705.6,1806.7 L1708.3,1807.1 L1711.0,1807.5 L1713.7,1807.8 L1716.4,1808.1 L1719.1,1808.4 L1721.8,1808.7 L1724.6,1809.0 L1727.3,1809.3 L1730.0,1809.6 L1732.7,1809.8 L1735.4,1810.1 L1738.1,1810.4 L1740.8,1810.6 L1743.5,1810.8 L1746.3,1811.1 L1749.0,1811.3 L1751.7,1811.5 L1754.4,1811.8 L1757.1,1812.0 L1759.8,1812.2 L1762.5,1812.5 L1765.2,1812.7 L1768.0,1813.0 L1770.7,1813.3 L1773.4,1813.7 L1776.1,1814.0 L1778.8,1814.3 L1781.5,1814.6 L1784.2,1814.9 L1786.9,1815.2 L1789.6,1815.5 L1792.4,1815.7 L1795.1,1815.9 L1797.8,1816.0 L1800.5,1816.1 L1803.2,1816.2 L1805.9,1816.3 L1808.6,1816.4 L1811.3,1816.5 L1814.1,1816.5 L1816.8,1816.6 L1819.5,1816.7 L1822.2,1816.8 L1824.9,1816.9 L1827.6,1817.0 L1830.3,1817.2 L1833.0,1817.4 L1835.8,1817.6 L1838.5,1817.9 L1841.2,1818.1 L1843.9,1818.4 L1846.6,1818.7 L1849.3,1818.9 L1852.0,1819.2 L1854.7,1819.4 L1857.5,1819.6 L1860.2,1819.7 L1862.9,1819.8 L1865.6,1820.0 L1868.3,1820.1 L1871.0,1820.2 L1873.7,1820.4 L1876.4,1820.5 L1879.1,1820.6 L1881.9,1820.7 L1884.6,1820.8 L1887.3,1820.9 L1890.0,1821.0 L1892.7,1821.1 L1895.4,1821.2 L1898.1,1821.3 L1900.8,1821.4 L1903.6,1821.5 L1906.3,1821.6 L1909.0,1821.7 L1911.7,1821.8 L1914.4,1821.9 L1917.1,1822.0 L1919.8,1822.1 L1922.5,1822.1 L1925.3,1822.2 L1928.0,1822.3 L1930.7,1822.4 L1933.4,1822.4 L1936.1,1822.5 L1938.8,1822.6 L1941.5,1822.7 L1944.2,1822.7 L1947.0,1822.8 L1949.7,1822.9 L1952.4,1823.0 L1955.1,1823.0 L1957.8,1823.1 L1960.5,1823.2 L1963.2,1823.2 L1965.9,1823.3 L1968.6,1823.4 L1971.4,1823.4 L1974.1,1823.5 L1976.8,1823.6 L1979.5,1823.7 L1982.2,1823.7 L1984.9,1823.8 L1987.6,1823.9 L1990.3,1823.9 L1993.1,1824.0 L1995.8,1824.1 L1998.5,1824.1 L2001.2,1824.2 L2003.9,1824.3 L2006.6,1824.3 L2009.3,1824.4 L2012.0,1824.5 L2014.8,1824.5 L2017.5,1824.6 L2020.2,1824.7 L2022.9,1824.7 L2025.6,1824.8 L2028.3,1824.9 L2031.0,1824.9 L2033.7,1825.0 L2036.5,1825.0 L2039.2,1825.1 L2041.9,1825.2 L2044.6,1825.2 L2047.3,1825.3 L2050.0,1825.3 L2052.7,1825.4 L2055.4,1825.5 L2058.2,1825.5 L2060.9,1825.6 L2063.6,1825.6 L2066.3,1825.7 L2069.0,1825.7 L2071.7,1825.8 L2074.4,1825.8 L2077.1,1825.9 L2079.8,1825.9 L2082.6,1826.0 L2085.3,1826.0 L2088.0,1826.1 L2090.7,1826.1 L2093.4,1826.2 L2096.1,1826.2 L2098.8,1826.3 L2101.5,1826.3 L2104.3,1826.4 L2107.0,1826.4 L2109.7,1826.5 L2112.4,1826.5 L2115.1,1826.5 L2117.8,1826.6 L2120.5,1826.6 L2123.2,1826.7 L2126.0,1826.7 L2128.7,1826.8 L2131.4,1826.8 L2134.1,1826.9 L2136.8,1826.9 L2139.5,1826.9 L2142.2,1827.0 L2144.9,1827.0 L2147.7,1827.1 L2150.4,1827.1 L2153.1,1827.1 L2155.8,1827.2 L2158.5,1827.2 L2161.2,1827.2 L2163.9,1827.3 L2166.6,1827.3 L2169.3,1827.4 L2172.1,1827.4 L2174.8,1827.4 L2177.5,1827.5 L2180.2,1827.5 L2182.9,1827.5 L2185.6,1827.6 L2188.3,1827.6 L2191.0,1827.7 L2193.8,1827.7 L2196.5,1827.7 L2199.2,1827.8 L2201.9,1827.8 L2204.6,1827.8 L2207.3,1827.8 L2210.0,1827.9 L2212.7,1827.9 L2215.5,1827.9 L2218.2,1828.0 L2220.9,1828.0 L2223.6,1828.0 L2226.3,1828.1 L2229.0,1828.1 L2231.7,1828.1 L2234.4,1828.1 L2237.2,1828.2 L2239.9,1828.2 L2242.6,1828.2 L2245.3,1828.2 L2248.0,1828.3" fill="none" stroke="#000000" stroke-width="9.0" stroke-linejoin="round" stroke-linecap="round" stroke-dasharray="25.5 38.1" stroke-dashoffset="18.9"/>
<path d="M349.5,1834.1 L352.2,1834.1 L354.9,1834.1 L357.6,1834.1 L360.3,1834.1 L363.1,1834.1 L365.8,1834.0 L368.5,1834.0 L371.2,1834.0 L373.9,1834.0 L376.6,1834.0 L379.3,1834.0 L382.0,1834.0 L384.8,1834.0 L387.5,1834.0 L390.2,1834.0 L392.9,1834.0 L395.6,1833.9 L398.3,1833.9 L401.0,1833.9 L403.7,1833.9 L406.5,1833.9 L409.2,1833.9 L411.9,1833.9 L414.6,1833.9 L417.3,1833.9 L420.0,1833.8 L422.7,1833.8 L425.4,1833.8 L428.2,1833.8 L430.9,1833.8 L433.6,1833.8 L436.3,1833.8 L439.0,1833.8 L441.7,1833.8 L444.4,1833.8 L447.1,1833.7 L449.8,1833.7 L452.6,1833.7 L455.3,1833.7 L458.0,1833.7 L460.7,1833.7 L463.4,1833.7 L466.1,1833.7 L468.8,1833.7 L471.5,1833.6 L474.3,1833.6 L477.0,1833.6 L479.7,1833.6 L482.4,1833.6 L485.1,1833.6 L487.8,1833.6 L490.5,1833.6 L493.2,1833.5 L496.0,1833.5 L498.7,1833.5 L501.4,1833.5 L504.1,1833.5 L506.8,1833.5 L509.5,1833.5 L512.2,1833.5 L514.9,1833.4 L517.7,1833.4 L520.4,1833.4 L523.1,1833.4 L525.8,1833.4 L528.5,1833.4 L531.2,1833.4 L533.9,1833.4 L536.6,1833.3 L539.4,1833.3 L542.1,1833.3 L544.8,1833.3 L547.5,1833.3 L550.2,1833.3 L552.9,1833.3 L555.6,1833.3 L558.3,1833.2 L561.0,1833.2 L563.8,1833.2 L566.5,1833.2 L569.2,1833.2 L571.9,1833.2 L574.6,1833.2 L577.3,1833.2 L580.0,1833.1 L582.7,1833.1 L585.5,1833.1 L588.2,1833.1 L590.9,1833.1 L593.6,1833.1 L596.3,1833.1 L599.0,1833.0 L601.7,1833.0 L604.4,1833.0 L607.2,1833.0 L609.9,1833.0 L612.6,1833.0 L615.3,1833.0 L618.0,1832.9 L620.7,1832.9 L623.4,1832.9 L626.1,1832.9 L628.9,1832.9 L631.6,1832.9 L634.3,1832.9 L637.0,1832.9 L639.7,1832.8 L642.4,1832.8 L645.1,1832.8 L647.8,1832.8 L650.5,1832.8 L653.3,1832.8 L656.0,1832.8 L658.7,1832.7 L661.4,1832.7 L664.1,1832.7 L666.8,1832.7 L669.5,1832.7 L672.2,1832.7 L675.0,1832.7 L677.7,1832.7 L680.4,1832.6 L683.1,1832.6 L685.8,1832.6 L688.5,1832.6 L691.2,1832.6 L693.9,1832.6 L696.7,1832.6 L699.4,1832.5 L702.1,1832.5 L704.8,1832.5 L707.5,1832.5 L710.2,1832.5 L712.9,1832.5 L715.6,1832.5 L718.4,1832.4 L721.1,1832.4 L723.8,1832.4 L726.5,1832.4 L729.2,1832.4 L731.9,1832.4 L734.6,1832.4 L737.3,1832.3 L740.0,1832.3 L742.8,1832.3 L745.5,1832.3 L748.2,1832.3 L750.9,1832.3 L753.6,1832.3 L756.3,1832.2 L759.0,1832.2 L761.7,1832.2 L764.5,1832.2 L767.2,1832.2 L769.9,1832.2 L772.6,1832.1 L775.3,1832.1 L778.0,1832.1 L780.7,1832.1 L783.4,1832.1 L786.2,1832.1 L788.9,1832.0 L791.6,1832.0 L794.3,1832.0 L797.0,1832.0 L799.7,1832.0 L802.4,1832.0 L805.1,1831.9 L807.9,1831.9 L810.6,1831.9 L813.3,1831.9 L816.0,1831.9 L818.7,1831.8 L821.4,1831.8 L824.1,1831.8 L826.8,1831.8 L829.5,1831.7 L832.3,1831.7 L835.0,1831.7 L837.7,1831.7 L840.4,1831.7 L843.1,1831.6 L845.8,1831.6 L848.5,1831.6 L851.2,1831.6 L854.0,1831.5 L856.7,1831.5 L859.4,1831.5 L862.1,1831.5 L864.8,1831.4 L867.5,1831.4 L870.2,1831.4 L872.9,1831.4 L875.7,1831.3 L878.4,1831.3 L881.1,1831.3 L883.8,1831.3 L886.5,1831.2 L889.2,1831.2 L891.9,1831.2 L894.6,1831.2 L897.4,1831.1 L900.1,1831.1 L902.8,1831.1 L905.5,1831.0 L908.2,1831.0 L910.9,1831.0 L913.6,1830.9 L916.3,1830.9 L919.0,1830.8 L921.8,1830.8 L924.5,1830.8 L927.2,1830.7 L929.9,1830.7 L932.6,1830.6 L935.3,1830.6 L938.0,1830.5 L940.7,1830.5 L943.5,1830.5 L946.2,1830.4 L948.9,1830.3 L951.6,1830.3 L954.3,1830.2 L957.0,1830.2 L959.7,1830.1 L962.4,1830.1 L965.2,1830.0 L967.9,1830.0 L970.6,1829.9 L973.3,1829.8 L976.0,1829.8 L978.7,1829.7 L981.4,1829.6 L984.1,1829.6 L986.9,1829.5 L989.6,1829.4 L992.3,1829.3 L995.0,1829.3 L997.7,1829.2 L1000.4,1829.1 L1003.1,1829.0 L1005.8,1829.0 L1008.6,1828.9 L1011.3,1828.8 L1014.0,1828.7 L1016.7,1828.6 L1019.4,1828.5 L1022.1,1828.4 L1024.8,1828.4 L1027.5,1828.3 L1030.2,1828.2 L1033.0,1828.0 L1035.7,1827.9 L1038.4,1827.8 L1041.1,1827.6 L1043.8,1827.5 L1046.5,1827.3 L1049.2,1827.2 L1051.9,1827.0 L1054.7,1826.8 L1057.4,1826.6 L1060.1,1826.4 L1062.8,1826.2 L1065.5,1826.0 L1068.2,1825.7 L1070.9,1825.5 L1073.6,1825.3 L1076.4,1825.1 L1079.1,1824.9 L1081.8,1824.6" fill="none" stroke="#FF0000" stroke-width="9.0" stroke-linejoin="round" stroke-linecap="round" stroke-dasharray="25.5 38.1" stroke-dashoffset="50.8"/>
<path d="M1081.8,1824.6 L1084.5,1824.4 L1087.2,1824.2 L1089.9,1823.9 L1092.6,1823.7 L1095.3,1823.5 L1098.1,1823.3 L1100.8,1823.1 L1103.5,1822.8 L1106.2,1822.6 L1108.9,1822.4 L1111.6,1822.2 L1114.3,1822.0 L1117.0,1821.8 L1119.7,1821.7 L1122.5,1821.5 L1125.2,1821.3 L1127.9,1821.1 L1130.6,1820.9 L1133.3,1820.8 L1136.0,1820.6 L1138.7,1820.4 L1141.4,1820.2 L1144.2,1820.0 L1146.9,1819.9 L1149.6,1819.7 L1152.3,1819.5 L1155.0,1819.3 L1157.7,1819.1 L1160.4,1818.9 L1163.1,1818.6 L1165.9,1818.4 L1168.6,1818.2 L1171.3,1817.9 L1174.0,1817.6 L1176.7,1817.4 L1179.4,1817.1 L1182.1,1816.8 L1184.8,1816.4 L1187.6,1816.1 L1190.3,1815.6 L1193.0,1815.2 L1195.7,1814.7 L1198.4,1814.1 L1201.1,1813.6 L1203.8,1813.0 L1206.5,1812.4 L1209.2,1811.8 L1212.0,1811.2 L1214.7,1810.7 L1217.4,1810.1 L1220.1,1809.6 L1222.8,1809.0 L1225.5,1808.5 L1228.2,1807.9 L1230.9,1807.3 L1233.7,1806.7 L1236.4,1806.2 L1239.1,1805.6 L1241.8,1805.0 L1244.5,1804.4 L1247.2,1803.8 L1249.9,1803.2 L1252.6,1802.7 L1255.4,1802.1 L1258.1,1801.6 L1260.8,1801.0 L1263.5,1800.5 L1266.2,1799.8 L1268.9,1799.2 L1271.6,1798.4 L1274.3,1797.6 L1277.1,1796.6 L1279.8,1795.4 L1282.5,1793.9 L1285.2,1792.3 L1287.9,1790.6 L1290.6,1788.8 L1293.3,1787.0 L1296.0,1785.3 L1298.8,1783.6 L1301.5,1782.1 L1304.2,1780.8 L1306.9,1779.6 L1309.6,1778.4 L1312.3,1777.4 L1315.0,1776.3 L1317.7,1775.2 L1320.4,1774.1 L1323.2,1772.9 L1325.9,1771.5 L1328.6,1770.1 L1331.3,1768.4 L1334.0,1766.5 L1336.7,1764.4 L1339.4,1762.2 L1342.1,1760.0 L1344.9,1757.7 L1347.6,1755.4 L1350.3,1753.2 L1353.0,1751.1 L1355.7,1749.0 L1358.4,1746.9 L1361.1,1744.9 L1363.8,1742.9 L1366.6,1740.8 L1369.3,1738.7 L1372.0,1736.6 L1374.7,1734.5 L1377.4,1732.3 L1380.1,1729.9 L1382.8,1727.4 L1385.5,1724.9 L1388.3,1722.4 L1391.0,1720.0 L1393.7,1717.7 L1396.4,1715.5 L1399.1,1713.5 L1401.8,1711.8 L1404.5,1710.4 L1407.2,1709.0 L1409.9,1707.7 L1412.7,1706.4 L1415.4,1705.3 L1418.1,1704.2 L1420.8,1703.1 L1423.5,1702.2 L1426.2,1701.3 L1428.9,1700.4 L1431.6,1699.6 L1434.4,1698.8 L1437.1,1698.0 L1439.8,1697.2 L1442.5,1696.4 L1445.2,1695.7 L1447.9,1695.0 L1450.6,1694.3 L1453.3,1693.7 L1456.1,1693.3 L1458.8,1692.9 L1461.5,1692.7 L1464.2,1692.6 L1466.9,1692.7 L1469.6,1692.9 L1472.3,1693.3 L1475.0,1693.7 L1477.8,1694.3 L1480.5,1695.0 L1483.2,1695.7 L1485.9,1696.5 L1488.6,1697.3 L1491.3,1698.2 L1494.0,1699.1 L1496.7,1700.3 L1499.4,1701.7 L1502.2,1703.3 L1504.9,1705.1 L1507.6,1707.1 L1510.3,1709.0 L1513.0,1711.0 L1515.7,1712.9 L1518.4,1714.8 L1521.1,1716.6 L1523.9,1718.4 L1526.6,1720.2 L1529.3,1722.1 L1532.0,1724.0 L1534.7,1725.9 L1537.4,1727.8 L1540.1,1729.8 L1542.8,1731.8 L1545.6,1733.9 L1548.3,1736.0 L1551.0,1738.3 L1553.7,1740.6 L1556.4,1743.0 L1559.1,1745.3 L1561.8,1747.5 L1564.5,1749.7 L1567.3,1751.7 L1570.0,1753.6 L1572.7,1755.2 L1575.4,1756.8 L1578.1,1758.3 L1580.8,1759.8 L1583.5,1761.2 L1586.2,1762.5 L1588.9,1763.8 L1591.7,1765.1 L1594.4,1766.4 L1597.1,1767.7 L1599.8,1769.1 L1602.5,1770.4 L1605.2,1771.7 L1607.9,1773.1 L1610.6,1774.4 L1613.4,1775.7 L1616.1,1777.0 L1618.8,1778.2 L1621.5,1779.5 L1624.2,1780.6 L1626.9,1781.8 L1629.6,1782.8 L1632.3,1783.9 L1635.1,1785.0 L1637.8,1786.0 L1640.5,1787.0 L1643.2,1788.0 L1645.9,1789.0 L1648.6,1789.9 L1651.3,1790.7 L1654.0,1791.5 L1656.8,1792.3 L1659.5,1793.0 L1662.2,1793.6 L1664.9,1794.2 L1667.6,1794.7 L1670.3,1795.2 L1673.0,1795.7 L1675.7,1796.1 L1678.5,1796.6 L1681.2,1797.0 L1683.9,1797.5 L1686.6,1798.0 L1689.3,1798.5 L1692.0,1799.1 L1694.7,1799.7 L1697.4,1800.3 L1700.1,1801.0 L1702.9,1801.6 L1705.6,1802.3 L1708.3,1802.9 L1711.0,1803.6 L1713.7,1804.2 L1716.4,1804.7 L1719.1,1805.3 L1721.8,1805.8 L1724.6,1806.2 L1727.3,1806.6 L1730.0,1807.1 L1732.7,1807.5 L1735.4,1807.8 L1738.1,1808.2 L1740.8,1808.6 L1743.5,1808.9 L1746.3,1809.3 L1749.0,1809.6 L1751.7,1809.9 L1754.4,1810.3 L1757.1,1810.6 L1759.8,1811.0 L1762.5,1811.3 L1765.2,1811.7 L1768.0,1812.0 L1770.7,1812.3 L1773.4,1812.6 L1776.1,1812.9 L1778.8,1813.2 L1781.5,1813.5 L1784.2,1813.7 L1786.9,1814.0 L1789.6,1814.2 L1792.4,1814.4 L1795.1,1814.6 L1797.8,1814.9 L1800.5,1815.1 L1803.2,1815.3 L1805.9,1815.5 L1808.6,1815.7 L1811.3,1815.9 L1814.1,1816.1 L1816.8,1816.3 L1819.5,1816.6 L1822.2,1816.8 L1824.9,1817.1 L1827.6,1817.3 L1830.3,1817.6 L1833.0,1817.8 L1835.8,1818.0 L1838.5,1818.3 L1841.2,1818.4 L1843.9,1818.6 L1846.6,1818.7 L1849.3,1818.9 L1852.0,1819.0 L1854.7,1819.1 L1857.5,1819.2 L1860.2,1819.2 L1862.9,1819.3 L1865.6,1819.4 L1868.3,1819.5 L1871.0,1819.6 L1873.7,1819.7 L1876.4,1819.8 L1879.1,1819.9 L1881.9,1820.1 L1884.6,1820.2 L1887.3,1820.4 L1890.0,1820.5 L1892.7,1820.6 L1895.4,1820.8 L1898.1,1820.9 L1900.8,1821.0 L1903.6,1821.1 L1906.3,1821.2 L1909.0,1821.3 L1911.7,1821.4 L1914.4,1821.4 L1917.1,1821.5 L1919.8,1821.6 L1922.5,1821.7 L1925.3,1821.8 L1928.0,1821.8 L1930.7,1821.9 L1933.4,1822.0 L1936.1,1822.0 L1938.8,1822.1 L1941.5,1822.2 L1944.2,1822.2 L1947.0,1822.3 L1949.7,1822.4 L1952.4,1822.4 L1955.1,1822.5 L1957.8,1822.6 L1960.5,1822.6 L1963.2,1822.7 L1965.9,1822.7 L1968.6,1822.8 L1971.4,1822.9 L1974.1,1822.9 L1976.8,1823.0 L1979.5,1823.1 L1982.2,1823.1 L1984.9,1823.2 L1987.6,1823.3 L1990.3,1823.3 L1993.1,1823.4 L1995.8,1823.5 L1998.5,1823.5 L2001.2,1823.6 L2003.9,1823.7 L2006.6,1823.7 L2009.3,1823.8 L2012.0,1823.9 L2014.8,1823.9 L2017.5,1824.0 L2020.2,1824.0 L2022.9,1824.1 L2025.6,1824.2 L2028.3,1824.2 L2031.0,1824.3 L2033.7,1824.4 L2036.5,1824.4 L2039.2,1824.5 L2041.9,1824.5 L2044.6,1824.6 L2047.3,1824.7 L2050.0,1824.7 L2052.7,1824.8 L2055.4,1824.8 L2058.2,1824.9 L2060.9,1824.9 L2063.6,1825.0 L2066.3,1825.1 L2069.0,1825.1 L2071.7,1825.2 L2074.4,1825.2 L2077.1,1825.3 L2079.8,1825.3 L2082.6,1825.4 L2085.3,1825.4 L2088.0,1825.5 L2090.7,1825.5 L2093.4,1825.6 L2096.1,1825.6 L2098.8,1825.7 L2101.5,1825.7 L2104.3,1825.8 L2107.0,1825.8 L2109.7,1825.9 L2112.4,1825.9 L2115.1,1826.0 L2117.8,1826.0 L2120.5,1826.1 L2123.2,1826.1 L2126.0,1826.1 L2128.7,1826.2 L2131.4,1826.2 L2134.1,1826.3 L2136.8,1826.3 L2139.5,1826.4 L2142.2,1826.4 L2144.9,1826.4 L2147.7,1826.5 L2150.4,1826.5 L2153.1,1826.5 L2155.8,1826.6 L2158.5,1826.6 L2161.2,1826.7 L2163.9,1826.7 L2166.6,1826.7 L2169.3,1826.8 L2172.1,1826.8 L2174.8,1826.9 L2177.5,1826.9 L2180.2,1826.9 L2182.9,1827.0 L2185.6,1827.0 L2188.3,1827.0 L2191.0,1827.1 L2193.8,1827.1 L2196.5,1827.1 L2199.2,1827.2 L2201.9,1827.2 L2204.6,1827.2 L2207.3,1827.3 L2210.0,1827.3 L2212.7,1827.3 L2215.5,1827.4 L2218.2,1827.4 L2220.9,1827.4 L2223.6,1827.4 L2226.3,1827.5 L2229.0,1827.5 L2231.7,1827.5 L2234.4,1827.6 L2237.2,1827.6 L2239.9,1827.6 L2242.6,1827.6 L2245.3,1827.7 L2248.0,1827.7" fill="none" stroke="#FF0000" stroke-width="9.0" stroke-linejoin="round" stroke-linecap="round" stroke-dasharray="25.5 38.1" stroke-dashoffset="29.0"/>
<path d="M349.5,1834.1 L352.2,1834.1 L354.9,1834.1 L357.6,1834.0 L360.3,1834.0 L363.1,1834.0 L365.8,1834.0 L368.5,1834.0 L371.2,1834.0 L373.9,1833.9 L376.6,1833.9 L379.3,1833.9 L382.0,1833.9 L384.8,1833.9 L387.5,1833.9 L390.2,1833.8 L392.9,1833.8 L395.6,1833.8 L398.3,1833.8 L401.0,1833.8 L403.7,1833.7 L406.5,1833.7 L409.2,1833.7 L411.9,1833.7 L414.6,1833.7 L417.3,1833.7 L420.0,1833.6 L422.7,1833.6 L425.4,1833.6 L428.2,1833.6 L430.9,1833.6 L433.6,1833.6 L436.3,1833.5 L439.0,1833.5 L441.7,1833.5 L444.4,1833.5 L447.1,1833.5 L449.8,1833.5 L452.6,1833.4 L455.3,1833.4 L458.0,1833.4 L460.7,1833.4 L463.4,1833.4 L466.1,1833.3 L468.8,1833.3 L471.5,1833.3 L474.3,1833.3 L477.0,1833.3 L479.7,1833.3 L482.4,1833.2 L485.1,1833.2 L487.8,1833.2 L490.5,1833.2 L493.2,1833.2 L496.0,1833.2 L498.7,1833.1 L501.4,1833.1 L504.1,1833.1 L506.8,1833.1 L509.5,1833.1 L512.2,1833.0 L514.9,1833.0 L517.7,1833.0 L520.4,1833.0 L523.1,1833.0 L525.8,1833.0 L528.5,1832.9 L531.2,1832.9 L533.9,1832.9 L536.6,1832.9 L539.4,1832.9 L542.1,1832.9 L544.8,1832.8 L547.5,1832.8 L550.2,1832.8 L552.9,1832.8 L555.6,1832.8 L558.3,1832.8 L561.0,1832.7 L563.8,1832.7 L566.5,1832.7 L569.2,1832.7 L571.9,1832.7 L574.6,1832.6 L577.3,1832.6 L580.0,1832.6 L582.7,1832.6 L585.5,1832.6 L588.2,1832.6 L590.9,1832.5 L593.6,1832.5 L596.3,1832.5 L599.0,1832.5 L601.7,1832.5 L604.4,1832.5 L607.2,1832.4 L609.9,1832.4 L612.6,1832.4 L615.3,1832.4 L618.0,1832.4 L620.7,1832.3 L623.4,1832.3 L626.1,1832.3 L628.9,1832.3 L631.6,1832.3 L634.3,1832.3 L637.0,1832.2 L639.7,1832.2 L642.4,1832.2 L645.1,1832.2 L647.8,1832.2 L650.5,1832.2 L653.3,1832.1 L656.0,1832.1 L658.7,1832.1 L661.4,1832.1 L664.1,1832.1 L666.8,1832.1 L669.5,1832.1 L672.2,1832.0 L675.0,1832.0 L677.7,1832.0 L680.4,1832.0 L683.1,1832.0 L685.8,1832.0 L688.5,1832.0 L691.2,1831.9 L693.9,1831.9 L696.7,1831.9 L699.4,1831.9 L702.1,1831.9 L704.8,1831.9 L707.5,1831.9 L710.2,1831.8 L712.9,1831.8 L715.6,1831.8 L718.4,1831.8 L721.1,1831.8 L723.8,1831.8 L726.5,1831.8 L729.2,1831.7 L731.9,1831.7 L734.6,1831.7 L737.3,1831.7 L740.0,1831.7 L742.8,1831.7 L745.5,1831.6 L748.2,1831.6 L750.9,1831.6 L753.6,1831.6 L756.3,1831.6 L759.0,1831.6 L761.7,1831.6 L764.5,1831.5 L767.2,1831.5 L769.9,1831.5 L772.6,1831.5 L775.3,1831.5 L778.0,1831.5 L780.7,1831.4 L783.4,1831.4 L786.2,1831.4 L788.9,1831.4 L791.6,1831.4 L794.3,1831.4 L797.0,1831.3 L799.7,1831.3 L802.4,1831.3 L805.1,1831.3 L807.9,1831.3 L810.6,1831.3 L813.3,1831.2 L816.0,1831.2 L818.7,1831.2 L821.4,1831.2 L824.1,1831.2 L826.8,1831.1 L829.5,1831.1 L832.3,1831.1 L835.0,1831.1 L837.7,1831.1 L840.4,1831.0 L843.1,1831.0 L845.8,1831.0 L848.5,1831.0 L851.2,1831.0 L854.0,1830.9 L856.7,1830.9 L859.4,1830.9 L862.1,1830.9 L864.8,1830.8 L867.5,1830.8 L870.2,1830.8 L872.9,1830.8 L875.7,1830.7 L878.4,1830.7 L881.1,1830.7 L883.8,1830.7 L886.5,1830.6 L889.2,1830.6 L891.9,1830.6 L894.6,1830.6 L897.4,1830.5 L900.1,1830.5 L902.8,1830.5 L905.5,1830.5 L908.2,1830.4 L910.9,1830.4 L913.6,1830.4 L916.3,1830.3 L919.0,1830.3 L921.8,1830.3 L924.5,1830.2 L927.2,1830.2 L929.9,1830.2 L932.6,1830.1 L935.3,1830.1 L938.0,1830.0 L940.7,1830.0 L943.5,1830.0 L946.2,1829.9 L948.9,1829.9 L951.6,1829.8 L954.3,1829.8 L957.0,1829.7 L959.7,1829.7 L962.4,1829.7 L965.2,1829.6 L967.9,1829.6 L970.6,1829.5 L973.3,1829.5 L976.0,1829.4 L978.7,1829.4 L981.4,1829.3 L984.1,1829.3 L986.9,1829.2 L989.6,1829.1 L992.3,1829.1 L995.0,1829.0 L997.7,1829.0 L1000.4,1828.9 L1003.1,1828.8 L1005.8,1828.8 L1008.6,1828.7 L1011.3,1828.7 L1014.0,1828.6 L1016.7,1828.5 L1019.4,1828.5 L1022.1,1828.4 L1024.8,1828.3 L1027.5,1828.3 L1030.2,1828.2 L1033.0,1828.1 L1035.7,1828.0 L1038.4,1827.9 L1041.1,1827.8 L1043.8,1827.7 L1046.5,1827.6 L1049.2,1827.5 L1051.9,1827.4 L1054.7,1827.3 L1057.4,1827.2 L1060.1,1827.0 L1062.8,1826.9 L1065.5,1826.8 L1068.2,1826.6 L1070.9,1826.5 L1073.6,1826.4 L1076.4,1826.2 L1079.1,1826.1 L1081.8,1825.9" fill="none" stroke="#0000FF" stroke-width="9.0" stroke-linejoin="round" stroke-linecap="round" stroke-dasharray="25.5 38.1" stroke-dashoffset="50.8"/>
<path d="M1081.8,1825.9 L1084.5,1825.7 L1087.2,1825.6 L1089.9,1825.4 L1092.6,1825.3 L1095.3,1825.1 L1098.1,1824.9 L1100.8,1824.8 L1103.5,1824.6 L1106.2,1824.4 L1108.9,1824.2 L1111.6,1824.1 L1114.3,1823.9 L1117.0,1823.7 L1119.7,1823.5 L1122.5,1823.3 L1125.2,1823.2 L1127.9,1823.0 L1130.6,1822.8 L1133.3,1822.6 L1136.0,1822.4 L1138.7,1822.3 L1141.4,1822.1 L1144.2,1821.9 L1146.9,1821.7 L1149.6,1821.6 L1152.3,1821.4 L1155.0,1821.2 L1157.7,1821.0 L1160.4,1820.9 L1163.1,1820.7 L1165.9,1820.5 L1168.6,1820.4 L1171.3,1820.2 L1174.0,1820.1 L1176.7,1819.9 L1179.4,1819.7 L1182.1,1819.6 L1184.8,1819.4 L1187.6,1819.3 L1190.3,1819.2 L1193.0,1819.0 L1195.7,1818.9 L1198.4,1818.8 L1201.1,1818.6 L1203.8,1818.5 L1206.5,1818.3 L1209.2,1818.2 L1212.0,1818.0 L1214.7,1817.9 L1217.4,1817.7 L1220.1,1817.5 L1222.8,1817.3 L1225.5,1817.1 L1228.2,1816.8 L1230.9,1816.6 L1233.7,1816.4 L1236.4,1816.1 L1239.1,1815.8 L1241.8,1815.5 L1244.5,1815.2 L1247.2,1814.9 L1249.9,1814.5 L1252.6,1814.1 L1255.4,1813.7 L1258.1,1813.2 L1260.8,1812.6 L1263.5,1812.1 L1266.2,1811.5 L1268.9,1810.9 L1271.6,1810.4 L1274.3,1809.8 L1277.1,1809.3 L1279.8,1808.8 L1282.5,1808.3 L1285.2,1807.8 L1287.9,1807.3 L1290.6,1806.8 L1293.3,1806.3 L1296.0,1805.8 L1298.8,1805.3 L1301.5,1804.7 L1304.2,1804.1 L1306.9,1803.5 L1309.6,1802.9 L1312.3,1802.2 L1315.0,1801.4 L1317.7,1800.6 L1320.4,1799.8 L1323.2,1798.9 L1325.9,1798.0 L1328.6,1797.0 L1331.3,1796.0 L1334.0,1795.0 L1336.7,1794.0 L1339.4,1792.9 L1342.1,1791.7 L1344.9,1790.5 L1347.6,1789.2 L1350.3,1787.9 L1353.0,1786.5 L1355.7,1785.0 L1358.4,1783.6 L1361.1,1782.2 L1363.8,1780.7 L1366.6,1779.3 L1369.3,1778.0 L1372.0,1776.6 L1374.7,1775.3 L1377.4,1774.0 L1380.1,1772.7 L1382.8,1771.3 L1385.5,1769.9 L1388.3,1768.5 L1391.0,1766.9 L1393.7,1765.3 L1396.4,1763.5 L1399.1,1761.5 L1401.8,1759.4 L1404.5,1757.2 L1407.2,1754.9 L1409.9,1752.5 L1412.7,1750.2 L1415.4,1747.9 L1418.1,1745.7 L1420.8,1743.5 L1423.5,1741.2 L1426.2,1739.0 L1428.9,1736.8 L1431.6,1734.6 L1434.4,1732.4 L1437.1,1730.2 L1439.8,1727.9 L1442.5,1725.7 L1445.2,1723.4 L1447.9,1721.0 L1450.6,1718.5 L1453.3,1716.1 L1456.1,1713.6 L1458.8,1711.3 L1461.5,1709.1 L1464.2,1707.1 L1466.9,1705.4 L1469.6,1703.8 L1472.3,1702.3 L1475.0,1700.8 L1477.8,1699.3 L1480.5,1697.9 L1483.2,1696.6 L1485.9,1695.4 L1488.6,1694.4 L1491.3,1693.5 L1494.0,1692.7 L1496.7,1692.2 L1499.4,1691.8 L1502.2,1691.4 L1504.9,1691.1 L1507.6,1690.8 L1510.3,1690.6 L1513.0,1690.5 L1515.7,1690.4 L1518.4,1690.5 L1521.1,1690.8 L1523.9,1691.1 L1526.6,1691.6 L1529.3,1692.0 L1532.0,1692.6 L1534.7,1693.4 L1537.4,1694.4 L1540.1,1695.5 L1542.8,1696.7 L1545.6,1697.9 L1548.3,1699.2 L1551.0,1700.5 L1553.7,1702.0 L1556.4,1703.6 L1559.1,1705.3 L1561.8,1707.1 L1564.5,1708.9 L1567.3,1710.8 L1570.0,1712.8 L1572.7,1714.7 L1575.4,1716.7 L1578.1,1718.7 L1580.8,1720.7 L1583.5,1722.7 L1586.2,1724.7 L1588.9,1726.7 L1591.7,1728.7 L1594.4,1730.8 L1597.1,1732.9 L1599.8,1735.0 L1602.5,1737.2 L1605.2,1739.2 L1607.9,1741.3 L1610.6,1743.4 L1613.4,1745.6 L1616.1,1747.7 L1618.8,1749.9 L1621.5,1752.0 L1624.2,1754.1 L1626.9,1756.1 L1629.6,1758.0 L1632.3,1759.7 L1635.1,1761.3 L1637.8,1762.9 L1640.5,1764.3 L1643.2,1765.7 L1645.9,1767.0 L1648.6,1768.3 L1651.3,1769.5 L1654.0,1770.7 L1656.8,1771.9 L1659.5,1773.1 L1662.2,1774.3 L1664.9,1775.6 L1667.6,1776.8 L1670.3,1778.1 L1673.0,1779.3 L1675.7,1780.5 L1678.5,1781.7 L1681.2,1782.8 L1683.9,1783.9 L1686.6,1784.9 L1689.3,1785.8 L1692.0,1786.7 L1694.7,1787.5 L1697.4,1788.2 L1700.1,1788.9 L1702.9,1789.6 L1705.6,1790.3 L1708.3,1790.9 L1711.0,1791.5 L1713.7,1792.2 L1716.4,1792.8 L1719.1,1793.5 L1721.8,1794.2 L1724.6,1794.9 L1727.3,1795.6 L1730.0,1796.4 L1732.7,1797.1 L1735.4,1797.9 L1738.1,1798.6 L1740.8,1799.4 L1743.5,1800.1 L1746.3,1800.8 L1749.0,1801.4 L1751.7,1802.1 L1754.4,1802.7 L1757.1,1803.3 L1759.8,1803.9 L1762.5,1804.4 L1765.2,1805.0 L1768.0,1805.5 L1770.7,1806.0 L1773.4,1806.5 L1776.1,1807.0 L1778.8,1807.5 L1781.5,1807.9 L1784.2,1808.3 L1786.9,1808.6 L1789.6,1808.9 L1792.4,1809.2 L1795.1,1809.5 L1797.8,1809.7 L1800.5,1810.0 L1803.2,1810.2 L1805.9,1810.4 L1808.6,1810.7 L1811.3,1811.0 L1814.1,1811.3 L1816.8,1811.6 L1819.5,1811.9 L1822.2,1812.3 L1824.9,1812.7 L1827.6,1813.2 L1830.3,1813.7 L1833.0,1814.1 L1835.8,1814.5 L1838.5,1814.9 L1841.2,1815.3 L1843.9,1815.6 L1846.6,1815.8 L1849.3,1816.0 L1852.0,1816.1 L1854.7,1816.2 L1857.5,1816.3 L1860.2,1816.4 L1862.9,1816.4 L1865.6,1816.5 L1868.3,1816.6 L1871.0,1816.7 L1873.7,1816.7 L1876.4,1816.9 L1879.1,1817.0 L1881.9,1817.2 L1884.6,1817.4 L1887.3,1817.7 L1890.0,1818.1 L1892.7,1818.4 L1895.4,1818.7 L1898.1,1818.9 L1900.8,1819.1 L1903.6,1819.3 L1906.3,1819.5 L1909.0,1819.6 L1911.7,1819.8 L1914.4,1820.0 L1917.1,1820.1 L1919.8,1820.2 L1922.5,1820.4 L1925.3,1820.5 L1928.0,1820.6 L1930.7,1820.8 L1933.4,1820.9 L1936.1,1821.0 L1938.8,1821.1 L1941.5,1821.2 L1944.2,1821.3 L1947.0,1821.4 L1949.7,1821.5 L1952.4,1821.6 L1955.1,1821.7 L1957.8,1821.8 L1960.5,1821.9 L1963.2,1822.0 L1965.9,1822.1 L1968.6,1822.2 L1971.4,1822.3 L1974.1,1822.3 L1976.8,1822.4 L1979.5,1822.5 L1982.2,1822.6 L1984.9,1822.7 L1987.6,1822.7 L1990.3,1822.8 L1993.1,1822.9 L1995.8,1823.0 L1998.5,1823.0 L2001.2,1823.1 L2003.9,1823.2 L2006.6,1823.2 L2009.3,1823.3 L2012.0,1823.4 L2014.8,1823.4 L2017.5,1823.5 L2020.2,1823.5 L2022.9,1823.6 L2025.6,1823.7 L2028.3,1823.7 L2031.0,1823.8 L2033.7,1823.8 L2036.5,1823.9 L2039.2,1824.0 L2041.9,1824.0 L2044.6,1824.1 L2047.3,1824.1 L2050.0,1824.2 L2052.7,1824.2 L2055.4,1824.3 L2058.2,1824.3 L2060.9,1824.4 L2063.6,1824.4 L2066.3,1824.5 L2069.0,1824.5 L2071.7,1824.6 L2074.4,1824.6 L2077.1,1824.7 L2079.8,1824.7 L2082.6,1824.8 L2085.3,1824.8 L2088.0,1824.9 L2090.7,1824.9 L2093.4,1825.0 L2096.1,1825.0 L2098.8,1825.1 L2101.5,1825.1 L2104.3,1825.2 L2107.0,1825.2 L2109.7,1825.3 L2112.4,1825.3 L2115.1,1825.4 L2117.8,1825.4 L2120.5,1825.5 L2123.2,1825.5 L2126.0,1825.6 L2128.7,1825.6 L2131.4,1825.7 L2134.1,1825.7 L2136.8,1825.8 L2139.5,1825.8 L2142.2,1825.9 L2144.9,1825.9 L2147.7,1826.0 L2150.4,1826.0 L2153.1,1826.1 L2155.8,1826.1 L2158.5,1826.2 L2161.2,1826.2 L2163.9,1826.3 L2166.6,1826.3 L2169.3,1826.4 L2172.1,1826.4 L2174.8,1826.5 L2177.5,1826.5 L2180.2,1826.6 L2182.9,1826.6 L2185.6,1826.7 L2188.3,1826.7 L2191.0,1826.8 L2193.8,1826.8 L2196.5,1826.9 L2199.2,1826.9 L2201.9,1826.9 L2204.6,1827.0 L2207.3,1827.0 L2210.0,1827.1 L2212.7,1827.1 L2215.5,1827.2 L2218.2,1827.2 L2220.9,1827.3 L2223.6,1827.3 L2226.3,1827.3 L2229.0,1827.4 L2231.7,1827.4 L2234.4,1827.5 L2237.2,1827.5 L2239.9,1827.6 L2242.6,1827.6 L2245.3,1827.6 L2248.0,1827.7" fill="none" stroke="#0000FF" stroke-width="9.0" stroke-linejoin="round" stroke-linecap="round" stroke-dasharray="25.5 38.1" stroke-dashoffset="23.0"/>
<path d="M349.5,1834.1 L352.2,1834.1 L354.9,1834.1 L357.6,1834.1 L360.3,1834.1 L363.1,1834.1 L365.8,1834.1 L368.5,1834.1 L371.2,1834.0 L373.9,1834.0 L376.6,1834.0 L379.3,1834.0 L382.0,1834.0 L384.8,1833.9 L387.5,1833.9 L390.2,1833.9 L392.9,1833.9 L395.6,1833.8 L398.3,1833.8 L401.0,1833.8 L403.7,1833.7 L406.5,1833.7 L409.2,1833.7 L411.9,1833.6 L414.6,1833.6 L417.3,1833.6 L420.0,1833.5 L422.7,1833.5 L425.4,1833.4 L428.2,1833.4 L430.9,1833.4 L433.6,1833.3 L436.3,1833.3 L439.0,1833.2 L441.7,1833.2 L444.4,1833.1 L447.1,1833.1 L449.8,1833.0 L452.6,1833.0 L455.3,1832.9 L458.0,1832.9 L460.7,1832.8 L463.4,1832.8 L466.1,1832.7 L468.8,1832.7 L471.5,1832.6 L474.3,1832.6 L477.0,1832.5 L479.7,1832.5 L482.4,1832.4 L485.1,1832.3 L487.8,1832.3 L490.5,1832.2 L493.2,1832.2 L496.0,1832.1 L498.7,1832.0 L501.4,1832.0 L504.1,1831.9 L506.8,1831.8 L509.5,1831.7 L512.2,1831.6 L514.9,1831.5 L517.7,1831.4 L520.4,1831.3 L523.1,1831.3 L525.8,1831.2 L528.5,1831.0 L531.2,1830.9 L533.9,1830.8 L536.6,1830.7 L539.4,1830.6 L542.1,1830.5 L544.8,1830.4 L547.5,1830.3 L550.2,1830.2 L552.9,1830.0 L555.6,1829.9 L558.3,1829.8 L561.0,1829.7 L563.8,1829.6 L566.5,1829.4 L569.2,1829.3 L571.9,1829.2 L574.6,1829.1 L577.3,1828.9 L580.0,1828.8 L582.7,1828.7 L585.5,1828.6 L588.2,1828.5 L590.9,1828.3 L593.6,1828.2 L596.3,1828.1 L599.0,1827.9 L601.7,1827.8 L604.4,1827.6 L607.2,1827.5 L609.9,1827.3 L612.6,1827.1 L615.3,1827.0 L618.0,1826.8 L620.7,1826.6 L623.4,1826.4 L626.1,1826.2 L628.9,1826.0 L631.6,1825.7 L634.3,1825.5 L637.0,1825.2 L639.7,1825.0 L642.4,1824.7 L645.1,1824.4 L647.8,1824.0 L650.5,1823.5 L653.3,1822.9 L656.0,1822.3 L658.7,1821.7 L661.4,1821.0 L664.1,1820.3 L666.8,1819.6 L669.5,1818.8 L672.2,1818.1 L675.0,1817.3 L677.7,1816.5 L680.4,1815.8 L683.1,1815.0 L685.8,1814.3 L688.5,1813.6 L691.2,1812.8 L693.9,1812.0 L696.7,1811.2 L699.4,1810.4 L702.1,1809.6 L704.8,1808.7 L707.5,1807.9 L710.2,1807.0 L712.9,1806.2 L715.6,1805.3 L718.4,1804.5 L721.1,1803.6 L723.8,1802.7 L726.5,1801.8 L729.2,1801.0 L731.9,1800.1 L734.6,1799.2 L737.3,1798.2 L740.0,1797.3 L742.8,1796.4 L745.5,1795.5 L748.2,1794.5 L750.9,1793.6 L753.6,1792.6 L756.3,1791.7 L759.0,1790.8 L761.7,1789.9 L764.5,1789.0 L767.2,1788.1 L769.9,1787.1 L772.6,1786.1 L775.3,1785.0 L778.0,1783.9 L780.7,1782.7 L783.4,1781.5 L786.2,1780.4 L788.9,1779.3 L791.6,1778.2 L794.3,1777.3 L797.0,1776.4 L799.7,1775.7 L802.4,1775.1 L805.1,1774.7 L807.9,1774.5 L810.6,1774.4 L813.3,1774.6 L816.0,1774.8 L818.7,1775.2 L821.4,1775.6 L824.1,1776.2 L826.8,1776.8 L829.5,1777.4 L832.3,1778.1 L835.0,1778.8 L837.7,1779.6 L840.4,1780.3 L843.1,1780.9 L845.8,1781.6 L848.5,1782.1 L851.2,1782.7 L854.0,1783.3 L856.7,1783.9 L859.4,1784.6 L862.1,1785.3 L864.8,1786.0 L867.5,1786.7 L870.2,1787.3 L872.9,1787.9 L875.7,1788.5 L878.4,1789.0 L881.1,1789.5 L883.8,1789.8 L886.5,1790.1 L889.2,1790.3 L891.9,1790.3 L894.6,1789.8 L897.4,1788.7 L900.1,1787.0 L902.8,1785.0 L905.5,1782.7 L908.2,1780.2 L910.9,1777.7 L913.6,1775.2 L916.3,1772.8 L919.0,1770.8 L921.8,1769.1 L924.5,1767.8 L927.2,1766.5 L929.9,1765.2 L932.6,1763.9 L935.3,1762.6 L938.0,1761.4 L940.7,1760.2 L943.5,1759.1 L946.2,1758.0 L948.9,1757.1 L951.6,1756.3 L954.3,1755.6 L957.0,1755.0 L959.7,1754.6 L962.4,1754.4 L965.2,1754.3 L967.9,1754.5 L970.6,1754.8 L973.3,1755.2 L976.0,1755.7 L978.7,1756.4 L981.4,1757.1 L984.1,1757.9 L986.9,1758.8 L989.6,1759.7 L992.3,1760.6 L995.0,1761.5 L997.7,1762.4 L1000.4,1763.2 L1003.1,1764.0 L1005.8,1764.9 L1008.6,1765.8 L1011.3,1766.7 L1014.0,1767.6 L1016.7,1768.6 L1019.4,1769.7 L1022.1,1770.7 L1024.8,1771.7 L1027.5,1772.8 L1030.2,1773.8 L1033.0,1774.8 L1035.7,1775.8 L1038.4,1776.8 L1041.1,1777.7 L1043.8,1778.6 L1046.5,1779.4 L1049.2,1780.3 L1051.9,1781.1 L1054.7,1782.0 L1057.4,1782.8 L1060.1,1783.6 L1062.8,1784.4 L1065.5,1785.2 L1068.2,1786.0 L1070.9,1786.8 L1073.6,1787.5 L1076.4,1788.3 L1079.1,1789.0 L1081.8,1789.7 L1084.5,1790.4 L1087.2,1791.1 L1089.9,1791.7 L1092.6,1792.4 L1095.3,1793.0 L1098.1,1793.6 L1100.8,1794.2 L1103.5,1794.8 L1106.2,1795.4 L1108.9,1796.0 L1111.6,1796.6 L1114.3,1797.1 L1117.0,1797.6 L1119.7,1798.1 L1122.5,1798.6 L1125.2,1799.1 L1127.9,1799.6 L1130.6,1800.0 L1133.3,1800.4 L1136.0,1800.8 L1138.7,1801.2 L1141.4,1801.6 L1144.2,1802.0 L1146.9,1802.4 L1149.6,1802.7 L1152.3,1803.1 L1155.0,1803.4 L1157.7,1803.8 L1160.4,1804.1 L1163.1,1804.5 L1165.9,1804.8 L1168.6,1805.1 L1171.3,1805.4 L1174.0,1805.7 L1176.7,1806.1 L1179.4,1806.4 L1182.1,1806.7 L1184.8,1807.0 L1187.6,1807.3 L1190.3,1807.6 L1193.0,1807.9 L1195.7,1808.1 L1198.4,1808.4 L1201.1,1808.7 L1203.8,1809.0 L1206.5,1809.2 L1209.2,1809.5 L1212.0,1809.8 L1214.7,1810.0 L1217.4,1810.3 L1220.1,1810.5 L1222.8,1810.7 L1225.5,1811.0 L1228.2,1811.2 L1230.9,1811.4 L1233.7,1811.7 L1236.4,1811.9 L1239.1,1812.1 L1241.8,1812.3 L1244.5,1812.5 L1247.2,1812.7 L1249.9,1813.0 L1252.6,1813.2 L1255.4,1813.4 L1258.1,1813.6 L1260.8,1813.8 L1263.5,1814.0 L1266.2,1814.2 L1268.9,1814.3 L1271.6,1814.5 L1274.3,1814.7 L1277.1,1814.9 L1279.8,1815.1 L1282.5,1815.3 L1285.2,1815.5 L1287.9,1815.6 L1290.6,1815.8 L1293.3,1816.0 L1296.0,1816.1 L1298.8,1816.3 L1301.5,1816.5 L1304.2,1816.6 L1306.9,1816.8 L1309.6,1816.9 L1312.3,1817.1 L1315.0,1817.2 L1317.7,1817.4 L1320.4,1817.5 L1323.2,1817.7 L1325.9,1817.8 L1328.6,1818.0 L1331.3,1818.1 L1334.0,1818.3 L1336.7,1818.4 L1339.4,1818.6 L1342.1,1818.7 L1344.9,1818.9 L1347.6,1819.1 L1350.3,1819.2 L1353.0,1819.4 L1355.7,1819.5 L1358.4,1819.7 L1361.1,1819.8 L1363.8,1820.0 L1366.6,1820.1 L1369.3,1820.3 L1372.0,1820.4 L1374.7,1820.6 L1377.4,1820.7 L1380.1,1820.8 L1382.8,1820.9 L1385.5,1821.0 L1388.3,1821.2 L1391.0,1821.3 L1393.7,1821.4 L1396.4,1821.5 L1399.1,1821.6 L1401.8,1821.7 L1404.5,1821.8 L1407.2,1821.9 L1409.9,1822.0 L1412.7,1822.2 L1415.4,1822.3 L1418.1,1822.4 L1420.8,1822.5 L1423.5,1822.6 L1426.2,1822.7 L1428.9,1822.9 L1431.6,1823.0 L1434.4,1823.1 L1437.1,1823.2 L1439.8,1823.4 L1442.5,1823.5 L1445.2,1823.6 L1447.9,1823.7 L1450.6,1823.9 L1453.3,1824.0 L1456.1,1824.0 L1458.8,1824.1 L1461.5,1824.2 L1464.2,1824.3 L1466.9,1824.4 L1469.6,1824.4 L1472.3,1824.5 L1475.0,1824.6 L1477.8,1824.7 L1480.5,1824.7 L1483.2,1824.8 L1485.9,1824.8 L1488.6,1824.9 L1491.3,1825.0 L1494.0,1825.0 L1496.7,1825.1 L1499.4,1825.1 L1502.2,1825.2 L1504.9,1825.2 L1507.6,1825.3 L1510.3,1825.3 L1513.0,1825.4 L1515.7,1825.4 L1518.4,1825.5 L1521.1,1825.5 L1523.9,1825.6 L1526.6,1825.6 L1529.3,1825.7 L1532.0,1825.7 L1534.7,1825.8 L1537.4,1825.8 L1540.1,1825.9 L1542.8,1825.9 L1545.6,1826.0 L1548.3,1826.0 L1551.0,1826.1 L1553.7,1826.1 L1556.4,1826.2 L1559.1,1826.2 L1561.8,1826.3 L1564.5,1826.3 L1567.3,1826.3 L1570.0,1826.4 L1572.7,1826.4 L1575.4,1826.5 L1578.1,1826.5 L1580.8,1826.6 L1583.5,1826.6 L1586.2,1826.7 L1588.9,1826.7 L1591.7,1826.8 L1594.4,1826.8 L1597.1,1826.8 L1599.8,1826.9 L1602.5,1826.9 L1605.2,1827.0 L1607.9,1827.0 L1610.6,1827.1 L1613.4,1827.1 L1616.1,1827.1 L1618.8,1827.2 L1621.5,1827.2 L1624.2,1827.3 L1626.9,1827.3 L1629.6,1827.3 L1632.3,1827.4 L1635.1,1827.4 L1637.8,1827.5 L1640.5,1827.5 L1643.2,1827.5 L1645.9,1827.6 L1648.6,1827.6 L1651.3,1827.6 L1654.0,1827.7 L1656.8,1827.7 L1659.5,1827.8 L1662.2,1827.8 L1664.9,1827.8 L1667.6,1827.9 L1670.3,1827.9 L1673.0,1827.9 L1675.7,1828.0 L1678.5,1828.0 L1681.2,1828.0 L1683.9,1828.0 L1686.6,1828.1 L1689.3,1828.1 L1692.0,1828.1 L1694.7,1828.2 L1697.4,1828.2 L1700.1,1828.2 L1702.9,1828.2 L1705.6,1828.3 L1708.3,1828.3 L1711.0,1828.3 L1713.7,1828.3 L1716.4,1828.4 L1719.1,1828.4 L1721.8,1828.4 L1724.6,1828.4 L1727.3,1828.5 L1730.0,1828.5 L1732.7,1828.5 L1735.4,1828.5 L1738.1,1828.6 L1740.8,1828.6 L1743.5,1828.6 L1746.3,1828.6 L1749.0,1828.7 L1751.7,1828.7 L1754.4,1828.7 L1757.1,1828.7 L1759.8,1828.8 L1762.5,1828.8 L1765.2,1828.8 L1768.0,1828.8 L1770.7,1828.8 L1773.4,1828.9 L1776.1,1828.9 L1778.8,1828.9 L1781.5,1828.9 L1784.2,1829.0 L1786.9,1829.0 L1789.6,1829.0 L1792.4,1829.0 L1795.1,1829.0 L1797.8,1829.1 L1800.5,1829.1 L1803.2,1829.1 L1805.9,1829.1 L1808.6,1829.2 L1811.3,1829.2 L1814.1,1829.2 L1816.8,1829.2 L1819.5,1829.2 L1822.2,1829.3 L1824.9,1829.3 L1827.6,1829.3 L1830.3,1829.3 L1833.0,1829.3 L1835.8,1829.4 L1838.5,1829.4 L1841.2,1829.4 L1843.9,1829.4 L1846.6,1829.4 L1849.3,1829.5 L1852.0,1829.5 L1854.7,1829.5 L1857.5,1829.5 L1860.2,1829.5 L1862.9,1829.5 L1865.6,1829.6 L1868.3,1829.6 L1871.0,1829.6 L1873.7,1829.6 L1876.4,1829.6 L1879.1,1829.6 L1881.9,1829.7 L1884.6,1829.7 L1887.3,1829.7 L1890.0,1829.7 L1892.7,1829.7 L1895.4,1829.7 L1898.1,1829.7 L1900.8,1829.8 L1903.6,1829.8 L1906.3,1829.8 L1909.0,1829.8 L1911.7,1829.8 L1914.4,1829.8 L1917.1,1829.8 L1919.8,1829.8 L1922.5,1829.9 L1925.3,1829.9 L1928.0,1829.9 L1930.7,1829.9 L1933.4,1829.9 L1936.1,1829.9 L1938.8,1829.9 L1941.5,1829.9 L1944.2,1829.9 L1947.0,1829.9 L1949.7,1830.0 L1952.4,1830.0 L1955.1,1830.0 L1957.8,1830.0 L1960.5,1830.0 L1963.2,1830.0 L1965.9,1830.0 L1968.6,1830.0 L1971.4,1830.0 L1974.1,1830.0 L1976.8,1830.0" fill="none" stroke="#000000" stroke-width="10" stroke-linejoin="round" stroke-linecap="round" stroke-dasharray="1.2 41.4" stroke-dashoffset="4.1"/>
<path d="M349.5,1834.1 L352.2,1834.1 L354.9,1834.1 L357.6,1834.1 L360.3,1834.1 L363.1,1834.1 L365.8,1834.1 L368.5,1834.1 L371.2,1834.0 L373.9,1834.0 L376.6,1834.0 L379.3,1834.0 L382.0,1834.0 L384.8,1834.0 L387.5,1834.0 L390.2,1833.9 L392.9,1833.9 L395.6,1833.9 L398.3,1833.9 L401.0,1833.9 L403.7,1833.8 L406.5,1833.8 L409.2,1833.8 L411.9,1833.8 L414.6,1833.7 L417.3,1833.7 L420.0,1833.7 L422.7,1833.7 L425.4,1833.6 L428.2,1833.6 L430.9,1833.6 L433.6,1833.6 L436.3,1833.5 L439.0,1833.5 L441.7,1833.5 L444.4,1833.4 L447.1,1833.4 L449.8,1833.4 L452.6,1833.3 L455.3,1833.3 L458.0,1833.3 L460.7,1833.2 L463.4,1833.2 L466.1,1833.2 L468.8,1833.1 L471.5,1833.1 L474.3,1833.1 L477.0,1833.0 L479.7,1833.0 L482.4,1833.0 L485.1,1832.9 L487.8,1832.9 L490.5,1832.9 L493.2,1832.8 L496.0,1832.8 L498.7,1832.7 L501.4,1832.7 L504.1,1832.6 L506.8,1832.6 L509.5,1832.6 L512.2,1832.5 L514.9,1832.4 L517.7,1832.4 L520.4,1832.3 L523.1,1832.3 L525.8,1832.2 L528.5,1832.2 L531.2,1832.1 L533.9,1832.0 L536.6,1832.0 L539.4,1831.9 L542.1,1831.8 L544.8,1831.8 L547.5,1831.7 L550.2,1831.6 L552.9,1831.6 L555.6,1831.5 L558.3,1831.4 L561.0,1831.3 L563.8,1831.3 L566.5,1831.2 L569.2,1831.1 L571.9,1831.0 L574.6,1830.9 L577.3,1830.9 L580.0,1830.8 L582.7,1830.7 L585.5,1830.6 L588.2,1830.5 L590.9,1830.4 L593.6,1830.3 L596.3,1830.2 L599.0,1830.1 L601.7,1830.0 L604.4,1829.8 L607.2,1829.7 L609.9,1829.6 L612.6,1829.5 L615.3,1829.3 L618.0,1829.2 L620.7,1829.1 L623.4,1828.9 L626.1,1828.8 L628.9,1828.6 L631.6,1828.4 L634.3,1828.3 L637.0,1828.1 L639.7,1827.9 L642.4,1827.7 L645.1,1827.4 L647.8,1827.2 L650.5,1826.9 L653.3,1826.6 L656.0,1826.3 L658.7,1826.0 L661.4,1825.7 L664.1,1825.4 L666.8,1825.0 L669.5,1824.7 L672.2,1824.3 L675.0,1823.9 L677.7,1823.6 L680.4,1823.2 L683.1,1822.8 L685.8,1822.4 L688.5,1822.0 L691.2,1821.6 L693.9,1821.2 L696.7,1820.7 L699.4,1820.3 L702.1,1819.8 L704.8,1819.3 L707.5,1818.8 L710.2,1818.2 L712.9,1817.7 L715.6,1817.1 L718.4,1816.6 L721.1,1816.0 L723.8,1815.4 L726.5,1814.8 L729.2,1814.2 L731.9,1813.6 L734.6,1813.0 L737.3,1812.3 L740.0,1811.6 L742.8,1810.9 L745.5,1810.2 L748.2,1809.5 L750.9,1808.7 L753.6,1808.0 L756.3,1807.2 L759.0,1806.4 L761.7,1805.6 L764.5,1804.8 L767.2,1804.0 L769.9,1803.2 L772.6,1802.3 L775.3,1801.4 L778.0,1800.5 L780.7,1799.6 L783.4,1798.7 L786.2,1797.7 L788.9,1796.8 L791.6,1795.8 L794.3,1794.8 L797.0,1793.8 L799.7,1792.7 L802.4,1791.7 L805.1,1790.6 L807.9,1789.6 L810.6,1788.4 L813.3,1787.2 L816.0,1785.9 L818.7,1784.5 L821.4,1783.1 L824.1,1781.7 L826.8,1780.3 L829.5,1778.9 L832.3,1777.6 L835.0,1776.3 L837.7,1775.2 L840.4,1774.1 L843.1,1773.2 L845.8,1772.4 L848.5,1771.7 L851.2,1771.1 L854.0,1770.5 L856.7,1769.8 L859.4,1769.3 L862.1,1768.7 L864.8,1768.1 L867.5,1767.7 L870.2,1767.2 L872.9,1766.8 L875.7,1766.4 L878.4,1766.2 L881.1,1765.9 L883.8,1765.8 L886.5,1765.7 L889.2,1765.8 L891.9,1766.0 L894.6,1766.5 L897.4,1767.1 L900.1,1767.9 L902.8,1768.7 L905.5,1769.7 L908.2,1770.6 L910.9,1771.6 L913.6,1772.5 L916.3,1773.4 L919.0,1774.1 L921.8,1774.8 L924.5,1775.3 L927.2,1775.6 L929.9,1775.7 L932.6,1775.5 L935.3,1775.1 L938.0,1774.4 L940.7,1773.5 L943.5,1772.5 L946.2,1771.4 L948.9,1770.1 L951.6,1768.9 L954.3,1767.6 L957.0,1766.3 L959.7,1765.1 L962.4,1764.1 L965.2,1763.1 L967.9,1762.1 L970.6,1761.0 L973.3,1759.9 L976.0,1758.8 L978.7,1757.6 L981.4,1756.4 L984.1,1755.3 L986.9,1754.2 L989.6,1753.2 L992.3,1752.3 L995.0,1751.5 L997.7,1750.8 L1000.4,1750.3 L1003.1,1750.0 L1005.8,1749.8 L1008.6,1749.9 L1011.3,1750.1 L1014.0,1750.4 L1016.7,1750.9 L1019.4,1751.5 L1022.1,1752.1 L1024.8,1752.9 L1027.5,1753.7 L1030.2,1754.5 L1033.0,1755.4 L1035.7,1756.4 L1038.4,1757.3 L1041.1,1758.2 L1043.8,1759.1 L1046.5,1760.0 L1049.2,1760.9 L1051.9,1761.8 L1054.7,1762.8 L1057.4,1763.9 L1060.1,1765.0 L1062.8,1766.1 L1065.5,1767.2 L1068.2,1768.4 L1070.9,1769.6 L1073.6,1770.7 L1076.4,1771.9 L1079.1,1773.0 L1081.8,1774.0 L1084.5,1775.0 L1087.2,1776.0 L1089.9,1776.9 L1092.6,1777.8 L1095.3,1778.7 L1098.1,1779.6 L1100.8,1780.4 L1103.5,1781.3 L1106.2,1782.1 L1108.9,1782.9 L1111.6,1783.7 L1114.3,1784.5 L1117.0,1785.3 L1119.7,1786.0 L1122.5,1786.8 L1125.2,1787.5 L1127.9,1788.3 L1130.6,1789.0 L1133.3,1789.7 L1136.0,1790.5 L1138.7,1791.2 L1141.4,1791.9 L1144.2,1792.6 L1146.9,1793.3 L1149.6,1793.9 L1152.3,1794.6 L1155.0,1795.2 L1157.7,1795.8 L1160.4,1796.4 L1163.1,1797.0 L1165.9,1797.5 L1168.6,1798.0 L1171.3,1798.5 L1174.0,1799.0 L1176.7,1799.5 L1179.4,1799.9 L1182.1,1800.3 L1184.8,1800.7 L1187.6,1801.2 L1190.3,1801.6 L1193.0,1802.0 L1195.7,1802.3 L1198.4,1802.7 L1201.1,1803.1 L1203.8,1803.5 L1206.5,1803.9 L1209.2,1804.2 L1212.0,1804.6 L1214.7,1805.0 L1217.4,1805.4 L1220.1,1805.8 L1222.8,1806.2 L1225.5,1806.6 L1228.2,1807.0 L1230.9,1807.4 L1233.7,1807.8 L1236.4,1808.2 L1239.1,1808.5 L1241.8,1808.9 L1244.5,1809.3 L1247.2,1809.7 L1249.9,1810.1 L1252.6,1810.4 L1255.4,1810.8 L1258.1,1811.1 L1260.8,1811.5 L1263.5,1811.8 L1266.2,1812.2 L1268.9,1812.5 L1271.6,1812.8 L1274.3,1813.1 L1277.1,1813.4 L1279.8,1813.7 L1282.5,1813.9 L1285.2,1814.2 L1287.9,1814.4 L1290.6,1814.6 L1293.3,1814.8 L1296.0,1815.0 L1298.8,1815.2 L1301.5,1815.3 L1304.2,1815.5 L1306.9,1815.6 L1309.6,1815.8 L1312.3,1815.9 L1315.0,1816.0 L1317.7,1816.2 L1320.4,1816.3 L1323.2,1816.4 L1325.9,1816.5 L1328.6,1816.7 L1331.3,1816.8 L1334.0,1816.9 L1336.7,1817.1 L1339.4,1817.2 L1342.1,1817.4 L1344.9,1817.5 L1347.6,1817.6 L1350.3,1817.8 L1353.0,1817.9 L1355.7,1818.0 L1358.4,1818.2 L1361.1,1818.3 L1363.8,1818.5 L1366.6,1818.6 L1369.3,1818.7 L1372.0,1818.9 L1374.7,1819.0 L1377.4,1819.1 L1380.1,1819.2 L1382.8,1819.3 L1385.5,1819.5 L1388.3,1819.6 L1391.0,1819.7 L1393.7,1819.8 L1396.4,1819.9 L1399.1,1820.0 L1401.8,1820.2 L1404.5,1820.3 L1407.2,1820.4 L1409.9,1820.5 L1412.7,1820.6 L1415.4,1820.7 L1418.1,1820.9 L1420.8,1821.0 L1423.5,1821.1 L1426.2,1821.2 L1428.9,1821.4 L1431.6,1821.5 L1434.4,1821.7 L1437.1,1821.8 L1439.8,1822.0 L1442.5,1822.1 L1445.2,1822.3 L1447.9,1822.4 L1450.6,1822.5 L1453.3,1822.6 L1456.1,1822.7 L1458.8,1822.8 L1461.5,1822.9 L1464.2,1822.9 L1466.9,1823.0 L1469.6,1823.0 L1472.3,1823.1 L1475.0,1823.1 L1477.8,1823.2 L1480.5,1823.2 L1483.2,1823.2 L1485.9,1823.3 L1488.6,1823.3 L1491.3,1823.3 L1494.0,1823.4 L1496.7,1823.4 L1499.4,1823.5 L1502.2,1823.5 L1504.9,1823.6 L1507.6,1823.6 L1510.3,1823.7 L1513.0,1823.8 L1515.7,1823.8 L1518.4,1823.9 L1521.1,1824.0 L1523.9,1824.1 L1526.6,1824.1 L1529.3,1824.2 L1532.0,1824.3 L1534.7,1824.4 L1537.4,1824.4 L1540.1,1824.5 L1542.8,1824.5 L1545.6,1824.6 L1548.3,1824.7 L1551.0,1824.7 L1553.7,1824.8 L1556.4,1824.8 L1559.1,1824.9 L1561.8,1824.9 L1564.5,1825.0 L1567.3,1825.0 L1570.0,1825.1 L1572.7,1825.1 L1575.4,1825.2 L1578.1,1825.2 L1580.8,1825.3 L1583.5,1825.3 L1586.2,1825.4 L1588.9,1825.4 L1591.7,1825.5 L1594.4,1825.5 L1597.1,1825.6 L1599.8,1825.6 L1602.5,1825.6 L1605.2,1825.7 L1607.9,1825.7 L1610.6,1825.8 L1613.4,1825.8 L1616.1,1825.9 L1618.8,1825.9 L1621.5,1826.0 L1624.2,1826.0 L1626.9,1826.0 L1629.6,1826.1 L1632.3,1826.1 L1635.1,1826.2 L1637.8,1826.2 L1640.5,1826.2 L1643.2,1826.3 L1645.9,1826.3 L1648.6,1826.4 L1651.3,1826.4 L1654.0,1826.4 L1656.8,1826.5 L1659.5,1826.5 L1662.2,1826.5 L1664.9,1826.6 L1667.6,1826.6 L1670.3,1826.7 L1673.0,1826.7 L1675.7,1826.7 L1678.5,1826.8 L1681.2,1826.8 L1683.9,1826.8 L1686.6,1826.9 L1689.3,1826.9 L1692.0,1826.9 L1694.7,1827.0 L1697.4,1827.0 L1700.1,1827.0 L1702.9,1827.1 L1705.6,1827.1 L1708.3,1827.1 L1711.0,1827.2 L1713.7,1827.2 L1716.4,1827.2 L1719.1,1827.2 L1721.8,1827.3 L1724.6,1827.3 L1727.3,1827.3 L1730.0,1827.4 L1732.7,1827.4 L1735.4,1827.4 L1738.1,1827.5 L1740.8,1827.5 L1743.5,1827.5 L1746.3,1827.5 L1749.0,1827.6 L1751.7,1827.6 L1754.4,1827.6 L1757.1,1827.7 L1759.8,1827.7 L1762.5,1827.7 L1765.2,1827.8 L1768.0,1827.8 L1770.7,1827.8 L1773.4,1827.8 L1776.1,1827.9 L1778.8,1827.9 L1781.5,1827.9 L1784.2,1828.0 L1786.9,1828.0 L1789.6,1828.0 L1792.4,1828.0 L1795.1,1828.1 L1797.8,1828.1 L1800.5,1828.1 L1803.2,1828.1 L1805.9,1828.2 L1808.6,1828.2 L1811.3,1828.2 L1814.1,1828.2 L1816.8,1828.3 L1819.5,1828.3 L1822.2,1828.3 L1824.9,1828.4 L1827.6,1828.4 L1830.3,1828.4 L1833.0,1828.4 L1835.8,1828.5 L1838.5,1828.5 L1841.2,1828.5 L1843.9,1828.5 L1846.6,1828.6 L1849.3,1828.6 L1852.0,1828.6 L1854.7,1828.6 L1857.5,1828.6 L1860.2,1828.7 L1862.9,1828.7 L1865.6,1828.7 L1868.3,1828.7 L1871.0,1828.8 L1873.7,1828.8 L1876.4,1828.8 L1879.1,1828.8 L1881.9,1828.8 L1884.6,1828.9 L1887.3,1828.9 L1890.0,1828.9 L1892.7,1828.9 L1895.4,1828.9 L1898.1,1829.0 L1900.8,1829.0 L1903.6,1829.0 L1906.3,1829.0 L1909.0,1829.0 L1911.7,1829.1 L1914.4,1829.1 L1917.1,1829.1 L1919.8,1829.1 L1922.5,1829.1 L1925.3,1829.2 L1928.0,1829.2 L1930.7,1829.2 L1933.4,1829.2 L1936.1,1829.2 L1938.8,1829.2 L1941.5,1829.3 L1944.2,1829.3 L1947.0,1829.3 L1949.7,1829.3 L1952.4,1829.3 L1955.1,1829.3 L1957.8,1829.3 L1960.5,1829.4 L1963.2,1829.4 L1965.9,1829.4 L1968.6,1829.4 L1971.4,1829.4 L1974.1,1829.4 L1976.8,1829.4" fill="none" stroke="#FF0000" stroke-width="10" stroke-linejoin="round" stroke-linecap="round" stroke-dasharray="1.2 41.4" stroke-dashoffset="10.2"/>
<path d="M349.5,1834.1 L352.2,1834.1 L354.9,1834.1 L357.6,1834.1 L360.3,1834.1 L363.1,1834.1 L365.8,1834.1 L368.5,1834.1 L371.2,1834.1 L373.9,1834.1 L376.6,1834.1 L379.3,1834.1 L382.0,1834.1 L384.8,1834.0 L387.5,1834.0 L390.2,1834.0 L392.9,1834.0 L395.6,1834.0 L398.3,1834.0 L401.0,1834.0 L403.7,1834.0 L406.5,1834.0 L409.2,1834.0 L411.9,1833.9 L414.6,1833.9 L417.3,1833.9 L420.0,1833.9 L422.7,1833.9 L425.4,1833.9 L428.2,1833.9 L430.9,1833.9 L433.6,1833.8 L436.3,1833.8 L439.0,1833.8 L441.7,1833.8 L444.4,1833.8 L447.1,1833.8 L449.8,1833.7 L452.6,1833.7 L455.3,1833.7 L458.0,1833.7 L460.7,1833.7 L463.4,1833.7 L466.1,1833.6 L468.8,1833.6 L471.5,1833.6 L474.3,1833.6 L477.0,1833.6 L479.7,1833.6 L482.4,1833.5 L485.1,1833.5 L487.8,1833.5 L490.5,1833.5 L493.2,1833.5 L496.0,1833.4 L498.7,1833.4 L501.4,1833.4 L504.1,1833.4 L506.8,1833.3 L509.5,1833.3 L512.2,1833.3 L514.9,1833.3 L517.7,1833.2 L520.4,1833.2 L523.1,1833.2 L525.8,1833.1 L528.5,1833.1 L531.2,1833.1 L533.9,1833.0 L536.6,1833.0 L539.4,1833.0 L542.1,1832.9 L544.8,1832.9 L547.5,1832.8 L550.2,1832.8 L552.9,1832.8 L555.6,1832.7 L558.3,1832.7 L561.0,1832.6 L563.8,1832.6 L566.5,1832.5 L569.2,1832.5 L571.9,1832.4 L574.6,1832.3 L577.3,1832.3 L580.0,1832.2 L582.7,1832.2 L585.5,1832.1 L588.2,1832.1 L590.9,1832.0 L593.6,1831.9 L596.3,1831.9 L599.0,1831.8 L601.7,1831.7 L604.4,1831.6 L607.2,1831.6 L609.9,1831.5 L612.6,1831.4 L615.3,1831.3 L618.0,1831.3 L620.7,1831.2 L623.4,1831.1 L626.1,1831.0 L628.9,1830.8 L631.6,1830.7 L634.3,1830.5 L637.0,1830.3 L639.7,1830.1 L642.4,1829.9 L645.1,1829.7 L647.8,1829.5 L650.5,1829.3 L653.3,1829.0 L656.0,1828.8 L658.7,1828.6 L661.4,1828.4 L664.1,1828.1 L666.8,1827.9 L669.5,1827.7 L672.2,1827.5 L675.0,1827.3 L677.7,1827.1 L680.4,1827.0 L683.1,1826.8 L685.8,1826.6 L688.5,1826.4 L691.2,1826.2 L693.9,1826.0 L696.7,1825.9 L699.4,1825.7 L702.1,1825.5 L704.8,1825.3 L707.5,1825.1 L710.2,1825.0 L712.9,1824.8 L715.6,1824.6 L718.4,1824.4 L721.1,1824.2 L723.8,1824.0 L726.5,1823.8 L729.2,1823.6 L731.9,1823.4 L734.6,1823.2 L737.3,1823.0 L740.0,1822.8 L742.8,1822.5 L745.5,1822.3 L748.2,1822.1 L750.9,1821.8 L753.6,1821.6 L756.3,1821.3 L759.0,1821.1 L761.7,1820.8 L764.5,1820.6 L767.2,1820.3 L769.9,1820.0 L772.6,1819.7 L775.3,1819.4 L778.0,1819.1 L780.7,1818.7 L783.4,1818.4 L786.2,1818.0 L788.9,1817.6 L791.6,1817.2 L794.3,1816.8 L797.0,1816.4 L799.7,1815.9 L802.4,1815.5 L805.1,1815.0 L807.9,1814.5 L810.6,1814.0 L813.3,1813.5 L816.0,1813.0 L818.7,1812.4 L821.4,1811.9 L824.1,1811.3 L826.8,1810.7 L829.5,1810.1 L832.3,1809.5 L835.0,1808.9 L837.7,1808.2 L840.4,1807.6 L843.1,1806.9 L845.8,1806.2 L848.5,1805.4 L851.2,1804.6 L854.0,1803.8 L856.7,1803.0 L859.4,1802.1 L862.1,1801.2 L864.8,1800.2 L867.5,1799.2 L870.2,1798.2 L872.9,1797.2 L875.7,1796.2 L878.4,1795.3 L881.1,1794.3 L883.8,1793.3 L886.5,1792.3 L889.2,1791.4 L891.9,1790.4 L894.6,1789.4 L897.4,1788.5 L900.1,1787.5 L902.8,1786.4 L905.5,1785.4 L908.2,1784.3 L910.9,1783.2 L913.6,1782.0 L916.3,1780.8 L919.0,1779.4 L921.8,1778.0 L924.5,1776.5 L927.2,1775.0 L929.9,1773.5 L932.6,1771.9 L935.3,1770.4 L938.0,1768.9 L940.7,1767.5 L943.5,1766.2 L946.2,1764.9 L948.9,1763.7 L951.6,1762.4 L954.3,1761.0 L957.0,1759.6 L959.7,1758.3 L962.4,1757.0 L965.2,1755.7 L967.9,1754.6 L970.6,1753.6 L973.3,1752.8 L976.0,1752.2 L978.7,1751.7 L981.4,1751.6 L984.1,1751.6 L986.9,1751.7 L989.6,1751.8 L992.3,1752.0 L995.0,1752.1 L997.7,1752.3 L1000.4,1752.6 L1003.1,1752.7 L1005.8,1752.9 L1008.6,1753.1 L1011.3,1753.2 L1014.0,1753.3 L1016.7,1753.4 L1019.4,1753.4 L1022.1,1753.3 L1024.8,1753.2 L1027.5,1753.0 L1030.2,1752.9 L1033.0,1752.6 L1035.7,1752.4 L1038.4,1752.1 L1041.1,1751.7 L1043.8,1751.4 L1046.5,1751.0 L1049.2,1750.7 L1051.9,1750.3 L1054.7,1749.7 L1057.4,1748.8 L1060.1,1747.8 L1062.8,1746.6 L1065.5,1745.4 L1068.2,1744.1 L1070.9,1742.9 L1073.6,1741.7 L1076.4,1740.7 L1079.1,1739.9 L1081.8,1739.3 L1084.5,1739.0 L1087.2,1739.0 L1089.9,1739.2 L1092.6,1739.3 L1095.3,1739.6 L1098.1,1739.9 L1100.8,1740.3 L1103.5,1740.7 L1106.2,1741.2 L1108.9,1741.7 L1111.6,1742.3 L1114.3,1742.8 L1117.0,1743.4 L1119.7,1744.0 L1122.5,1744.7 L1125.2,1745.4 L1127.9,1746.3 L1130.6,1747.4 L1133.3,1748.5 L1136.0,1749.7 L1138.7,1751.0 L1141.4,1752.3 L1144.2,1753.7 L1146.9,1755.0 L1149.6,1756.4 L1152.3,1757.7 L1155.0,1758.9 L1157.7,1760.1 L1160.4,1761.3 L1163.1,1762.5 L1165.9,1763.7 L1168.6,1764.9 L1171.3,1766.1 L1174.0,1767.3 L1176.7,1768.5 L1179.4,1769.7 L1182.1,1770.9 L1184.8,1772.0 L1187.6,1773.1 L1190.3,1774.2 L1193.0,1775.4 L1195.7,1776.5 L1198.4,1777.6 L1201.1,1778.7 L1203.8,1779.8 L1206.5,1780.8 L1209.2,1781.9 L1212.0,1782.8 L1214.7,1783.8 L1217.4,1784.6 L1220.1,1785.4 L1222.8,1786.2 L1225.5,1786.9 L1228.2,1787.6 L1230.9,1788.3 L1233.7,1788.9 L1236.4,1789.5 L1239.1,1790.1 L1241.8,1790.7 L1244.5,1791.3 L1247.2,1791.9 L1249.9,1792.5 L1252.6,1793.1 L1255.4,1793.6 L1258.1,1794.2 L1260.8,1794.8 L1263.5,1795.4 L1266.2,1796.0 L1268.9,1796.5 L1271.6,1797.1 L1274.3,1797.7 L1277.1,1798.2 L1279.8,1798.8 L1282.5,1799.3 L1285.2,1799.9 L1287.9,1800.4 L1290.6,1800.9 L1293.3,1801.3 L1296.0,1801.8 L1298.8,1802.2 L1301.5,1802.7 L1304.2,1803.1 L1306.9,1803.5 L1309.6,1803.9 L1312.3,1804.3 L1315.0,1804.7 L1317.7,1805.0 L1320.4,1805.4 L1323.2,1805.8 L1325.9,1806.2 L1328.6,1806.6 L1331.3,1807.0 L1334.0,1807.4 L1336.7,1807.9 L1339.4,1808.3 L1342.1,1808.7 L1344.9,1809.2 L1347.6,1809.6 L1350.3,1810.0 L1353.0,1810.4 L1355.7,1810.7 L1358.4,1811.0 L1361.1,1811.3 L1363.8,1811.6 L1366.6,1811.8 L1369.3,1812.0 L1372.0,1812.2 L1374.7,1812.3 L1377.4,1812.5 L1380.1,1812.7 L1382.8,1812.8 L1385.5,1812.9 L1388.3,1813.1 L1391.0,1813.2 L1393.7,1813.4 L1396.4,1813.6 L1399.1,1813.7 L1401.8,1813.9 L1404.5,1814.1 L1407.2,1814.3 L1409.9,1814.5 L1412.7,1814.7 L1415.4,1814.9 L1418.1,1815.1 L1420.8,1815.3 L1423.5,1815.5 L1426.2,1815.7 L1428.9,1815.8 L1431.6,1816.0 L1434.4,1816.2 L1437.1,1816.4 L1439.8,1816.6 L1442.5,1816.8 L1445.2,1817.0 L1447.9,1817.2 L1450.6,1817.4 L1453.3,1817.6 L1456.1,1817.8 L1458.8,1818.0 L1461.5,1818.1 L1464.2,1818.3 L1466.9,1818.5 L1469.6,1818.6 L1472.3,1818.8 L1475.0,1818.9 L1477.8,1819.0 L1480.5,1819.1 L1483.2,1819.3 L1485.9,1819.4 L1488.6,1819.5 L1491.3,1819.6 L1494.0,1819.7 L1496.7,1819.8 L1499.4,1819.9 L1502.2,1820.0 L1504.9,1820.1 L1507.6,1820.2 L1510.3,1820.4 L1513.0,1820.5 L1515.7,1820.6 L1518.4,1820.7 L1521.1,1820.9 L1523.9,1821.0 L1526.6,1821.1 L1529.3,1821.2 L1532.0,1821.3 L1534.7,1821.5 L1537.4,1821.6 L1540.1,1821.6 L1542.8,1821.7 L1545.6,1821.8 L1548.3,1821.9 L1551.0,1822.0 L1553.7,1822.0 L1556.4,1822.1 L1559.1,1822.2 L1561.8,1822.3 L1564.5,1822.3 L1567.3,1822.4 L1570.0,1822.5 L1572.7,1822.5 L1575.4,1822.6 L1578.1,1822.7 L1580.8,1822.8 L1583.5,1822.8 L1586.2,1822.9 L1588.9,1822.9 L1591.7,1823.0 L1594.4,1823.1 L1597.1,1823.1 L1599.8,1823.2 L1602.5,1823.2 L1605.2,1823.3 L1607.9,1823.4 L1610.6,1823.4 L1613.4,1823.5 L1616.1,1823.5 L1618.8,1823.6 L1621.5,1823.6 L1624.2,1823.7 L1626.9,1823.7 L1629.6,1823.8 L1632.3,1823.8 L1635.1,1823.9 L1637.8,1823.9 L1640.5,1824.0 L1643.2,1824.0 L1645.9,1824.1 L1648.6,1824.1 L1651.3,1824.2 L1654.0,1824.2 L1656.8,1824.3 L1659.5,1824.3 L1662.2,1824.4 L1664.9,1824.4 L1667.6,1824.5 L1670.3,1824.5 L1673.0,1824.5 L1675.7,1824.6 L1678.5,1824.6 L1681.2,1824.7 L1683.9,1824.7 L1686.6,1824.8 L1689.3,1824.8 L1692.0,1824.8 L1694.7,1824.9 L1697.4,1824.9 L1700.1,1825.0 L1702.9,1825.0 L1705.6,1825.0 L1708.3,1825.1 L1711.0,1825.1 L1713.7,1825.2 L1716.4,1825.2 L1719.1,1825.3 L1721.8,1825.3 L1724.6,1825.3 L1727.3,1825.4 L1730.0,1825.4 L1732.7,1825.5 L1735.4,1825.5 L1738.1,1825.5 L1740.8,1825.6 L1743.5,1825.6 L1746.3,1825.7 L1749.0,1825.7 L1751.7,1825.7 L1754.4,1825.8 L1757.1,1825.8 L1759.8,1825.9 L1762.5,1825.9 L1765.2,1825.9 L1768.0,1826.0 L1770.7,1826.0 L1773.4,1826.1 L1776.1,1826.1 L1778.8,1826.1 L1781.5,1826.2 L1784.2,1826.2 L1786.9,1826.2 L1789.6,1826.3 L1792.4,1826.3 L1795.1,1826.4 L1797.8,1826.4 L1800.5,1826.4 L1803.2,1826.5 L1805.9,1826.5 L1808.6,1826.5 L1811.3,1826.6 L1814.1,1826.6 L1816.8,1826.6 L1819.5,1826.7 L1822.2,1826.7 L1824.9,1826.7 L1827.6,1826.8 L1830.3,1826.8 L1833.0,1826.9 L1835.8,1826.9 L1838.5,1826.9 L1841.2,1827.0 L1843.9,1827.0 L1846.6,1827.0 L1849.3,1827.1 L1852.0,1827.1 L1854.7,1827.1 L1857.5,1827.2 L1860.2,1827.2 L1862.9,1827.2 L1865.6,1827.2 L1868.3,1827.3 L1871.0,1827.3 L1873.7,1827.3 L1876.4,1827.4 L1879.1,1827.4 L1881.9,1827.4 L1884.6,1827.5 L1887.3,1827.5 L1890.0,1827.5 L1892.7,1827.5 L1895.4,1827.6 L1898.1,1827.6 L1900.8,1827.6 L1903.6,1827.7 L1906.3,1827.7 L1909.0,1827.7 L1911.7,1827.7 L1914.4,1827.8 L1917.1,1827.8 L1919.8,1827.8 L1922.5,1827.8 L1925.3,1827.9 L1928.0,1827.9 L1930.7,1827.9 L1933.4,1827.9 L1936.1,1828.0 L1938.8,1828.0 L1941.5,1828.0 L1944.2,1828.0 L1947.0,1828.0 L1949.7,1828.1 L1952.4,1828.1 L1955.1,1828.1 L1957.8,1828.1 L1960.5,1828.1 L1963.2,1828.2 L1965.9,1828.2 L1968.6,1828.2 L1971.4,1828.2 L1974.1,1828.2 L1976.8,1828.3" fill="none" stroke="#0000FF" stroke-width="10" stroke-linejoin="round" stroke-linecap="round" stroke-dasharray="1.2 41.4" stroke-dashoffset="17.2"/>
<path d="M349.5,1834.1 L352.2,1834.1 L354.9,1834.1 L357.6,1834.1 L360.3,1834.1 L363.1,1834.1 L365.8,1834.1 L368.5,1834.1 L371.2,1834.1 L373.9,1834.1 L376.6,1834.1 L379.3,1834.1 L382.0,1834.0 L384.8,1834.0 L387.5,1834.0 L390.2,1834.0 L392.9,1834.0 L395.6,1834.0 L398.3,1834.0 L401.0,1834.0 L403.7,1834.0 L406.5,1834.0 L409.2,1833.9 L411.9,1833.9 L414.6,1833.9 L417.3,1833.9 L420.0,1833.9 L422.7,1833.9 L425.4,1833.9 L428.2,1833.9 L430.9,1833.8 L433.6,1833.8 L436.3,1833.8 L439.0,1833.8 L441.7,1833.8 L444.4,1833.8 L447.1,1833.7 L449.8,1833.7 L452.6,1833.7 L455.3,1833.7 L458.0,1833.7 L460.7,1833.7 L463.4,1833.7 L466.1,1833.6 L468.8,1833.6 L471.5,1833.6 L474.3,1833.6 L477.0,1833.6 L479.7,1833.6 L482.4,1833.5 L485.1,1833.5 L487.8,1833.5 L490.5,1833.5 L493.2,1833.5 L496.0,1833.4 L498.7,1833.4 L501.4,1833.4 L504.1,1833.4 L506.8,1833.4 L509.5,1833.3 L512.2,1833.3 L514.9,1833.3 L517.7,1833.3 L520.4,1833.3 L523.1,1833.2 L525.8,1833.2 L528.5,1833.2 L531.2,1833.2 L533.9,1833.1 L536.6,1833.1 L539.4,1833.1 L542.1,1833.0 L544.8,1833.0 L547.5,1833.0 L550.2,1833.0 L552.9,1832.9 L555.6,1832.9 L558.3,1832.9 L561.0,1832.8 L563.8,1832.8 L566.5,1832.8 L569.2,1832.7 L571.9,1832.7 L574.6,1832.7 L577.3,1832.6 L580.0,1832.6 L582.7,1832.6 L585.5,1832.5 L588.2,1832.5 L590.9,1832.5 L593.6,1832.4 L596.3,1832.4 L599.0,1832.3 L601.7,1832.3 L604.4,1832.2 L607.2,1832.2 L609.9,1832.2 L612.6,1832.1 L615.3,1832.1 L618.0,1832.0 L620.7,1832.0 L623.4,1831.9 L626.1,1831.9 L628.9,1831.8 L631.6,1831.8 L634.3,1831.7 L637.0,1831.7 L639.7,1831.6 L642.4,1831.6 L645.1,1831.5 L647.8,1831.5 L650.5,1831.4 L653.3,1831.4 L656.0,1831.3 L658.7,1831.3 L661.4,1831.2 L664.1,1831.1 L666.8,1831.1 L669.5,1831.0 L672.2,1830.9 L675.0,1830.8 L677.7,1830.7 L680.4,1830.6 L683.1,1830.5 L685.8,1830.3 L688.5,1830.2 L691.2,1830.1 L693.9,1830.0 L696.7,1829.9 L699.4,1829.8 L702.1,1829.7 L704.8,1829.6 L707.5,1829.5 L710.2,1829.4 L712.9,1829.3 L715.6,1829.2 L718.4,1829.1 L721.1,1829.1 L723.8,1829.0 L726.5,1828.9 L729.2,1828.8 L731.9,1828.7 L734.6,1828.7 L737.3,1828.6 L740.0,1828.5 L742.8,1828.5 L745.5,1828.4 L748.2,1828.4 L750.9,1828.3 L753.6,1828.3 L756.3,1828.2 L759.0,1828.2 L761.7,1828.2 L764.5,1828.1 L767.2,1828.1 L769.9,1828.1 L772.6,1828.0 L775.3,1828.0 L778.0,1828.0 L780.7,1827.9 L783.4,1827.9 L786.2,1827.8 L788.9,1827.8 L791.6,1827.7 L794.3,1827.6 L797.0,1827.6 L799.7,1827.5 L802.4,1827.4 L805.1,1827.3 L807.9,1827.2 L810.6,1827.0 L813.3,1826.9 L816.0,1826.8 L818.7,1826.6 L821.4,1826.5 L824.1,1826.3 L826.8,1826.2 L829.5,1826.1 L832.3,1825.9 L835.0,1825.7 L837.7,1825.6 L840.4,1825.4 L843.1,1825.2 L845.8,1825.0 L848.5,1824.8 L851.2,1824.6 L854.0,1824.4 L856.7,1824.2 L859.4,1824.0 L862.1,1823.8 L864.8,1823.5 L867.5,1823.3 L870.2,1823.1 L872.9,1822.9 L875.7,1822.6 L878.4,1822.4 L881.1,1822.2 L883.8,1821.9 L886.5,1821.7 L889.2,1821.4 L891.9,1821.2 L894.6,1820.9 L897.4,1820.7 L900.1,1820.4 L902.8,1820.1 L905.5,1819.8 L908.2,1819.5 L910.9,1819.3 L913.6,1819.0 L916.3,1818.6 L919.0,1818.3 L921.8,1818.0 L924.5,1817.7 L927.2,1817.4 L929.9,1817.0 L932.6,1816.7 L935.3,1816.3 L938.0,1815.9 L940.7,1815.5 L943.5,1815.2 L946.2,1814.8 L948.9,1814.3 L951.6,1813.9 L954.3,1813.5 L957.0,1813.0 L959.7,1812.5 L962.4,1812.0 L965.2,1811.5 L967.9,1810.9 L970.6,1810.3 L973.3,1809.7 L976.0,1809.1 L978.7,1808.5 L981.4,1807.8 L984.1,1807.1 L986.9,1806.4 L989.6,1805.7 L992.3,1805.0 L995.0,1804.3 L997.7,1803.6 L1000.4,1802.9 L1003.1,1802.1 L1005.8,1801.4 L1008.6,1800.6 L1011.3,1799.8 L1014.0,1799.0 L1016.7,1798.2 L1019.4,1797.4 L1022.1,1796.5 L1024.8,1795.6 L1027.5,1794.7 L1030.2,1793.8 L1033.0,1792.8 L1035.7,1791.8 L1038.4,1790.8 L1041.1,1789.8 L1043.8,1788.7 L1046.5,1787.5 L1049.2,1786.3 L1051.9,1785.1 L1054.7,1783.8 L1057.4,1782.5 L1060.1,1781.1 L1062.8,1779.8 L1065.5,1778.4 L1068.2,1776.9 L1070.9,1775.5 L1073.6,1774.0 L1076.4,1772.5 L1079.1,1771.0 L1081.8,1769.4 L1084.5,1767.8 L1087.2,1766.0 L1089.9,1764.3 L1092.6,1762.4 L1095.3,1760.6 L1098.1,1758.8 L1100.8,1757.0 L1103.5,1755.2 L1106.2,1753.4 L1108.9,1751.7 L1111.6,1750.1 L1114.3,1748.5 L1117.0,1747.0 L1119.7,1745.5 L1122.5,1743.9 L1125.2,1742.3 L1127.9,1740.6 L1130.6,1739.0 L1133.3,1737.4 L1136.0,1735.9 L1138.7,1734.5 L1141.4,1733.2 L1144.2,1732.0 L1146.9,1731.0 L1149.6,1730.2 L1152.3,1729.5 L1155.0,1729.1 L1157.7,1728.8 L1160.4,1728.6 L1163.1,1728.4 L1165.9,1728.3 L1168.6,1728.2 L1171.3,1728.1 L1174.0,1728.0 L1176.7,1727.9 L1179.4,1727.8 L1182.1,1727.7 L1184.8,1727.6 L1187.6,1727.5 L1190.3,1727.4 L1193.0,1727.2 L1195.7,1727.1 L1198.4,1726.9 L1201.1,1726.6 L1203.8,1726.1 L1206.5,1725.6 L1209.2,1724.9 L1212.0,1724.2 L1214.7,1723.5 L1217.4,1722.7 L1220.1,1721.9 L1222.8,1721.1 L1225.5,1720.5 L1228.2,1719.8 L1230.9,1719.3 L1233.7,1718.9 L1236.4,1718.7 L1239.1,1718.6 L1241.8,1718.8 L1244.5,1719.0 L1247.2,1719.4 L1249.9,1720.0 L1252.6,1720.6 L1255.4,1721.4 L1258.1,1722.2 L1260.8,1723.1 L1263.5,1724.1 L1266.2,1725.0 L1268.9,1726.1 L1271.6,1727.1 L1274.3,1728.1 L1277.1,1729.1 L1279.8,1730.1 L1282.5,1731.3 L1285.2,1732.6 L1287.9,1734.0 L1290.6,1735.5 L1293.3,1737.1 L1296.0,1738.6 L1298.8,1740.2 L1301.5,1741.8 L1304.2,1743.4 L1306.9,1745.0 L1309.6,1746.5 L1312.3,1748.0 L1315.0,1749.4 L1317.7,1750.9 L1320.4,1752.4 L1323.2,1753.9 L1325.9,1755.5 L1328.6,1757.0 L1331.3,1758.5 L1334.0,1760.0 L1336.7,1761.4 L1339.4,1762.9 L1342.1,1764.3 L1344.9,1765.7 L1347.6,1767.0 L1350.3,1768.2 L1353.0,1769.5 L1355.7,1770.7 L1358.4,1771.9 L1361.1,1773.1 L1363.8,1774.3 L1366.6,1775.5 L1369.3,1776.6 L1372.0,1777.7 L1374.7,1778.8 L1377.4,1779.8 L1380.1,1780.8 L1382.8,1781.8 L1385.5,1782.7 L1388.3,1783.6 L1391.0,1784.5 L1393.7,1785.3 L1396.4,1786.1 L1399.1,1786.9 L1401.8,1787.6 L1404.5,1788.4 L1407.2,1789.1 L1409.9,1789.8 L1412.7,1790.5 L1415.4,1791.1 L1418.1,1791.8 L1420.8,1792.4 L1423.5,1793.1 L1426.2,1793.7 L1428.9,1794.3 L1431.6,1794.9 L1434.4,1795.5 L1437.1,1796.1 L1439.8,1796.7 L1442.5,1797.3 L1445.2,1797.8 L1447.9,1798.4 L1450.6,1798.9 L1453.3,1799.5 L1456.1,1800.0 L1458.8,1800.5 L1461.5,1801.0 L1464.2,1801.5 L1466.9,1802.0 L1469.6,1802.4 L1472.3,1802.9 L1475.0,1803.3 L1477.8,1803.8 L1480.5,1804.2 L1483.2,1804.6 L1485.9,1805.0 L1488.6,1805.4 L1491.3,1805.9 L1494.0,1806.2 L1496.7,1806.6 L1499.4,1807.0 L1502.2,1807.4 L1504.9,1807.7 L1507.6,1808.1 L1510.3,1808.4 L1513.0,1808.7 L1515.7,1809.1 L1518.4,1809.4 L1521.1,1809.7 L1523.9,1810.0 L1526.6,1810.3 L1529.3,1810.6 L1532.0,1810.9 L1534.7,1811.1 L1537.4,1811.4 L1540.1,1811.7 L1542.8,1811.9 L1545.6,1812.2 L1548.3,1812.4 L1551.0,1812.7 L1553.7,1812.9 L1556.4,1813.1 L1559.1,1813.3 L1561.8,1813.5 L1564.5,1813.7 L1567.3,1813.9 L1570.0,1814.1 L1572.7,1814.3 L1575.4,1814.4 L1578.1,1814.6 L1580.8,1814.8 L1583.5,1815.0 L1586.2,1815.1 L1588.9,1815.3 L1591.7,1815.5 L1594.4,1815.6 L1597.1,1815.8 L1599.8,1816.0 L1602.5,1816.1 L1605.2,1816.3 L1607.9,1816.5 L1610.6,1816.7 L1613.4,1816.8 L1616.1,1817.0 L1618.8,1817.2 L1621.5,1817.3 L1624.2,1817.5 L1626.9,1817.7 L1629.6,1817.8 L1632.3,1818.0 L1635.1,1818.2 L1637.8,1818.3 L1640.5,1818.5 L1643.2,1818.7 L1645.9,1818.8 L1648.6,1819.0 L1651.3,1819.2 L1654.0,1819.4 L1656.8,1819.5 L1659.5,1819.7 L1662.2,1819.9 L1664.9,1820.0 L1667.6,1820.2 L1670.3,1820.4 L1673.0,1820.5 L1675.7,1820.7 L1678.5,1820.8 L1681.2,1820.9 L1683.9,1821.0 L1686.6,1821.1 L1689.3,1821.3 L1692.0,1821.4 L1694.7,1821.5 L1697.4,1821.6 L1700.1,1821.6 L1702.9,1821.7 L1705.6,1821.8 L1708.3,1821.9 L1711.0,1822.0 L1713.7,1822.1 L1716.4,1822.2 L1719.1,1822.3 L1721.8,1822.4 L1724.6,1822.5 L1727.3,1822.6 L1730.0,1822.7 L1732.7,1822.8 L1735.4,1822.9 L1738.1,1823.0 L1740.8,1823.1 L1743.5,1823.2 L1746.3,1823.3 L1749.0,1823.4 L1751.7,1823.4 L1754.4,1823.5 L1757.1,1823.6 L1759.8,1823.7 L1762.5,1823.8 L1765.2,1823.9 L1768.0,1824.0 L1770.7,1824.1 L1773.4,1824.1 L1776.1,1824.2 L1778.8,1824.3 L1781.5,1824.4 L1784.2,1824.5 L1786.9,1824.6 L1789.6,1824.6 L1792.4,1824.7 L1795.1,1824.8 L1797.8,1824.8 L1800.5,1824.9 L1803.2,1824.9 L1805.9,1825.0 L1808.6,1825.0 L1811.3,1825.0 L1814.1,1825.0 L1816.8,1825.1 L1819.5,1825.1 L1822.2,1825.1 L1824.9,1825.1 L1827.6,1825.1 L1830.3,1825.1 L1833.0,1825.1 L1835.8,1825.1 L1838.5,1825.1 L1841.2,1825.2 L1843.9,1825.2 L1846.6,1825.2 L1849.3,1825.2 L1852.0,1825.2 L1854.7,1825.3 L1857.5,1825.3 L1860.2,1825.4 L1862.9,1825.5 L1865.6,1825.6 L1868.3,1825.6 L1871.0,1825.7 L1873.7,1825.8 L1876.4,1825.9 L1879.1,1826.0 L1881.9,1826.1 L1884.6,1826.1 L1887.3,1826.2 L1890.0,1826.3 L1892.7,1826.3 L1895.4,1826.3 L1898.1,1826.4 L1900.8,1826.4 L1903.6,1826.5 L1906.3,1826.5 L1909.0,1826.5 L1911.7,1826.6 L1914.4,1826.6 L1917.1,1826.6 L1919.8,1826.7 L1922.5,1826.7 L1925.3,1826.7 L1928.0,1826.8 L1930.7,1826.8 L1933.4,1826.8 L1936.1,1826.9 L1938.8,1826.9 L1941.5,1826.9 L1944.2,1826.9 L1947.0,1827.0 L1949.7,1827.0 L1952.4,1827.0 L1955.1,1827.0 L1957.8,1827.0 L1960.5,1827.1 L1963.2,1827.1 L1965.9,1827.1 L1968.6,1827.1 L1971.4,1827.1 L1974.1,1827.1 L1976.8,1827.1" fill="none" stroke="#00FF00" stroke-width="10" stroke-linejoin="round" stroke-linecap="round" stroke-dasharray="1.2 41.4" stroke-dashoffset="27.4"/>
<path d="M350.0,1833.6 L356.8,1833.5 L363.6,1833.5 L370.4,1833.5 L377.2,1833.4 L383.9,1833.4 L390.7,1833.3 L397.5,1833.2 L404.3,1833.2 L411.1,1833.2 L417.8,1833.1 L424.6,1833.1 L431.4,1833.0 L438.2,1833.0 L445.0,1832.9 L451.7,1832.8 L458.5,1832.7 L465.3,1832.6 L472.1,1832.4 L478.9,1832.3 L485.6,1832.1 L492.4,1831.9 L499.2,1831.7 L506.0,1831.5 L512.8,1831.3 L519.6,1831.0 L526.3,1830.7 L533.1,1830.2 L539.9,1829.6 L546.7,1829.0 L553.5,1828.4 L560.2,1827.8 L567.0,1827.2 L573.8,1826.6 L580.6,1826.1 L587.4,1825.6 L594.1,1825.1 L600.9,1824.5 L607.7,1823.9 L614.5,1823.3 L621.3,1822.6 L628.0,1821.8 L634.8,1821.0 L641.6,1820.1 L648.4,1819.1 L655.2,1818.0 L661.9,1816.9 L668.7,1815.8 L675.5,1814.8 L678.6,1814.3 L679.7,1814.2 L680.8,1814.0 L681.8,1813.9 L682.3,1813.8 L682.9,1813.7 L684.0,1813.6 L685.1,1813.5 L686.2,1813.4 L687.3,1813.3 L688.4,1813.2 L689.1,1813.2 L689.4,1813.2 L690.5,1813.1 L691.6,1813.1 L692.7,1813.1 L693.8,1813.1 L694.9,1813.1 L695.8,1813.1 L695.9,1813.1 L697.0,1813.2 L698.1,1813.3 L699.2,1813.4 L700.3,1813.6 L701.4,1813.7 L702.5,1814.0 L702.6,1814.0 L703.5,1814.2 L704.6,1814.5 L705.7,1814.8 L706.8,1815.2 L707.9,1815.7 L709.0,1816.2 L709.4,1816.4 L710.1,1816.7 L711.1,1817.3 L712.2,1818.0 L713.3,1818.8 L714.4,1819.7 L715.5,1820.6 L716.2,1821.3 L716.6,1821.6 L717.6,1822.8 L718.7,1824.0 L719.8,1825.4 L720.9,1826.9 L722.0,1828.5 L723.0,1830.1 L723.1,1830.3 L724.2,1832.2 L725.2,1834.3 L726.3,1836.6 L727.4,1839.0 L728.5,1841.6 L729.6,1844.5 L729.7,1844.9 L730.7,1847.5 L731.7,1850.8 L732.8,1854.3 L733.9,1858.1 L735.0,1862.2 L736.1,1866.6 L736.5,1868.4 L737.2,1871.3 L738.3,1876.4 L739.3,1881.9 L740.4,1887.7 L741.5,1894.0 L742.6,1900.8 L743.3,1905.4 L743.7,1908.0 L744.8,1915.8 L745.9,1924.0 L746.9,1932.9 L748.0,1942.3 L749.1,1952.3 L750.1,1961.9 L750.2,1963.0 L751.3,1974.3 L752.4,1986.3 L753.4,1999.0 L754.5,2012.5 L755.6,2026.6 L756.7,2041.5 L756.9,2043.8 L757.8,2057.1 L758.9,2073.5 L760.0,2090.6 L761.0,2108.5 L762.1,2127.0 L763.2,2146.1 L763.6,2153.9 L764.3,2165.9 L765.4,2186.2 L766.5,2206.9 L767.5,2228.1 L768.6,2249.6 L769.7,2271.3 L770.4,2285.4 L770.8,2293.0 L771.9,2314.7 L773.0,2336.3 L774.1,2357.5 L775.1,2378.2 L776.2,2398.2 L777.2,2415.6 L777.3,2417.5 L778.4,2435.7 L779.5,2452.8 L780.6,2468.6 L781.7,2482.9 L782.7,2495.6 L783.8,2506.5 L784.0,2508.0 L784.9,2515.6 L786.0,2522.8 L787.1,2527.9 L788.2,2531.0 L789.2,2532.0 L790.3,2530.9 L790.8,2529.9 L791.4,2527.8 L792.5,2522.7 L793.6,2515.7 L794.7,2506.9 L795.8,2496.4 L796.8,2484.3 L797.5,2475.7 L797.9,2470.7 L799.0,2455.9 L800.1,2439.9 L801.2,2422.8 L802.3,2405.0 L803.3,2386.4 L804.3,2369.3 L804.4,2367.3 L805.5,2347.8 L806.6,2328.0 L807.7,2308.1 L808.8,2288.1 L809.9,2268.2 L810.9,2248.5 L811.1,2245.6 L812.0,2229.0 L813.1,2209.8 L814.2,2191.0 L815.3,2172.7 L816.4,2154.8 L817.5,2137.4 L817.9,2130.7 L818.5,2120.6 L819.6,2104.4 L820.7,2088.7 L821.8,2073.6 L822.9,2059.1 L824.0,2045.1 L824.7,2036.4 L825.0,2031.8 L826.1,2019.0 L827.2,2006.9 L828.3,1995.2 L829.4,1984.2 L830.5,1973.7 L831.4,1964.6 L831.6,1963.6 L832.6,1954.1 L833.7,1945.1 L834.8,1936.5 L835.9,1928.4 L837.0,1920.7 L838.1,1913.4 L838.2,1912.3 L839.2,1906.4 L840.2,1899.9 L841.3,1893.7 L842.4,1887.9 L843.5,1882.3 L844.6,1877.1 L845.0,1875.1 L845.7,1872.1 L846.7,1867.5 L847.8,1863.1 L848.9,1858.9 L850.0,1855.0 L851.1,1851.3 L851.8,1849.0 L852.2,1847.8 L853.3,1844.5 L854.3,1841.4 L855.4,1838.4 L856.5,1835.7 L857.6,1833.0 L858.6,1830.8 L858.7,1830.6 L859.8,1828.3 L860.8,1826.1 L861.9,1824.0 L863.0,1822.1 L864.1,1820.3 L865.2,1818.6 L865.3,1818.3 L866.3,1817.0 L867.4,1815.5 L868.4,1814.0 L869.5,1812.7 L870.6,1811.5 L871.7,1810.3 L872.1,1809.9 L872.8,1809.2 L873.9,1808.2 L875.0,1807.2 L876.0,1806.3 L877.1,1805.5 L878.2,1804.7 L878.9,1804.3 L879.3,1804.0 L880.4,1803.4 L881.5,1802.8 L882.5,1802.2 L883.6,1801.7 L884.7,1801.2 L885.7,1800.8 L885.8,1800.8 L886.9,1800.4 L888.0,1800.0 L889.1,1799.7 L890.1,1799.4 L891.2,1799.2 L892.3,1799.0 L892.5,1799.0 L893.4,1798.8 L894.5,1798.7 L899.3,1798.8 L906.0,1799.1 L912.8,1798.9 L919.6,1799.1 L926.4,1799.9 L933.2,1800.8 L939.9,1801.7 L946.7,1802.8 L953.5,1803.8 L960.3,1804.9 L967.1,1805.9 L973.8,1806.9 L980.6,1808.0 L987.4,1809.0 L994.2,1809.9 L1001.0,1810.9 L1007.7,1811.8 L1014.5,1812.6 L1021.3,1813.5 L1028.1,1814.3 L1034.9,1815.1 L1041.6,1815.8 L1048.4,1816.6 L1055.2,1817.3 L1062.0,1817.9 L1068.8,1818.6 L1075.5,1819.2 L1082.3,1819.8 L1089.1,1820.4 L1095.9,1820.9 L1102.7,1821.5 L1109.4,1822.0 L1116.2,1822.4 L1123.0,1822.9 L1129.8,1823.3 L1136.6,1823.7 L1143.3,1824.1 L1150.1,1824.4 L1156.9,1824.7 L1163.7,1825.0 L1170.5,1825.3 L1177.2,1825.5 L1184.0,1825.7 L1190.8,1825.9 L1197.6,1826.2 L1204.4,1826.4 L1211.1,1826.5 L1217.9,1826.7 L1224.7,1826.9 L1231.5,1827.1 L1238.3,1827.3 L1245.0,1827.4 L1251.8,1827.6 L1258.6,1827.7 L1265.4,1827.9 L1272.2,1828.0 L1279.0,1828.1 L1285.7,1828.3 L1292.5,1828.4 L1299.3,1828.5 L1306.1,1828.6 L1312.9,1828.7 L1319.6,1828.8 L1326.4,1828.9 L1333.2,1829.0 L1340.0,1829.1 L1346.8,1829.2 L1353.5,1829.3 L1360.3,1829.4 L1367.1,1829.5 L1373.9,1829.5 L1380.7,1829.6 L1387.4,1829.7 L1394.2,1829.7 L1401.0,1829.8 L1407.8,1829.8 L1414.6,1829.9 L1421.3,1829.9 L1428.1,1830.0" fill="none" stroke="#0000FF" stroke-width="9.0" stroke-linejoin="round" stroke-linecap="round" />
<path d="M350.0,1833.6 L356.8,1833.6 L363.6,1833.5 L370.4,1833.5 L377.2,1833.4 L383.9,1833.4 L390.7,1833.4 L397.5,1833.3 L404.3,1833.3 L411.1,1833.3 L417.8,1833.3 L424.6,1833.3 L431.4,1833.2 L438.2,1833.2 L445.0,1833.1 L451.7,1833.1 L458.5,1833.0 L465.3,1832.9 L472.1,1832.8 L478.9,1832.7 L485.6,1832.6 L492.4,1832.4 L499.2,1832.3 L506.0,1832.1 L512.8,1832.0 L519.6,1831.8 L526.3,1831.5 L533.1,1831.1 L539.9,1830.6 L546.7,1830.1 L553.5,1829.6 L560.2,1829.1 L567.0,1828.7 L573.8,1828.3 L580.6,1827.9 L587.4,1827.5 L594.1,1827.2 L600.9,1826.7 L607.7,1826.3 L614.5,1825.9 L621.3,1825.4 L628.0,1824.8 L634.8,1824.2 L641.6,1823.6 L648.4,1822.8 L655.2,1822.0 L661.9,1821.1 L668.7,1820.1 L675.5,1819.0 L682.3,1817.9 L689.1,1816.6 L695.8,1815.2 L702.6,1813.9 L709.4,1812.5 L712.6,1811.9 L713.7,1811.7 L714.8,1811.5 L715.9,1811.3 L716.2,1811.2 L716.9,1811.1 L718.0,1810.9 L719.1,1810.8 L720.2,1810.6 L721.3,1810.5 L722.4,1810.3 L723.0,1810.3 L723.5,1810.2 L724.5,1810.1 L725.6,1810.0 L726.7,1809.9 L727.8,1809.9 L728.9,1809.8 L729.7,1809.8 L730.0,1809.8 L731.0,1809.8 L732.1,1809.8 L733.2,1809.8 L734.3,1809.7 L735.4,1809.7 L736.5,1809.6 L736.5,1809.6 L737.6,1809.6 L738.6,1809.6 L739.7,1809.5 L740.8,1809.6 L741.9,1809.6 L743.0,1809.7 L743.3,1809.7 L744.1,1809.8 L745.1,1810.0 L746.2,1810.3 L747.3,1810.6 L748.4,1811.1 L749.5,1811.6 L750.1,1811.9 L750.6,1812.2 L751.7,1812.9 L752.7,1813.7 L753.8,1814.7 L754.9,1815.8 L756.0,1817.1 L756.9,1818.3 L757.1,1818.6 L758.2,1820.2 L759.3,1822.0 L760.3,1824.1 L761.4,1826.4 L762.5,1828.9 L763.6,1831.6 L763.6,1831.8 L764.7,1834.7 L765.8,1838.1 L766.8,1841.8 L767.9,1845.8 L769.0,1850.2 L770.1,1855.0 L770.4,1856.5 L771.2,1860.1 L772.3,1865.6 L773.4,1871.6 L774.4,1877.9 L775.5,1884.7 L776.6,1891.9 L777.2,1896.2 L777.7,1899.6 L778.8,1907.8 L779.9,1916.5 L780.9,1925.7 L782.0,1935.4 L783.1,1945.6 L784.0,1954.4 L784.2,1956.4 L785.3,1967.8 L786.4,1979.7 L787.5,1992.1 L788.5,2005.2 L789.6,2018.8 L790.7,2032.9 L790.8,2033.8 L791.8,2047.6 L792.9,2062.8 L794.0,2078.6 L795.1,2094.9 L796.1,2111.6 L797.2,2128.9 L797.5,2134.3 L798.3,2146.5 L799.4,2164.5 L800.5,2182.9 L801.6,2201.4 L802.6,2220.1 L803.7,2238.8 L804.3,2249.3 L804.8,2257.4 L805.9,2275.9 L807.0,2294.1 L808.1,2311.9 L809.2,2329.2 L810.2,2345.7 L811.1,2358.6 L811.3,2361.5 L812.4,2376.4 L813.5,2390.2 L814.6,2402.8 L815.7,2414.1 L816.7,2424.1 L817.8,2432.5 L817.9,2433.0 L818.9,2439.4 L820.0,2444.6 L821.1,2448.1 L822.2,2449.9 L823.3,2450.1 L824.3,2448.4 L824.7,2447.6 L825.4,2445.1 L826.5,2440.2 L827.6,2433.6 L828.7,2425.5 L829.8,2416.0 L830.9,2405.2 L831.4,2398.5 L831.9,2393.1 L833.0,2379.9 L834.1,2365.7 L835.2,2350.6 L836.3,2334.8 L837.4,2318.4 L838.2,2304.7 L838.4,2301.4 L839.5,2284.1 L840.6,2266.5 L841.7,2248.8 L842.8,2230.9 L843.9,2213.1 L845.0,2195.4 L845.0,2194.3 L846.0,2177.9 L847.1,2160.6 L848.2,2143.7 L849.3,2127.1 L850.4,2110.9 L851.5,2095.1 L851.8,2090.3 L852.5,2079.8 L853.6,2065.0 L854.7,2050.6 L855.8,2036.8 L856.9,2023.6 L858.0,2010.9 L858.6,2004.0 L859.1,1998.7 L860.1,1987.0 L861.2,1975.9 L862.3,1965.3 L863.4,1955.2 L864.5,1945.6 L865.3,1938.2 L865.6,1936.5 L866.7,1927.8 L867.7,1919.6 L868.8,1911.8 L869.9,1904.5 L871.0,1897.5 L872.1,1890.9 L872.1,1890.5 L873.2,1884.7 L874.2,1878.9 L875.3,1873.4 L876.4,1868.2 L877.5,1863.3 L878.6,1858.7 L878.9,1857.3 L879.7,1854.3 L880.8,1850.3 L881.8,1846.4 L882.9,1842.9 L884.0,1839.5 L885.1,1836.3 L885.7,1834.6 L886.2,1833.4 L887.3,1830.6 L888.3,1828.0 L889.4,1825.6 L890.5,1823.3 L891.6,1821.2 L892.5,1819.5 L892.7,1819.2 L893.8,1817.3 L894.9,1815.6 L895.9,1814.0 L897.0,1812.5 L898.1,1811.1 L899.2,1809.8 L899.3,1809.7 L900.3,1808.6 L901.4,1807.5 L902.5,1806.4 L903.5,1805.5 L904.6,1804.6 L905.7,1803.8 L906.0,1803.6 L906.8,1803.0 L907.9,1802.4 L909.0,1801.7 L910.0,1801.2 L911.1,1800.6 L912.2,1800.2 L912.8,1799.9 L913.3,1799.8 L914.4,1799.4 L915.5,1799.0 L916.6,1798.7 L917.6,1798.5 L918.7,1798.2 L919.6,1798.1 L919.8,1798.1 L920.9,1798.1 L922.0,1798.1 L923.1,1798.2 L924.1,1798.2 L925.2,1798.1 L926.3,1798.1 L926.4,1798.1 L927.4,1798.1 L928.5,1798.1 L933.2,1798.2 L939.9,1798.7 L946.7,1799.6 L953.5,1800.6 L960.3,1801.7 L967.1,1802.9 L973.8,1804.0 L980.6,1805.2 L987.4,1806.3 L994.2,1807.3 L1001.0,1808.3 L1007.7,1809.3 L1014.5,1810.2 L1021.3,1811.1 L1028.1,1811.9 L1034.9,1812.6 L1041.6,1813.3 L1048.4,1814.0 L1055.2,1814.6 L1062.0,1815.2 L1068.8,1815.8 L1075.5,1816.3 L1082.3,1816.8 L1089.1,1817.3 L1095.9,1817.7 L1102.7,1818.1 L1109.4,1818.5 L1116.2,1818.9 L1123.0,1819.2 L1129.8,1819.6 L1136.6,1819.9 L1143.3,1820.2 L1150.1,1820.5 L1156.9,1820.8 L1163.7,1821.1 L1170.5,1821.4 L1177.2,1821.7 L1184.0,1822.0 L1190.8,1822.4 L1197.6,1822.9 L1204.4,1823.3 L1211.1,1823.8 L1217.9,1824.3 L1224.7,1824.7 L1231.5,1825.1 L1238.3,1825.5 L1245.0,1825.8 L1251.8,1826.0 L1258.6,1826.2 L1265.4,1826.4 L1272.2,1826.6 L1279.0,1826.7 L1285.7,1826.9 L1292.5,1827.1 L1299.3,1827.2 L1306.1,1827.4 L1312.9,1827.5 L1319.6,1827.7 L1326.4,1827.8 L1333.2,1828.0 L1340.0,1828.1 L1346.8,1828.2 L1353.5,1828.3 L1360.3,1828.4 L1367.1,1828.5 L1373.9,1828.7 L1380.7,1828.8 L1387.4,1828.8 L1394.2,1828.9 L1401.0,1829.0 L1407.8,1829.1 L1414.6,1829.2 L1421.3,1829.3 L1428.1,1829.4" fill="none" stroke="#00FF00" stroke-width="9.0" stroke-linejoin="round" stroke-linecap="round" />
</g>
<text transform="translate(112.3,2858.9) rotate(-90)" font-size="90.3" style="white-space:pre">total absorp. coeff. (10<tspan font-size="56.0" dy="-45.7">3</tspan><tspan dy="45.7"> cm</tspan><tspan font-size="56.0" dy="-45.7">-1</tspan><tspan dy="45.7">)</tspan></text>
<text x="1301.4" y="3030.5" font-size="90.8" text-anchor="middle">photon energy (meV)</text>
<text x="376" y="1718" font-size="91">(b)</text>
<text x="1156" y="1998.1" font-size="91">2-3</text>
<text x="1021.5" y="2125.5" font-size="91" style="white-space:pre">k = 25 nm</text>
<path d="M1171.4,2259.6 L1371.7,2259.6" fill="none" stroke="#000000" stroke-width="9.0" stroke-linecap="round" />
<text x="1396" y="2291.3" font-size="91" style="white-space:pre">z<tspan font-size="56.5" dx="3" dy="32.3">0</tspan><tspan dx="-3" dy="-32.3"> = 0</tspan></text>
<path d="M1171.4,2403.07 L1371.7,2403.07" fill="none" stroke="#FF0000" stroke-width="9.0" stroke-linecap="round" />
<text x="1396" y="2434.77" font-size="91" style="white-space:pre">z<tspan font-size="56.5" dx="3" dy="32.3">0</tspan><tspan dx="-3" dy="-32.3"> = 5 nm</tspan></text>
<path d="M1171.4,2546.54 L1371.7,2546.54" fill="none" stroke="#0000FF" stroke-width="9.0" stroke-linecap="round" />
<text x="1396" y="2578.24" font-size="91" style="white-space:pre">z<tspan font-size="56.5" dx="3" dy="32.3">0</tspan><tspan dx="-3" dy="-32.3"> = 10 nm</tspan></text>
<path d="M1171.4,2690.01 L1371.7,2690.01" fill="none" stroke="#00FF00" stroke-width="9.0" stroke-linecap="round" />
<text x="1396" y="2721.71" font-size="91" style="white-space:pre">z<tspan font-size="56.5" dx="3" dy="32.3">0</tspan><tspan dx="-3" dy="-32.3"> = 15 nm</tspan></text>
<path d="M1536,1921.1 L1735.6,1921.1" fill="none" stroke="#000" stroke-width="9.0" stroke-linecap="round" />
<text x="1761" y="1953" font-size="91">CM</text>
<path d="M1536,2040.2 L1735,2040.2" fill="none" stroke="#000" stroke-width="9.0" stroke-linecap="round" stroke-dasharray="25.5 38.1"/>
<text x="1761" y="2070.6" font-size="91" style="white-space:pre">d = 30 nm</text>
<path d="M1535.3,2156.6 L1705,2156.6" fill="none" stroke="#000" stroke-width="10" stroke-linecap="round" stroke-dasharray="1.2 41.4"/>
<text x="1761" y="2188.8" font-size="91" style="white-space:pre">d = 50 nm</text>
</svg></body></html>
